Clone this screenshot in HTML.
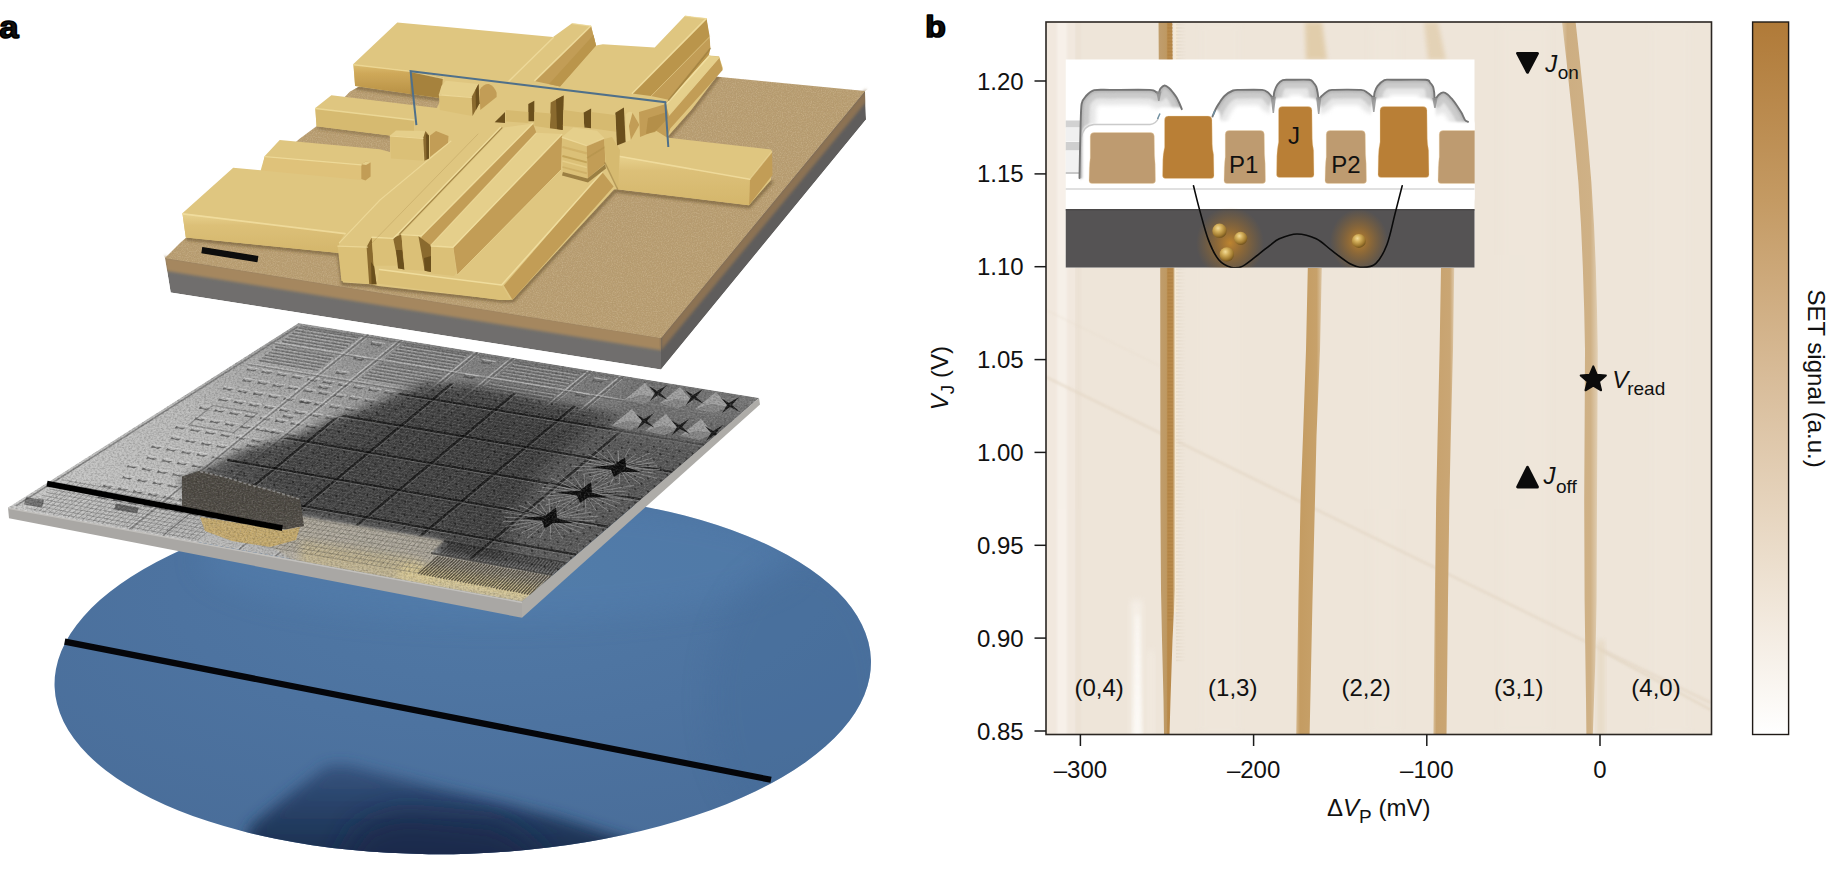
<!DOCTYPE html>
<html><head><meta charset="utf-8"><title>Figure</title>
<style>
html,body{margin:0;padding:0;background:#fff;}
body{width:1828px;height:871px;overflow:hidden;}
svg{display:block;font-family:"Liberation Sans",sans-serif;}
text{font-family:"Liberation Sans",sans-serif;fill:#111;}
</style></head><body>
<svg width="1828" height="871" viewBox="0 0 1828 871">
<rect x="0" y="0" width="1828" height="871" fill="#ffffff"/>
<g id="panela">
<defs>
<radialGradient id="wafg" cx="0.55" cy="0.25" r="0.8"><stop offset="0" stop-color="#5079a6"/><stop offset="0.5" stop-color="#4d73a0"/><stop offset="1" stop-color="#496d99"/></radialGradient>
<linearGradient id="shadg" gradientUnits="userSpaceOnUse" x1="0" y1="765" x2="0" y2="856"><stop offset="0" stop-color="#2f4a74" stop-opacity="0.75"/><stop offset="0.5" stop-color="#223a60" stop-opacity="0.9"/><stop offset="1" stop-color="#1a2e4e" stop-opacity="1"/></linearGradient>
<clipPath id="wafclip"><ellipse cx="462.75" cy="673.2" rx="408.4" ry="180.6" transform="rotate(-1.9 462.75 673.2)"/></clipPath>
<filter id="softa" x="-2%" y="-2%" width="104%" height="104%"><feGaussianBlur stdDeviation="0.55"/></filter>
<filter id="wblur" x="-30%" y="-30%" width="160%" height="160%"><feGaussianBlur stdDeviation="14"/></filter>
<filter id="wblur2" x="-30%" y="-30%" width="160%" height="160%"><feGaussianBlur stdDeviation="7"/></filter>
</defs>
<ellipse cx="462.75" cy="673.2" rx="408.4" ry="180.6" transform="rotate(-1.9 462.75 673.2)" fill="url(#wafg)"/>
<g clip-path="url(#wafclip)">
<ellipse cx="500" cy="560" rx="300" ry="60" fill="#5683b3" opacity="0.35" filter="url(#wblur)"/>
<ellipse cx="800" cy="700" rx="90" ry="140" fill="#456c99" opacity="0.4" filter="url(#wblur)"/>
<g filter="url(#wblur2)">
<polygon points="236,880 250,826 290,794 327,766 346,765 445,790 560,818 635,842 700,880" fill="url(#shadg)" />
</g>
<g filter="url(#wblur)">
<polygon points="330,880 360,826 400,812 500,822 540,850 560,890" fill="#17294a" opacity="0.75"/>
</g>
</g>
<line x1="64.7" y1="641.6" x2="771" y2="779.8" stroke="#05060a" stroke-width="6.2" />
<g filter="url(#softa)">
<g id="chipmid">
<defs>
<clipPath id="midclip"><polygon points="298.5,323 759,398 522,601.5 8,507.4"/></clipPath>
<linearGradient id="midbase" gradientUnits="userSpaceOnUse" x1="20" y1="500" x2="700" y2="380"><stop offset="0" stop-color="#cacac9"/><stop offset="0.25" stop-color="#bcbcbb"/><stop offset="0.6" stop-color="#a6a6a6"/><stop offset="1" stop-color="#989898"/></linearGradient>
<linearGradient id="midback" gradientUnits="userSpaceOnUse" x1="470" y1="340" x2="300" y2="520"><stop offset="0" stop-color="#4a4a4a" stop-opacity="0.42"/><stop offset="0.45" stop-color="#4a4a4a" stop-opacity="0.18"/><stop offset="1" stop-color="#4a4a4a" stop-opacity="0"/></linearGradient>
<filter id="mblur" x="-20%" y="-20%" width="140%" height="140%"><feGaussianBlur stdDeviation="9"/></filter>
<filter id="mblur2" x="-20%" y="-20%" width="140%" height="140%"><feGaussianBlur stdDeviation="4"/></filter>
<filter id="mblur1" x="-20%" y="-20%" width="140%" height="140%"><feGaussianBlur stdDeviation="1.2"/></filter>
<filter id="mblur05" x="-20%" y="-20%" width="140%" height="140%"><feGaussianBlur stdDeviation="0.6"/></filter>
<filter id="mnoise" x="0" y="0" width="100%" height="100%"><feTurbulence type="fractalNoise" baseFrequency="0.45 0.6" numOctaves="2" seed="3" result="n"/><feColorMatrix type="matrix" values="0 0 0 0 0  0 0 0 0 0  0 0 0 0 0  1.3 0 0 0 -0.5"/></filter>
<filter id="mnoisew" x="0" y="0" width="100%" height="100%"><feTurbulence type="fractalNoise" baseFrequency="0.5 0.65" numOctaves="2" seed="11" result="n"/><feColorMatrix type="matrix" values="0 0 0 0 1  0 0 0 0 1  0 0 0 0 1  1.3 0 0 0 -0.55"/></filter>
</defs>
<polygon points="8,507.4 522,601.5 522,617.8 9,518.2" fill="#a9a7a4" />
<polygon points="522,601.5 759,398 760,404.5 522,617.8" fill="#aeaca8" />
<polygon points="8,507.4 8.4,509 522,603.2 522,601.5" fill="#c2c0bd" />
<g clip-path="url(#midclip)">
<polygon points="298.5,323 759,398 522,601.5 8,507.4" fill="url(#midbase)" />
<polygon points="298.5,323 759,398 522,601.5 8,507.4" fill="url(#midback)" />
<polygon points="300.3,326.7 359.6,336.4 339.7,352.6 280.4,342.8" fill="#7c7c7c" opacity="0.35"/>
<line x1="298.7" y1="328" x2="357.9" y2="337.7" stroke="#585858" stroke-width="1.3" opacity="0.55"/>
<line x1="297.3" y1="329.2" x2="356.5" y2="338.9" stroke="#c9c9c9" stroke-width="0.9" opacity="0.55"/>
<line x1="295.3" y1="330.7" x2="354.6" y2="340.4" stroke="#585858" stroke-width="1.3" opacity="0.55"/>
<line x1="293.9" y1="331.9" x2="353.2" y2="341.6" stroke="#c9c9c9" stroke-width="0.9" opacity="0.55"/>
<line x1="292" y1="333.4" x2="351.3" y2="343.1" stroke="#585858" stroke-width="1.3" opacity="0.55"/>
<line x1="290.6" y1="334.5" x2="349.9" y2="344.3" stroke="#c9c9c9" stroke-width="0.9" opacity="0.55"/>
<line x1="288.7" y1="336.1" x2="348" y2="345.8" stroke="#585858" stroke-width="1.3" opacity="0.55"/>
<line x1="287.3" y1="337.2" x2="346.6" y2="347" stroke="#c9c9c9" stroke-width="0.9" opacity="0.55"/>
<line x1="285.4" y1="338.8" x2="344.7" y2="348.5" stroke="#585858" stroke-width="1.3" opacity="0.55"/>
<line x1="284" y1="339.9" x2="343.3" y2="349.7" stroke="#c9c9c9" stroke-width="0.9" opacity="0.55"/>
<line x1="282.1" y1="341.5" x2="341.4" y2="351.2" stroke="#585858" stroke-width="1.3" opacity="0.55"/>
<line x1="280.7" y1="342.6" x2="340" y2="352.4" stroke="#c9c9c9" stroke-width="0.9" opacity="0.55"/>
<polygon points="276.9,345.7 336.2,355.5 316.2,371.8 256.9,361.9" fill="#7c7c7c" opacity="0.35"/>
<line x1="275.2" y1="347" x2="334.5" y2="356.8" stroke="#585858" stroke-width="1.3" opacity="0.55"/>
<line x1="273.8" y1="348.2" x2="333.1" y2="358" stroke="#c9c9c9" stroke-width="0.9" opacity="0.55"/>
<line x1="271.9" y1="349.7" x2="331.2" y2="359.5" stroke="#585858" stroke-width="1.3" opacity="0.55"/>
<line x1="270.5" y1="350.8" x2="329.8" y2="360.7" stroke="#c9c9c9" stroke-width="0.9" opacity="0.55"/>
<line x1="268.6" y1="352.4" x2="327.9" y2="362.2" stroke="#585858" stroke-width="1.3" opacity="0.55"/>
<line x1="267.1" y1="353.5" x2="326.5" y2="363.4" stroke="#c9c9c9" stroke-width="0.9" opacity="0.55"/>
<line x1="265.2" y1="355.1" x2="324.6" y2="365" stroke="#585858" stroke-width="1.3" opacity="0.55"/>
<line x1="263.8" y1="356.2" x2="323.1" y2="366.1" stroke="#c9c9c9" stroke-width="0.9" opacity="0.55"/>
<line x1="261.9" y1="357.8" x2="321.2" y2="367.7" stroke="#585858" stroke-width="1.3" opacity="0.55"/>
<line x1="260.5" y1="358.9" x2="319.8" y2="368.8" stroke="#c9c9c9" stroke-width="0.9" opacity="0.55"/>
<line x1="258.5" y1="360.5" x2="317.9" y2="370.4" stroke="#585858" stroke-width="1.3" opacity="0.55"/>
<line x1="257.1" y1="361.6" x2="316.5" y2="371.5" stroke="#c9c9c9" stroke-width="0.9" opacity="0.55"/>
<polygon points="403.7,343.6 468.6,354.2 448.7,370.6 383.8,359.9" fill="#7c7c7c" opacity="0.35"/>
<line x1="402" y1="344.9" x2="466.9" y2="355.5" stroke="#585858" stroke-width="1.3" opacity="0.55"/>
<line x1="400.6" y1="346.1" x2="465.5" y2="356.7" stroke="#c9c9c9" stroke-width="0.9" opacity="0.55"/>
<line x1="398.7" y1="347.6" x2="463.6" y2="358.2" stroke="#585858" stroke-width="1.3" opacity="0.55"/>
<line x1="397.3" y1="348.8" x2="462.2" y2="359.4" stroke="#c9c9c9" stroke-width="0.9" opacity="0.55"/>
<line x1="395.4" y1="350.3" x2="460.3" y2="361" stroke="#585858" stroke-width="1.3" opacity="0.55"/>
<line x1="394" y1="351.5" x2="458.9" y2="362.1" stroke="#c9c9c9" stroke-width="0.9" opacity="0.55"/>
<line x1="392.1" y1="353.1" x2="457" y2="363.7" stroke="#585858" stroke-width="1.3" opacity="0.55"/>
<line x1="390.7" y1="354.2" x2="455.6" y2="364.9" stroke="#c9c9c9" stroke-width="0.9" opacity="0.55"/>
<line x1="388.8" y1="355.8" x2="453.7" y2="366.5" stroke="#585858" stroke-width="1.3" opacity="0.55"/>
<line x1="387.4" y1="356.9" x2="452.3" y2="367.6" stroke="#c9c9c9" stroke-width="0.9" opacity="0.55"/>
<line x1="385.5" y1="358.5" x2="450.4" y2="369.2" stroke="#585858" stroke-width="1.3" opacity="0.55"/>
<line x1="384.1" y1="359.6" x2="449" y2="370.3" stroke="#c9c9c9" stroke-width="0.9" opacity="0.55"/>
<polygon points="380.3,362.7 445.2,373.5 425.3,389.9 360.3,379.1" fill="#7c7c7c" opacity="0.35"/>
<line x1="378.6" y1="364.1" x2="443.6" y2="374.8" stroke="#585858" stroke-width="1.3" opacity="0.55"/>
<line x1="377.2" y1="365.3" x2="442.2" y2="376" stroke="#c9c9c9" stroke-width="0.9" opacity="0.55"/>
<line x1="375.3" y1="366.8" x2="440.3" y2="377.6" stroke="#585858" stroke-width="1.3" opacity="0.55"/>
<line x1="373.9" y1="368" x2="438.8" y2="378.7" stroke="#c9c9c9" stroke-width="0.9" opacity="0.55"/>
<line x1="372" y1="369.6" x2="436.9" y2="380.3" stroke="#585858" stroke-width="1.3" opacity="0.55"/>
<line x1="370.6" y1="370.7" x2="435.5" y2="381.5" stroke="#c9c9c9" stroke-width="0.9" opacity="0.55"/>
<line x1="368.7" y1="372.3" x2="433.6" y2="383.1" stroke="#585858" stroke-width="1.3" opacity="0.55"/>
<line x1="367.2" y1="373.4" x2="432.2" y2="384.2" stroke="#c9c9c9" stroke-width="0.9" opacity="0.55"/>
<line x1="365.3" y1="375" x2="430.3" y2="385.8" stroke="#585858" stroke-width="1.3" opacity="0.55"/>
<line x1="363.9" y1="376.2" x2="428.9" y2="387" stroke="#c9c9c9" stroke-width="0.9" opacity="0.55"/>
<line x1="362" y1="377.7" x2="427" y2="388.6" stroke="#585858" stroke-width="1.3" opacity="0.55"/>
<line x1="360.6" y1="378.9" x2="425.5" y2="389.7" stroke="#c9c9c9" stroke-width="0.9" opacity="0.55"/>
<polygon points="515.8,361.9 581.9,372.6 562.1,389.2 495.9,378.3" fill="#7c7c7c" opacity="0.35"/>
<line x1="514.1" y1="363.2" x2="580.3" y2="374" stroke="#585858" stroke-width="1.3" opacity="0.55"/>
<line x1="512.7" y1="364.4" x2="578.9" y2="375.2" stroke="#c9c9c9" stroke-width="0.9" opacity="0.55"/>
<line x1="510.8" y1="366" x2="577" y2="376.8" stroke="#585858" stroke-width="1.3" opacity="0.55"/>
<line x1="509.4" y1="367.1" x2="575.6" y2="378" stroke="#c9c9c9" stroke-width="0.9" opacity="0.55"/>
<line x1="507.5" y1="368.7" x2="573.7" y2="379.6" stroke="#585858" stroke-width="1.3" opacity="0.55"/>
<line x1="506.1" y1="369.9" x2="572.3" y2="380.7" stroke="#c9c9c9" stroke-width="0.9" opacity="0.55"/>
<line x1="504.2" y1="371.5" x2="570.4" y2="382.3" stroke="#585858" stroke-width="1.3" opacity="0.55"/>
<line x1="502.8" y1="372.6" x2="569" y2="383.5" stroke="#c9c9c9" stroke-width="0.9" opacity="0.55"/>
<line x1="500.9" y1="374.2" x2="567.1" y2="385.1" stroke="#585858" stroke-width="1.3" opacity="0.55"/>
<line x1="499.5" y1="375.4" x2="565.7" y2="386.3" stroke="#c9c9c9" stroke-width="0.9" opacity="0.55"/>
<line x1="497.6" y1="377" x2="563.8" y2="387.9" stroke="#585858" stroke-width="1.3" opacity="0.55"/>
<line x1="496.2" y1="378.1" x2="562.4" y2="389" stroke="#c9c9c9" stroke-width="0.9" opacity="0.55"/>
<polygon points="492.4,381.3 558.6,392.2 538.7,408.9 472.5,397.8" fill="#7c7c7c" opacity="0.35"/>
<line x1="490.8" y1="382.6" x2="557" y2="393.6" stroke="#585858" stroke-width="1.3" opacity="0.55"/>
<line x1="489.4" y1="383.8" x2="555.6" y2="394.7" stroke="#c9c9c9" stroke-width="0.9" opacity="0.55"/>
<line x1="487.5" y1="385.4" x2="553.7" y2="396.3" stroke="#585858" stroke-width="1.3" opacity="0.55"/>
<line x1="486.1" y1="386.6" x2="552.3" y2="397.5" stroke="#c9c9c9" stroke-width="0.9" opacity="0.55"/>
<line x1="484.2" y1="388.1" x2="550.4" y2="399.1" stroke="#585858" stroke-width="1.3" opacity="0.55"/>
<line x1="482.8" y1="389.3" x2="548.9" y2="400.3" stroke="#c9c9c9" stroke-width="0.9" opacity="0.55"/>
<line x1="480.8" y1="390.9" x2="547" y2="401.9" stroke="#585858" stroke-width="1.3" opacity="0.55"/>
<line x1="479.4" y1="392.1" x2="545.6" y2="403.1" stroke="#c9c9c9" stroke-width="0.9" opacity="0.55"/>
<line x1="477.5" y1="393.7" x2="543.7" y2="404.7" stroke="#585858" stroke-width="1.3" opacity="0.55"/>
<line x1="476.1" y1="394.8" x2="542.3" y2="405.9" stroke="#c9c9c9" stroke-width="0.9" opacity="0.55"/>
<line x1="474.2" y1="396.4" x2="540.4" y2="407.5" stroke="#585858" stroke-width="1.3" opacity="0.55"/>
<line x1="472.8" y1="397.6" x2="539" y2="408.7" stroke="#c9c9c9" stroke-width="0.9" opacity="0.55"/>
<polygon points="371.9,342.6 376,344.5 382.7,344.4 378.8,346.5 375.1,345.3 370.2,345.1" fill="#4a4a4a" opacity="0.7"/>
<line x1="372.1" y1="341.4" x2="385.1" y2="343.5" stroke="#d6d6d6" stroke-width="1.1" opacity="0.65"/>
<polygon points="354.4,356.9 358.5,358.9 365.2,358.7 361.2,360.9 357.6,359.6 352.6,359.4" fill="#4a4a4a" opacity="0.7"/>
<line x1="354.6" y1="355.7" x2="367.5" y2="357.8" stroke="#d6d6d6" stroke-width="1.1" opacity="0.65"/>
<polygon points="336.7,371.3 340.8,373.3 347.5,373.1 343.6,375.3 339.9,374 335,373.8" fill="#4a4a4a" opacity="0.7"/>
<line x1="337" y1="370.1" x2="349.9" y2="372.2" stroke="#d6d6d6" stroke-width="1.1" opacity="0.65"/>
<polygon points="319.1,385.8 323.2,387.7 329.9,387.6 325.9,389.8 322.3,388.5 317.3,388.3" fill="#4a4a4a" opacity="0.7"/>
<line x1="319.3" y1="384.5" x2="332.2" y2="386.7" stroke="#d6d6d6" stroke-width="1.1" opacity="0.65"/>
<polygon points="301.3,400.3 305.4,402.3 312.1,402.1 308.2,404.3 304.5,403 299.5,402.8" fill="#4a4a4a" opacity="0.7"/>
<line x1="301.5" y1="399" x2="314.5" y2="401.2" stroke="#d6d6d6" stroke-width="1.1" opacity="0.65"/>
<polygon points="283.5,414.8 287.6,416.8 294.3,416.7 290.3,418.9 286.7,417.6 281.7,417.4" fill="#4a4a4a" opacity="0.7"/>
<line x1="283.7" y1="413.6" x2="296.7" y2="415.8" stroke="#d6d6d6" stroke-width="1.1" opacity="0.65"/>
<polygon points="265.6,429.5 269.7,431.5 276.4,431.3 272.5,433.5 268.8,432.2 263.8,432" fill="#4a4a4a" opacity="0.7"/>
<line x1="265.8" y1="428.2" x2="278.8" y2="430.4" stroke="#d6d6d6" stroke-width="1.1" opacity="0.65"/>
<polygon points="247.7,444.1 251.8,446.1 258.5,446 254.5,448.2 250.8,446.9 245.8,446.7" fill="#4a4a4a" opacity="0.7"/>
<line x1="247.9" y1="442.9" x2="260.9" y2="445.1" stroke="#d6d6d6" stroke-width="1.1" opacity="0.65"/>
<polygon points="229.6,458.9 233.7,460.9 240.5,460.8 236.5,462.9 232.8,461.6 227.8,461.4" fill="#4a4a4a" opacity="0.7"/>
<line x1="229.9" y1="457.6" x2="242.9" y2="459.9" stroke="#d6d6d6" stroke-width="1.1" opacity="0.65"/>
<polygon points="211.6,473.6 215.6,475.7 222.4,475.5 218.4,477.8 214.7,476.4 209.7,476.2" fill="#4a4a4a" opacity="0.7"/>
<line x1="211.8" y1="472.4" x2="224.8" y2="474.7" stroke="#d6d6d6" stroke-width="1.1" opacity="0.65"/>
<polygon points="193.4,488.5 197.5,490.5 204.2,490.4 200.2,492.6 196.5,491.3 191.5,491.1" fill="#4a4a4a" opacity="0.7"/>
<line x1="193.7" y1="487.2" x2="206.7" y2="489.5" stroke="#d6d6d6" stroke-width="1.1" opacity="0.65"/>
<polygon points="175.2,503.4 179.3,505.4 186,505.3 182,507.5 178.3,506.2 173.3,506" fill="#4a4a4a" opacity="0.7"/>
<line x1="175.4" y1="502.1" x2="188.4" y2="504.4" stroke="#d6d6d6" stroke-width="1.1" opacity="0.65"/>
<polygon points="482.3,360.7 486.6,362.6 493.3,362.4 489.4,364.6 485.7,363.4 480.6,363.2" fill="#4a4a4a" opacity="0.7"/>
<line x1="482.5" y1="359.4" x2="495.7" y2="361.6" stroke="#d6d6d6" stroke-width="1.1" opacity="0.65"/>
<polygon points="464.8,375.2 469,377.1 475.8,377 471.9,379.1 468.1,377.9 463.1,377.7" fill="#4a4a4a" opacity="0.7"/>
<line x1="465" y1="373.9" x2="478.2" y2="376.1" stroke="#d6d6d6" stroke-width="1.1" opacity="0.65"/>
<polygon points="447.3,389.7 451.5,391.7 458.3,391.6 454.3,393.7 450.6,392.5 445.5,392.3" fill="#4a4a4a" opacity="0.7"/>
<line x1="447.5" y1="388.5" x2="460.7" y2="390.7" stroke="#d6d6d6" stroke-width="1.1" opacity="0.65"/>
<polygon points="429.6,404.3 433.8,406.3 440.6,406.2 436.7,408.4 432.9,407.1 427.9,406.9" fill="#4a4a4a" opacity="0.7"/>
<line x1="429.8" y1="403.1" x2="443" y2="405.3" stroke="#d6d6d6" stroke-width="1.1" opacity="0.65"/>
<polygon points="411.9,419 416.1,421 422.9,420.9 419,423.1 415.2,421.8 410.2,421.6" fill="#4a4a4a" opacity="0.7"/>
<line x1="412.1" y1="417.8" x2="425.3" y2="420" stroke="#d6d6d6" stroke-width="1.1" opacity="0.65"/>
<polygon points="394.1,433.8 398.3,435.8 405.2,435.6 401.2,437.8 397.4,436.5 392.4,436.3" fill="#4a4a4a" opacity="0.7"/>
<line x1="394.4" y1="432.5" x2="407.6" y2="434.7" stroke="#d6d6d6" stroke-width="1.1" opacity="0.65"/>
<polygon points="376.3,448.5 380.5,450.6 387.3,450.4 383.3,452.6 379.6,451.3 374.5,451.1" fill="#4a4a4a" opacity="0.7"/>
<line x1="376.5" y1="447.3" x2="389.7" y2="449.5" stroke="#d6d6d6" stroke-width="1.1" opacity="0.65"/>
<polygon points="358.4,463.4 362.6,465.4 369.4,465.3 365.4,467.5 361.7,466.2 356.6,466" fill="#4a4a4a" opacity="0.7"/>
<line x1="358.6" y1="462.1" x2="371.8" y2="464.4" stroke="#d6d6d6" stroke-width="1.1" opacity="0.65"/>
<polygon points="340.4,478.3 344.6,480.4 351.5,480.2 347.4,482.4 343.7,481.1 338.6,480.9" fill="#4a4a4a" opacity="0.7"/>
<line x1="340.6" y1="477" x2="353.9" y2="479.3" stroke="#d6d6d6" stroke-width="1.1" opacity="0.65"/>
<polygon points="322.4,493.3 326.6,495.3 333.4,495.2 329.4,497.4 325.6,496.1 320.6,495.9" fill="#4a4a4a" opacity="0.7"/>
<line x1="322.6" y1="492" x2="335.8" y2="494.3" stroke="#d6d6d6" stroke-width="1.1" opacity="0.65"/>
<polygon points="304.3,508.3 308.4,510.4 315.3,510.2 311.3,512.5 307.5,511.1 302.4,510.9" fill="#4a4a4a" opacity="0.7"/>
<line x1="304.5" y1="507" x2="317.7" y2="509.3" stroke="#d6d6d6" stroke-width="1.1" opacity="0.65"/>
<polygon points="286.1,523.3 290.3,525.4 297.1,525.3 293.1,527.6 289.3,526.2 284.2,526" fill="#4a4a4a" opacity="0.7"/>
<line x1="286.3" y1="522" x2="299.6" y2="524.4" stroke="#d6d6d6" stroke-width="1.1" opacity="0.65"/>
<polygon points="593.7,378.9 598,380.9 604.9,380.7 601,382.9 597.1,381.6 592,381.4" fill="#4a4a4a" opacity="0.7"/>
<line x1="593.9" y1="377.6" x2="607.3" y2="379.8" stroke="#d6d6d6" stroke-width="1.1" opacity="0.65"/>
<polygon points="576.2,393.5 580.6,395.5 587.5,395.4 583.5,397.6 579.7,396.3 574.5,396.1" fill="#4a4a4a" opacity="0.7"/>
<line x1="576.4" y1="392.3" x2="589.9" y2="394.5" stroke="#d6d6d6" stroke-width="1.1" opacity="0.65"/>
<polygon points="558.7,408.3 563,410.3 569.9,410.1 566,412.3 562.1,411.1 557,410.8" fill="#4a4a4a" opacity="0.7"/>
<line x1="558.9" y1="407" x2="572.3" y2="409.2" stroke="#d6d6d6" stroke-width="1.1" opacity="0.65"/>
<polygon points="541.1,423.1 545.4,425.1 552.3,425 548.4,427.2 544.5,425.9 539.4,425.7" fill="#4a4a4a" opacity="0.7"/>
<line x1="541.3" y1="421.8" x2="554.8" y2="424.1" stroke="#d6d6d6" stroke-width="1.1" opacity="0.65"/>
<polygon points="523.5,437.9 527.8,440 534.7,439.8 530.7,442 526.9,440.7 521.7,440.5" fill="#4a4a4a" opacity="0.7"/>
<line x1="523.6" y1="436.6" x2="537.1" y2="438.9" stroke="#d6d6d6" stroke-width="1.1" opacity="0.65"/>
<polygon points="505.7,452.8 510.1,454.9 517,454.8 513,457 509.1,455.7 504,455.4" fill="#4a4a4a" opacity="0.7"/>
<line x1="505.9" y1="451.5" x2="519.4" y2="453.8" stroke="#d6d6d6" stroke-width="1.1" opacity="0.65"/>
<polygon points="487.9,467.8 492.3,469.9 499.2,469.7 495.2,472 491.3,470.6 486.2,470.4" fill="#4a4a4a" opacity="0.7"/>
<line x1="488.1" y1="466.5" x2="501.6" y2="468.8" stroke="#d6d6d6" stroke-width="1.1" opacity="0.65"/>
<polygon points="470.1,482.8 474.4,484.9 481.3,484.8 477.3,487 473.5,485.7 468.3,485.4" fill="#4a4a4a" opacity="0.7"/>
<line x1="470.3" y1="481.5" x2="483.8" y2="483.9" stroke="#d6d6d6" stroke-width="1.1" opacity="0.65"/>
<polygon points="452.2,497.9 456.5,500 463.4,499.9 459.4,502.1 455.5,500.8 450.4,500.5" fill="#4a4a4a" opacity="0.7"/>
<line x1="452.3" y1="496.6" x2="465.8" y2="499" stroke="#d6d6d6" stroke-width="1.1" opacity="0.65"/>
<polygon points="434.2,513 438.5,515.2 445.4,515 441.4,517.3 437.5,515.9 432.4,515.7" fill="#4a4a4a" opacity="0.7"/>
<line x1="434.4" y1="511.7" x2="447.8" y2="514.1" stroke="#d6d6d6" stroke-width="1.1" opacity="0.65"/>
<polygon points="416.1,528.2 420.4,530.4 427.3,530.3 423.3,532.5 419.4,531.1 414.3,530.9" fill="#4a4a4a" opacity="0.7"/>
<line x1="416.3" y1="526.9" x2="429.8" y2="529.3" stroke="#d6d6d6" stroke-width="1.1" opacity="0.65"/>
<polygon points="397.9,543.5 402.2,545.6 409.2,545.5 405.1,547.8 401.3,546.4 396.1,546.2" fill="#4a4a4a" opacity="0.7"/>
<line x1="398.1" y1="542.2" x2="411.7" y2="544.6" stroke="#d6d6d6" stroke-width="1.1" opacity="0.65"/>
<polygon points="247.6,368.2 251.2,369.9 257.2,369.8 253.7,371.7 250.4,370.6 246,370.4" fill="#4a4a4a" opacity="0.7"/>
<line x1="247.8" y1="367" x2="259.3" y2="369" stroke="#d6d6d6" stroke-width="1.1" opacity="0.65"/>
<polygon points="262.7,370.7 266.3,372.4 272.3,372.3 268.8,374.2 265.5,373.1 261.1,372.9" fill="#4a4a4a" opacity="0.7"/>
<line x1="262.9" y1="369.6" x2="274.5" y2="371.5" stroke="#d6d6d6" stroke-width="1.1" opacity="0.65"/>
<polygon points="277.9,373.2 281.5,375 287.5,374.8 284,376.8 280.7,375.6 276.2,375.5" fill="#4a4a4a" opacity="0.7"/>
<line x1="278.1" y1="372.1" x2="289.6" y2="374" stroke="#d6d6d6" stroke-width="1.1" opacity="0.65"/>
<polygon points="293,375.8 296.7,377.5 302.7,377.4 299.2,379.3 295.9,378.2 291.4,378" fill="#4a4a4a" opacity="0.7"/>
<line x1="293.2" y1="374.7" x2="304.9" y2="376.6" stroke="#d6d6d6" stroke-width="1.1" opacity="0.65"/>
<polygon points="308.3,378.3 312,380.1 318,379.9 314.4,381.9 311.1,380.7 306.7,380.6" fill="#4a4a4a" opacity="0.7"/>
<line x1="308.5" y1="377.2" x2="320.1" y2="379.1" stroke="#d6d6d6" stroke-width="1.1" opacity="0.65"/>
<polygon points="323.5,380.9 327.2,382.6 333.3,382.5 329.7,384.4 326.4,383.3 321.9,383.1" fill="#4a4a4a" opacity="0.7"/>
<line x1="323.7" y1="379.8" x2="335.4" y2="381.7" stroke="#d6d6d6" stroke-width="1.1" opacity="0.65"/>
<polygon points="338.9,383.4 342.6,385.2 348.6,385.1 345.1,387 341.7,385.9 337.3,385.7" fill="#4a4a4a" opacity="0.7"/>
<line x1="339" y1="382.3" x2="350.7" y2="384.3" stroke="#d6d6d6" stroke-width="1.1" opacity="0.65"/>
<polygon points="354.2,386 357.9,387.8 364,387.6 360.4,389.6 357.1,388.5 352.6,388.3" fill="#4a4a4a" opacity="0.7"/>
<line x1="354.4" y1="384.9" x2="366.1" y2="386.8" stroke="#d6d6d6" stroke-width="1.1" opacity="0.65"/>
<polygon points="369.6,388.6 373.3,390.4 379.4,390.2 375.8,392.2 372.5,391 368,390.9" fill="#4a4a4a" opacity="0.7"/>
<line x1="369.8" y1="387.5" x2="381.5" y2="389.4" stroke="#d6d6d6" stroke-width="1.1" opacity="0.65"/>
<polygon points="385,391.2 388.8,393 394.8,392.8 391.3,394.8 387.9,393.6 383.4,393.4" fill="#4a4a4a" opacity="0.7"/>
<line x1="385.2" y1="390" x2="397" y2="392" stroke="#d6d6d6" stroke-width="1.1" opacity="0.65"/>
<polygon points="400.5,393.8 404.2,395.5 410.3,395.4 406.8,397.4 403.4,396.2 398.9,396" fill="#4a4a4a" opacity="0.7"/>
<line x1="400.7" y1="392.6" x2="412.5" y2="394.6" stroke="#d6d6d6" stroke-width="1.1" opacity="0.65"/>
<polygon points="416,396.4 419.8,398.1 425.9,398 422.3,400 419,398.8 414.4,398.6" fill="#4a4a4a" opacity="0.7"/>
<line x1="416.2" y1="395.2" x2="428" y2="397.2" stroke="#d6d6d6" stroke-width="1.1" opacity="0.65"/>
<polygon points="243.3,379 246.9,380.8 252.9,380.6 249.4,382.5 246.1,381.4 241.7,381.3" fill="#4a4a4a" opacity="0.7"/>
<line x1="243.5" y1="377.9" x2="255.1" y2="379.8" stroke="#d6d6d6" stroke-width="1.1" opacity="0.65"/>
<polygon points="258.5,381.5 262.1,383.3 268.1,383.2 264.5,385.1 261.3,384 256.8,383.8" fill="#4a4a4a" opacity="0.7"/>
<line x1="258.7" y1="380.4" x2="270.2" y2="382.4" stroke="#d6d6d6" stroke-width="1.1" opacity="0.65"/>
<polygon points="273.6,384.1 277.3,385.9 283.3,385.7 279.7,387.7 276.5,386.5 272,386.4" fill="#4a4a4a" opacity="0.7"/>
<line x1="273.8" y1="383" x2="285.4" y2="384.9" stroke="#d6d6d6" stroke-width="1.1" opacity="0.65"/>
<polygon points="288.8,386.7 292.5,388.4 298.5,388.3 295,390.2 291.7,389.1 287.2,388.9" fill="#4a4a4a" opacity="0.7"/>
<line x1="289" y1="385.6" x2="300.7" y2="387.5" stroke="#d6d6d6" stroke-width="1.1" opacity="0.65"/>
<polygon points="304.1,389.2 307.8,391 313.8,390.9 310.3,392.8 307,391.7 302.5,391.5" fill="#4a4a4a" opacity="0.7"/>
<line x1="304.3" y1="388.1" x2="315.9" y2="390.1" stroke="#d6d6d6" stroke-width="1.1" opacity="0.65"/>
<polygon points="319.4,391.8 323.1,393.6 329.1,393.5 325.6,395.4 322.3,394.3 317.8,394.1" fill="#4a4a4a" opacity="0.7"/>
<line x1="319.6" y1="390.7" x2="331.3" y2="392.7" stroke="#d6d6d6" stroke-width="1.1" opacity="0.65"/>
<polygon points="334.7,394.4 338.4,396.2 344.5,396 340.9,398 337.6,396.8 333.1,396.7" fill="#4a4a4a" opacity="0.7"/>
<line x1="334.9" y1="393.3" x2="346.6" y2="395.2" stroke="#d6d6d6" stroke-width="1.1" opacity="0.65"/>
<polygon points="350.1,397 353.8,398.8 359.9,398.6 356.3,400.6 353,399.4 348.5,399.3" fill="#4a4a4a" opacity="0.7"/>
<line x1="350.3" y1="395.9" x2="362" y2="397.8" stroke="#d6d6d6" stroke-width="1.1" opacity="0.65"/>
<polygon points="365.5,399.6 369.2,401.4 375.3,401.2 371.8,403.2 368.4,402 363.9,401.9" fill="#4a4a4a" opacity="0.7"/>
<line x1="365.7" y1="398.5" x2="377.5" y2="400.4" stroke="#d6d6d6" stroke-width="1.1" opacity="0.65"/>
<polygon points="381,402.2 384.7,404 390.8,403.8 387.2,405.8 383.9,404.7 379.4,404.5" fill="#4a4a4a" opacity="0.7"/>
<line x1="381.1" y1="401.1" x2="393" y2="403" stroke="#d6d6d6" stroke-width="1.1" opacity="0.65"/>
<polygon points="396.5,404.8 400.2,406.6 406.3,406.5 402.8,408.4 399.4,407.3 394.9,407.1" fill="#4a4a4a" opacity="0.7"/>
<line x1="396.6" y1="403.7" x2="408.5" y2="405.7" stroke="#d6d6d6" stroke-width="1.1" opacity="0.65"/>
<polygon points="412,407.4 415.8,409.2 421.9,409.1 418.3,411 414.9,409.9 410.4,409.7" fill="#4a4a4a" opacity="0.7"/>
<line x1="412.2" y1="406.3" x2="424" y2="408.3" stroke="#d6d6d6" stroke-width="1.1" opacity="0.65"/>
<polygon points="223.9,387.3 227.5,389.1 233.5,388.9 230,390.9 226.7,389.8 222.3,389.6" fill="#4a4a4a" opacity="0.7"/>
<line x1="224.1" y1="386.2" x2="235.6" y2="388.2" stroke="#d6d6d6" stroke-width="1.1" opacity="0.65"/>
<polygon points="239,389.9 242.7,391.7 248.7,391.5 245.1,393.5 241.8,392.3 237.4,392.1" fill="#4a4a4a" opacity="0.7"/>
<line x1="239.2" y1="388.8" x2="250.8" y2="390.7" stroke="#d6d6d6" stroke-width="1.1" opacity="0.65"/>
<polygon points="254.2,392.5 257.8,394.2 263.8,394.1 260.3,396 257,394.9 252.6,394.7" fill="#4a4a4a" opacity="0.7"/>
<line x1="254.4" y1="391.3" x2="266" y2="393.3" stroke="#d6d6d6" stroke-width="1.1" opacity="0.65"/>
<polygon points="269.4,395 273,396.8 279.1,396.7 275.5,398.6 272.2,397.5 267.8,397.3" fill="#4a4a4a" opacity="0.7"/>
<line x1="269.6" y1="393.9" x2="281.2" y2="395.9" stroke="#d6d6d6" stroke-width="1.1" opacity="0.65"/>
<polygon points="284.6,397.6 288.3,399.4 294.3,399.3 290.8,401.2 287.5,400.1 283,399.9" fill="#4a4a4a" opacity="0.7"/>
<line x1="284.8" y1="396.5" x2="296.5" y2="398.5" stroke="#d6d6d6" stroke-width="1.1" opacity="0.65"/>
<polygon points="299.9,400.2 303.6,402 309.6,401.8 306.1,403.8 302.8,402.7 298.3,402.5" fill="#4a4a4a" opacity="0.7"/>
<line x1="300.1" y1="399.1" x2="311.8" y2="401.1" stroke="#d6d6d6" stroke-width="1.1" opacity="0.65"/>
<polygon points="315.2,402.8 318.9,404.6 325,404.4 321.4,406.4 318.1,405.3 313.6,405.1" fill="#4a4a4a" opacity="0.7"/>
<line x1="315.4" y1="401.7" x2="327.1" y2="403.6" stroke="#d6d6d6" stroke-width="1.1" opacity="0.65"/>
<polygon points="330.6,405.4 334.3,407.2 340.3,407.1 336.8,409 333.5,407.9 329,407.7" fill="#4a4a4a" opacity="0.7"/>
<line x1="330.8" y1="404.3" x2="342.5" y2="406.3" stroke="#d6d6d6" stroke-width="1.1" opacity="0.65"/>
<polygon points="346,408 349.7,409.8 355.8,409.7 352.2,411.6 348.9,410.5 344.4,410.3" fill="#4a4a4a" opacity="0.7"/>
<line x1="346.2" y1="406.9" x2="357.9" y2="408.9" stroke="#d6d6d6" stroke-width="1.1" opacity="0.65"/>
<polygon points="361.4,410.6 365.1,412.4 371.2,412.3 367.7,414.2 364.3,413.1 359.8,412.9" fill="#4a4a4a" opacity="0.7"/>
<line x1="361.6" y1="409.5" x2="373.4" y2="411.5" stroke="#d6d6d6" stroke-width="1.1" opacity="0.65"/>
<polygon points="376.9,413.2 380.6,415 386.7,414.9 383.2,416.9 379.8,415.7 375.3,415.5" fill="#4a4a4a" opacity="0.7"/>
<line x1="377.1" y1="412.1" x2="388.9" y2="414.1" stroke="#d6d6d6" stroke-width="1.1" opacity="0.65"/>
<polygon points="392.4,415.9 396.2,417.7 402.3,417.5 398.7,419.5 395.3,418.4 390.8,418.2" fill="#4a4a4a" opacity="0.7"/>
<line x1="392.6" y1="414.7" x2="404.4" y2="416.7" stroke="#d6d6d6" stroke-width="1.1" opacity="0.65"/>
<polygon points="219.6,398.2 223.2,400 229.2,399.9 225.6,401.8 222.4,400.7 217.9,400.5" fill="#4a4a4a" opacity="0.7"/>
<line x1="219.8" y1="397.1" x2="231.3" y2="399.1" stroke="#d6d6d6" stroke-width="1.1" opacity="0.65"/>
<polygon points="234.7,400.8 238.4,402.6 244.4,402.5 240.8,404.4 237.5,403.3 233.1,403.1" fill="#4a4a4a" opacity="0.7"/>
<line x1="234.9" y1="399.7" x2="246.5" y2="401.7" stroke="#d6d6d6" stroke-width="1.1" opacity="0.65"/>
<polygon points="249.9,403.4 253.6,405.2 259.6,405 256,407 252.7,405.9 248.3,405.7" fill="#4a4a4a" opacity="0.7"/>
<line x1="250.1" y1="402.3" x2="261.7" y2="404.3" stroke="#d6d6d6" stroke-width="1.1" opacity="0.65"/>
<polygon points="265.1,406 268.8,407.8 274.8,407.6 271.2,409.6 268,408.5 263.5,408.3" fill="#4a4a4a" opacity="0.7"/>
<line x1="265.3" y1="404.9" x2="277" y2="406.9" stroke="#d6d6d6" stroke-width="1.1" opacity="0.65"/>
<polygon points="280.4,408.6 284.1,410.4 290.1,410.3 286.5,412.2 283.2,411.1 278.8,410.9" fill="#4a4a4a" opacity="0.7"/>
<line x1="280.6" y1="407.5" x2="292.2" y2="409.5" stroke="#d6d6d6" stroke-width="1.1" opacity="0.65"/>
<polygon points="295.7,411.2 299.4,413 305.4,412.9 301.9,414.8 298.5,413.7 294.1,413.5" fill="#4a4a4a" opacity="0.7"/>
<line x1="295.9" y1="410.1" x2="307.6" y2="412.1" stroke="#d6d6d6" stroke-width="1.1" opacity="0.65"/>
<polygon points="311,413.8 314.7,415.6 320.8,415.5 317.2,417.4 313.9,416.3 309.4,416.1" fill="#4a4a4a" opacity="0.7"/>
<line x1="311.2" y1="412.7" x2="322.9" y2="414.7" stroke="#d6d6d6" stroke-width="1.1" opacity="0.65"/>
<polygon points="326.4,416.4 330.1,418.2 336.2,418.1 332.6,420.1 329.3,418.9 324.8,418.7" fill="#4a4a4a" opacity="0.7"/>
<line x1="326.6" y1="415.3" x2="338.3" y2="417.3" stroke="#d6d6d6" stroke-width="1.1" opacity="0.65"/>
<polygon points="341.8,419.1 345.6,420.9 351.6,420.7 348.1,422.7 344.7,421.5 340.2,421.4" fill="#4a4a4a" opacity="0.7"/>
<line x1="342" y1="417.9" x2="353.8" y2="419.9" stroke="#d6d6d6" stroke-width="1.1" opacity="0.65"/>
<polygon points="357.3,421.7 361,423.5 367.1,423.4 363.6,425.3 360.2,424.2 355.7,424" fill="#4a4a4a" opacity="0.7"/>
<line x1="357.5" y1="420.6" x2="369.3" y2="422.6" stroke="#d6d6d6" stroke-width="1.1" opacity="0.65"/>
<polygon points="372.8,424.3 376.5,426.2 382.7,426 379.1,428 375.7,426.8 371.2,426.6" fill="#4a4a4a" opacity="0.7"/>
<line x1="373" y1="423.2" x2="384.8" y2="425.2" stroke="#d6d6d6" stroke-width="1.1" opacity="0.65"/>
<polygon points="388.3,427 392.1,428.8 398.2,428.7 394.7,430.7 391.3,429.5 386.7,429.3" fill="#4a4a4a" opacity="0.7"/>
<line x1="388.5" y1="425.9" x2="400.4" y2="427.9" stroke="#d6d6d6" stroke-width="1.1" opacity="0.65"/>
<polygon points="200.1,406.6 203.7,408.4 209.7,408.2 206.1,410.2 202.9,409 198.5,408.9" fill="#4a4a4a" opacity="0.7"/>
<line x1="200.3" y1="405.5" x2="211.8" y2="407.4" stroke="#d6d6d6" stroke-width="1.1" opacity="0.65"/>
<polygon points="215.2,409.2 218.9,411 224.9,410.8 221.3,412.8 218,411.6 213.6,411.5" fill="#4a4a4a" opacity="0.7"/>
<line x1="215.4" y1="408.1" x2="227" y2="410" stroke="#d6d6d6" stroke-width="1.1" opacity="0.65"/>
<polygon points="230.4,411.8 234,413.6 240,413.4 236.5,415.4 233.2,414.2 228.8,414.1" fill="#4a4a4a" opacity="0.7"/>
<line x1="230.6" y1="410.7" x2="242.2" y2="412.6" stroke="#d6d6d6" stroke-width="1.1" opacity="0.65"/>
<polygon points="245.6,414.4 249.3,416.2 255.3,416 251.7,418 248.4,416.9 244,416.7" fill="#4a4a4a" opacity="0.7"/>
<line x1="245.8" y1="413.3" x2="257.4" y2="415.3" stroke="#d6d6d6" stroke-width="1.1" opacity="0.65"/>
<polygon points="260.8,417 264.5,418.8 270.5,418.7 267,420.6 263.7,419.5 259.2,419.3" fill="#4a4a4a" opacity="0.7"/>
<line x1="261.1" y1="415.9" x2="272.7" y2="417.9" stroke="#d6d6d6" stroke-width="1.1" opacity="0.65"/>
<polygon points="276.1,419.6 279.8,421.4 285.9,421.3 282.3,423.2 279,422.1 274.5,421.9" fill="#4a4a4a" opacity="0.7"/>
<line x1="276.3" y1="418.5" x2="288" y2="420.5" stroke="#d6d6d6" stroke-width="1.1" opacity="0.65"/>
<polygon points="291.4,422.2 295.1,424 301.2,423.9 297.6,425.9 294.3,424.7 289.8,424.5" fill="#4a4a4a" opacity="0.7"/>
<line x1="291.7" y1="421.1" x2="303.4" y2="423.1" stroke="#d6d6d6" stroke-width="1.1" opacity="0.65"/>
<polygon points="306.8,424.9 310.5,426.7 316.6,426.6 313,428.5 309.7,427.4 305.2,427.2" fill="#4a4a4a" opacity="0.7"/>
<line x1="307" y1="423.7" x2="318.8" y2="425.8" stroke="#d6d6d6" stroke-width="1.1" opacity="0.65"/>
<polygon points="322.2,427.5 325.9,429.3 332,429.2 328.5,431.2 325.1,430 320.6,429.8" fill="#4a4a4a" opacity="0.7"/>
<line x1="322.4" y1="426.4" x2="334.2" y2="428.4" stroke="#d6d6d6" stroke-width="1.1" opacity="0.65"/>
<polygon points="337.7,430.2 341.4,432 347.5,431.9 343.9,433.8 340.6,432.7 336.1,432.5" fill="#4a4a4a" opacity="0.7"/>
<line x1="337.9" y1="429" x2="349.7" y2="431.1" stroke="#d6d6d6" stroke-width="1.1" opacity="0.65"/>
<polygon points="353.1,432.8 356.9,434.6 363,434.5 359.4,436.5 356.1,435.3 351.5,435.1" fill="#4a4a4a" opacity="0.7"/>
<line x1="353.3" y1="431.7" x2="365.2" y2="433.7" stroke="#d6d6d6" stroke-width="1.1" opacity="0.65"/>
<polygon points="368.7,435.5 372.4,437.3 378.6,437.2 375,439.2 371.6,438 367.1,437.8" fill="#4a4a4a" opacity="0.7"/>
<line x1="368.9" y1="434.3" x2="380.7" y2="436.4" stroke="#d6d6d6" stroke-width="1.1" opacity="0.65"/>
<polygon points="195.7,417.6 199.3,419.3 205.3,419.2 201.8,421.2 198.5,420 194.1,419.8" fill="#4a4a4a" opacity="0.7"/>
<line x1="195.9" y1="416.4" x2="207.5" y2="418.4" stroke="#d6d6d6" stroke-width="1.1" opacity="0.65"/>
<polygon points="210.9,420.2 214.5,422 220.5,421.8 216.9,423.8 213.7,422.6 209.2,422.5" fill="#4a4a4a" opacity="0.7"/>
<line x1="211.1" y1="419" x2="222.7" y2="421" stroke="#d6d6d6" stroke-width="1.1" opacity="0.65"/>
<polygon points="226,422.8 229.7,424.6 235.7,424.5 232.1,426.4 228.9,425.3 224.4,425.1" fill="#4a4a4a" opacity="0.7"/>
<line x1="226.3" y1="421.7" x2="237.9" y2="423.7" stroke="#d6d6d6" stroke-width="1.1" opacity="0.65"/>
<polygon points="241.3,425.4 244.9,427.2 251,427.1 247.4,429 244.1,427.9 239.6,427.7" fill="#4a4a4a" opacity="0.7"/>
<line x1="241.5" y1="424.3" x2="253.1" y2="426.3" stroke="#d6d6d6" stroke-width="1.1" opacity="0.65"/>
<polygon points="256.5,428 260.2,429.9 266.3,429.7 262.7,431.7 259.4,430.5 254.9,430.3" fill="#4a4a4a" opacity="0.7"/>
<line x1="256.8" y1="426.9" x2="268.4" y2="428.9" stroke="#d6d6d6" stroke-width="1.1" opacity="0.65"/>
<polygon points="271.9,430.7 275.5,432.5 281.6,432.4 278,434.3 274.7,433.2 270.2,433" fill="#4a4a4a" opacity="0.7"/>
<line x1="272.1" y1="429.6" x2="283.8" y2="431.6" stroke="#d6d6d6" stroke-width="1.1" opacity="0.65"/>
<polygon points="287.2,433.3 290.9,435.1 297,435 293.4,437 290.1,435.8 285.6,435.6" fill="#4a4a4a" opacity="0.7"/>
<line x1="287.4" y1="432.2" x2="299.1" y2="434.2" stroke="#d6d6d6" stroke-width="1.1" opacity="0.65"/>
<polygon points="302.6,436 306.3,437.8 312.4,437.7 308.8,439.6 305.5,438.5 301,438.3" fill="#4a4a4a" opacity="0.7"/>
<line x1="302.8" y1="434.9" x2="314.5" y2="436.9" stroke="#d6d6d6" stroke-width="1.1" opacity="0.65"/>
<polygon points="318,438.7 321.7,440.5 327.8,440.3 324.3,442.3 320.9,441.2 316.4,441" fill="#4a4a4a" opacity="0.7"/>
<line x1="318.2" y1="437.5" x2="330" y2="439.5" stroke="#d6d6d6" stroke-width="1.1" opacity="0.65"/>
<polygon points="333.5,441.3 337.2,443.1 343.3,443 339.8,445 336.4,443.8 331.9,443.6" fill="#4a4a4a" opacity="0.7"/>
<line x1="333.7" y1="440.2" x2="345.5" y2="442.2" stroke="#d6d6d6" stroke-width="1.1" opacity="0.65"/>
<polygon points="349,444 352.8,445.8 358.9,445.7 355.3,447.7 351.9,446.5 347.4,446.3" fill="#4a4a4a" opacity="0.7"/>
<line x1="349.2" y1="442.8" x2="361" y2="444.9" stroke="#d6d6d6" stroke-width="1.1" opacity="0.65"/>
<polygon points="364.6,446.7 368.3,448.5 374.5,448.4 370.9,450.4 367.5,449.2 362.9,449" fill="#4a4a4a" opacity="0.7"/>
<line x1="364.7" y1="445.5" x2="376.6" y2="447.6" stroke="#d6d6d6" stroke-width="1.1" opacity="0.65"/>
<polygon points="176.2,425.9 179.8,427.7 185.8,427.6 182.2,429.6 179,428.4 174.5,428.2" fill="#4a4a4a" opacity="0.7"/>
<line x1="176.4" y1="424.8" x2="187.9" y2="426.8" stroke="#d6d6d6" stroke-width="1.1" opacity="0.65"/>
<polygon points="191.3,428.6 194.9,430.4 200.9,430.2 197.4,432.2 194.1,431 189.7,430.9" fill="#4a4a4a" opacity="0.7"/>
<line x1="191.5" y1="427.4" x2="203.1" y2="429.4" stroke="#d6d6d6" stroke-width="1.1" opacity="0.65"/>
<polygon points="206.5,431.2 210.1,433 216.1,432.9 212.6,434.8 209.3,433.7 204.8,433.5" fill="#4a4a4a" opacity="0.7"/>
<line x1="206.7" y1="430.1" x2="218.3" y2="432.1" stroke="#d6d6d6" stroke-width="1.1" opacity="0.65"/>
<polygon points="221.7,433.8 225.3,435.6 231.4,435.5 227.8,437.5 224.5,436.3 220,436.1" fill="#4a4a4a" opacity="0.7"/>
<line x1="221.9" y1="432.7" x2="233.5" y2="434.7" stroke="#d6d6d6" stroke-width="1.1" opacity="0.65"/>
<polygon points="236.9,436.5 240.6,438.3 246.7,438.2 243.1,440.1 239.8,439 235.3,438.8" fill="#4a4a4a" opacity="0.7"/>
<line x1="237.2" y1="435.4" x2="248.8" y2="437.4" stroke="#d6d6d6" stroke-width="1.1" opacity="0.65"/>
<polygon points="252.2,439.1 255.9,441 262,440.8 258.4,442.8 255.1,441.6 250.6,441.4" fill="#4a4a4a" opacity="0.7"/>
<line x1="252.4" y1="438" x2="264.1" y2="440" stroke="#d6d6d6" stroke-width="1.1" opacity="0.65"/>
<polygon points="267.6,441.8 271.3,443.6 277.3,443.5 273.7,445.5 270.4,444.3 265.9,444.1" fill="#4a4a4a" opacity="0.7"/>
<line x1="267.8" y1="440.7" x2="279.5" y2="442.7" stroke="#d6d6d6" stroke-width="1.1" opacity="0.65"/>
<polygon points="282.9,444.5 286.6,446.3 292.7,446.2 289.1,448.1 285.8,447 281.3,446.8" fill="#4a4a4a" opacity="0.7"/>
<line x1="283.1" y1="443.3" x2="294.9" y2="445.4" stroke="#d6d6d6" stroke-width="1.1" opacity="0.65"/>
<polygon points="298.4,447.1 302.1,449 308.2,448.8 304.6,450.8 301.2,449.6 296.7,449.5" fill="#4a4a4a" opacity="0.7"/>
<line x1="298.6" y1="446" x2="310.3" y2="448" stroke="#d6d6d6" stroke-width="1.1" opacity="0.65"/>
<polygon points="313.8,449.8 317.5,451.6 323.6,451.5 320.1,453.5 316.7,452.3 312.2,452.1" fill="#4a4a4a" opacity="0.7"/>
<line x1="314" y1="448.7" x2="325.8" y2="450.7" stroke="#d6d6d6" stroke-width="1.1" opacity="0.65"/>
<polygon points="329.3,452.5 333,454.3 339.2,454.2 335.6,456.2 332.2,455 327.7,454.8" fill="#4a4a4a" opacity="0.7"/>
<line x1="329.5" y1="451.4" x2="341.3" y2="453.4" stroke="#d6d6d6" stroke-width="1.1" opacity="0.65"/>
<polygon points="344.8,455.2 348.6,457 354.7,456.9 351.1,458.9 347.8,457.7 343.2,457.5" fill="#4a4a4a" opacity="0.7"/>
<line x1="345" y1="454.1" x2="356.9" y2="456.1" stroke="#d6d6d6" stroke-width="1.1" opacity="0.65"/>
<polygon points="171.7,437 175.4,438.8 181.4,438.7 177.8,440.6 174.5,439.5 170.1,439.3" fill="#4a4a4a" opacity="0.7"/>
<line x1="172" y1="435.9" x2="183.5" y2="437.9" stroke="#d6d6d6" stroke-width="1.1" opacity="0.65"/>
<polygon points="186.9,439.6 190.5,441.4 196.5,441.3 193,443.3 189.7,442.1 185.2,441.9" fill="#4a4a4a" opacity="0.7"/>
<line x1="187.1" y1="438.5" x2="198.7" y2="440.5" stroke="#d6d6d6" stroke-width="1.1" opacity="0.65"/>
<polygon points="202.1,442.3 205.7,444.1 211.8,444 208.2,445.9 204.9,444.8 200.4,444.6" fill="#4a4a4a" opacity="0.7"/>
<line x1="202.3" y1="441.1" x2="213.9" y2="443.2" stroke="#d6d6d6" stroke-width="1.1" opacity="0.65"/>
<polygon points="217.3,444.9 221,446.8 227,446.6 223.4,448.6 220.1,447.4 215.7,447.2" fill="#4a4a4a" opacity="0.7"/>
<line x1="217.5" y1="443.8" x2="229.2" y2="445.8" stroke="#d6d6d6" stroke-width="1.1" opacity="0.65"/>
<polygon points="232.6,447.6 236.3,449.4 242.3,449.3 238.7,451.3 235.4,450.1 230.9,449.9" fill="#4a4a4a" opacity="0.7"/>
<line x1="232.8" y1="446.5" x2="244.5" y2="448.5" stroke="#d6d6d6" stroke-width="1.1" opacity="0.65"/>
<polygon points="247.9,450.3 251.6,452.1 257.7,452 254.1,453.9 250.8,452.8 246.3,452.6" fill="#4a4a4a" opacity="0.7"/>
<line x1="248.1" y1="449.1" x2="259.8" y2="451.2" stroke="#d6d6d6" stroke-width="1.1" opacity="0.65"/>
<polygon points="263.3,453 267,454.8 273,454.7 269.4,456.6 266.1,455.5 261.6,455.3" fill="#4a4a4a" opacity="0.7"/>
<line x1="263.5" y1="451.8" x2="275.2" y2="453.9" stroke="#d6d6d6" stroke-width="1.1" opacity="0.65"/>
<polygon points="278.7,455.6 282.4,457.5 288.5,457.4 284.9,459.3 281.5,458.2 277,458" fill="#4a4a4a" opacity="0.7"/>
<line x1="278.9" y1="454.5" x2="290.6" y2="456.5" stroke="#d6d6d6" stroke-width="1.1" opacity="0.65"/>
<polygon points="294.1,458.3 297.8,460.2 303.9,460 300.3,462 297,460.9 292.5,460.7" fill="#4a4a4a" opacity="0.7"/>
<line x1="294.3" y1="457.2" x2="306.1" y2="459.2" stroke="#d6d6d6" stroke-width="1.1" opacity="0.65"/>
<polygon points="309.6,461 313.3,462.9 319.4,462.8 315.8,464.7 312.5,463.6 307.9,463.4" fill="#4a4a4a" opacity="0.7"/>
<line x1="309.8" y1="459.9" x2="321.6" y2="461.9" stroke="#d6d6d6" stroke-width="1.1" opacity="0.65"/>
<polygon points="325.1,463.7 328.8,465.6 335,465.5 331.4,467.5 328,466.3 323.5,466.1" fill="#4a4a4a" opacity="0.7"/>
<line x1="325.3" y1="462.6" x2="337.1" y2="464.7" stroke="#d6d6d6" stroke-width="1.1" opacity="0.65"/>
<polygon points="340.6,466.5 344.4,468.3 350.6,468.2 347,470.2 343.6,469 339,468.8" fill="#4a4a4a" opacity="0.7"/>
<line x1="340.8" y1="465.3" x2="352.7" y2="467.4" stroke="#d6d6d6" stroke-width="1.1" opacity="0.65"/>
<polygon points="152.1,445.4 155.7,447.2 161.7,447.1 158.2,449 154.9,447.9 150.5,447.7" fill="#4a4a4a" opacity="0.7"/>
<line x1="152.4" y1="444.3" x2="163.9" y2="446.3" stroke="#d6d6d6" stroke-width="1.1" opacity="0.65"/>
<polygon points="167.3,448.1 170.9,449.9 176.9,449.8 173.3,451.7 170.1,450.6 165.6,450.4" fill="#4a4a4a" opacity="0.7"/>
<line x1="167.5" y1="446.9" x2="179.1" y2="449" stroke="#d6d6d6" stroke-width="1.1" opacity="0.65"/>
<polygon points="182.4,450.7 186.1,452.5 192.1,452.4 188.5,454.4 185.2,453.2 180.8,453" fill="#4a4a4a" opacity="0.7"/>
<line x1="182.7" y1="449.6" x2="194.3" y2="451.6" stroke="#d6d6d6" stroke-width="1.1" opacity="0.65"/>
<polygon points="197.7,453.4 201.3,455.2 207.4,455.1 203.8,457.1 200.5,455.9 196,455.7" fill="#4a4a4a" opacity="0.7"/>
<line x1="197.9" y1="452.3" x2="209.5" y2="454.3" stroke="#d6d6d6" stroke-width="1.1" opacity="0.65"/>
<polygon points="212.9,456.1 216.6,457.9 222.6,457.8 219,459.7 215.8,458.6 211.3,458.4" fill="#4a4a4a" opacity="0.7"/>
<line x1="213.1" y1="454.9" x2="224.8" y2="457" stroke="#d6d6d6" stroke-width="1.1" opacity="0.65"/>
<polygon points="228.2,458.8 231.9,460.6 238,460.5 234.4,462.4 231.1,461.3 226.6,461.1" fill="#4a4a4a" opacity="0.7"/>
<line x1="228.4" y1="457.6" x2="240.1" y2="459.7" stroke="#d6d6d6" stroke-width="1.1" opacity="0.65"/>
<polygon points="243.6,461.5 247.3,463.3 253.3,463.2 249.7,465.1 246.4,464 241.9,463.8" fill="#4a4a4a" opacity="0.7"/>
<line x1="243.8" y1="460.3" x2="255.5" y2="462.4" stroke="#d6d6d6" stroke-width="1.1" opacity="0.65"/>
<polygon points="258.9,464.2 262.6,466 268.7,465.9 265.1,467.8 261.8,466.7 257.3,466.5" fill="#4a4a4a" opacity="0.7"/>
<line x1="259.2" y1="463" x2="270.9" y2="465.1" stroke="#d6d6d6" stroke-width="1.1" opacity="0.65"/>
<polygon points="274.4,466.9 278.1,468.7 284.2,468.6 280.6,470.6 277.2,469.4 272.7,469.2" fill="#4a4a4a" opacity="0.7"/>
<line x1="274.6" y1="465.7" x2="286.4" y2="467.8" stroke="#d6d6d6" stroke-width="1.1" opacity="0.65"/>
<polygon points="289.8,469.6 293.6,471.4 299.7,471.3 296.1,473.3 292.7,472.1 288.2,471.9" fill="#4a4a4a" opacity="0.7"/>
<line x1="290" y1="468.4" x2="301.8" y2="470.5" stroke="#d6d6d6" stroke-width="1.1" opacity="0.65"/>
<polygon points="305.3,472.3 309.1,474.1 315.2,474 311.6,476 308.2,474.8 303.7,474.6" fill="#4a4a4a" opacity="0.7"/>
<line x1="305.5" y1="471.1" x2="317.4" y2="473.2" stroke="#d6d6d6" stroke-width="1.1" opacity="0.65"/>
<polygon points="320.9,475 324.6,476.9 330.8,476.8 327.2,478.7 323.8,477.6 319.2,477.4" fill="#4a4a4a" opacity="0.7"/>
<line x1="321.1" y1="473.9" x2="332.9" y2="475.9" stroke="#d6d6d6" stroke-width="1.1" opacity="0.65"/>
<polygon points="147.6,456.5 151.2,458.3 157.3,458.2 153.7,460.2 150.4,459 146,458.8" fill="#4a4a4a" opacity="0.7"/>
<line x1="147.9" y1="455.4" x2="159.4" y2="457.4" stroke="#d6d6d6" stroke-width="1.1" opacity="0.65"/>
<polygon points="162.8,459.2 166.4,461 172.4,460.9 168.8,462.9 165.6,461.7 161.1,461.5" fill="#4a4a4a" opacity="0.7"/>
<line x1="163" y1="458" x2="174.6" y2="460.1" stroke="#d6d6d6" stroke-width="1.1" opacity="0.65"/>
<polygon points="178,461.9 181.6,463.7 187.7,463.6 184.1,465.5 180.8,464.4 176.3,464.2" fill="#4a4a4a" opacity="0.7"/>
<line x1="178.2" y1="460.7" x2="189.8" y2="462.8" stroke="#d6d6d6" stroke-width="1.1" opacity="0.65"/>
<polygon points="193.2,464.6 196.9,466.4 202.9,466.3 199.3,468.2 196.1,467.1 191.6,466.9" fill="#4a4a4a" opacity="0.7"/>
<line x1="193.5" y1="463.4" x2="205.1" y2="465.5" stroke="#d6d6d6" stroke-width="1.1" opacity="0.65"/>
<polygon points="208.5,467.3 212.2,469.1 218.2,469 214.6,470.9 211.3,469.8 206.9,469.6" fill="#4a4a4a" opacity="0.7"/>
<line x1="208.7" y1="466.1" x2="220.4" y2="468.2" stroke="#d6d6d6" stroke-width="1.1" opacity="0.65"/>
<polygon points="223.8,470 227.5,471.8 233.6,471.7 230,473.7 226.7,472.5 222.2,472.3" fill="#4a4a4a" opacity="0.7"/>
<line x1="224.1" y1="468.8" x2="235.8" y2="470.9" stroke="#d6d6d6" stroke-width="1.1" opacity="0.65"/>
<polygon points="239.2,472.7 242.9,474.5 249,474.4 245.4,476.4 242.1,475.2 237.6,475" fill="#4a4a4a" opacity="0.7"/>
<line x1="239.4" y1="471.5" x2="251.2" y2="473.6" stroke="#d6d6d6" stroke-width="1.1" opacity="0.65"/>
<polygon points="254.6,475.4 258.3,477.2 264.4,477.1 260.8,479.1 257.5,477.9 253,477.7" fill="#4a4a4a" opacity="0.7"/>
<line x1="254.8" y1="474.2" x2="266.6" y2="476.3" stroke="#d6d6d6" stroke-width="1.1" opacity="0.65"/>
<polygon points="270,478.1 273.8,480 279.9,479.9 276.3,481.8 272.9,480.7 268.4,480.5" fill="#4a4a4a" opacity="0.7"/>
<line x1="270.3" y1="477" x2="282.1" y2="479" stroke="#d6d6d6" stroke-width="1.1" opacity="0.65"/>
<polygon points="285.5,480.9 289.3,482.7 295.4,482.6 291.8,484.6 288.4,483.4 283.9,483.2" fill="#4a4a4a" opacity="0.7"/>
<line x1="285.7" y1="479.7" x2="297.6" y2="481.8" stroke="#d6d6d6" stroke-width="1.1" opacity="0.65"/>
<polygon points="301.1,483.6 304.8,485.5 310.9,485.3 307.3,487.3 304,486.1 299.4,485.9" fill="#4a4a4a" opacity="0.7"/>
<line x1="301.3" y1="482.4" x2="313.1" y2="484.5" stroke="#d6d6d6" stroke-width="1.1" opacity="0.65"/>
<polygon points="316.6,486.3 320.4,488.2 326.5,488.1 322.9,490.1 319.6,488.9 315,488.7" fill="#4a4a4a" opacity="0.7"/>
<line x1="316.8" y1="485.2" x2="328.7" y2="487.3" stroke="#d6d6d6" stroke-width="1.1" opacity="0.65"/>
<polygon points="128,465 131.6,466.8 137.6,466.7 134,468.6 130.7,467.5 126.3,467.3" fill="#4a4a4a" opacity="0.7"/>
<line x1="128.2" y1="463.8" x2="139.7" y2="465.9" stroke="#d6d6d6" stroke-width="1.1" opacity="0.65"/>
<polygon points="143.1,467.6 146.7,469.5 152.8,469.4 149.1,471.3 145.9,470.2 141.4,470" fill="#4a4a4a" opacity="0.7"/>
<line x1="143.3" y1="466.5" x2="154.9" y2="468.6" stroke="#d6d6d6" stroke-width="1.1" opacity="0.65"/>
<polygon points="158.3,470.3 161.9,472.2 168,472.1 164.4,474 161.1,472.9 156.6,472.7" fill="#4a4a4a" opacity="0.7"/>
<line x1="158.5" y1="469.2" x2="170.1" y2="471.3" stroke="#d6d6d6" stroke-width="1.1" opacity="0.65"/>
<polygon points="173.5,473 177.2,474.9 183.2,474.8 179.6,476.7 176.3,475.6 171.9,475.4" fill="#4a4a4a" opacity="0.7"/>
<line x1="173.7" y1="471.9" x2="185.4" y2="474" stroke="#d6d6d6" stroke-width="1.1" opacity="0.65"/>
<polygon points="188.8,475.8 192.4,477.6 198.5,477.5 194.9,479.5 191.6,478.3 187.1,478.1" fill="#4a4a4a" opacity="0.7"/>
<line x1="189" y1="474.6" x2="200.7" y2="476.7" stroke="#d6d6d6" stroke-width="1.1" opacity="0.65"/>
<polygon points="204.1,478.5 207.8,480.3 213.8,480.2 210.2,482.2 206.9,481 202.4,480.8" fill="#4a4a4a" opacity="0.7"/>
<line x1="204.3" y1="477.3" x2="216" y2="479.4" stroke="#d6d6d6" stroke-width="1.1" opacity="0.65"/>
<polygon points="219.4,481.2 223.1,483.1 229.2,482.9 225.6,484.9 222.3,483.7 217.8,483.5" fill="#4a4a4a" opacity="0.7"/>
<line x1="219.7" y1="480" x2="231.4" y2="482.1" stroke="#d6d6d6" stroke-width="1.1" opacity="0.65"/>
<polygon points="234.8,483.9 238.5,485.8 244.6,485.7 241,487.7 237.7,486.5 233.2,486.3" fill="#4a4a4a" opacity="0.7"/>
<line x1="235" y1="482.8" x2="246.8" y2="484.9" stroke="#d6d6d6" stroke-width="1.1" opacity="0.65"/>
<polygon points="250.2,486.7 254,488.5 260.1,488.4 256.5,490.4 253.1,489.2 248.6,489" fill="#4a4a4a" opacity="0.7"/>
<line x1="250.5" y1="485.5" x2="262.3" y2="487.6" stroke="#d6d6d6" stroke-width="1.1" opacity="0.65"/>
<polygon points="265.7,489.4 269.4,491.3 275.6,491.2 271.9,493.2 268.6,492 264.1,491.8" fill="#4a4a4a" opacity="0.7"/>
<line x1="265.9" y1="488.3" x2="277.7" y2="490.4" stroke="#d6d6d6" stroke-width="1.1" opacity="0.65"/>
<polygon points="281.2,492.2 285,494 291.1,493.9 287.5,495.9 284.1,494.7 279.6,494.5" fill="#4a4a4a" opacity="0.7"/>
<line x1="281.4" y1="491" x2="293.3" y2="493.1" stroke="#d6d6d6" stroke-width="1.1" opacity="0.65"/>
<polygon points="296.8,494.9 300.5,496.8 306.7,496.7 303.1,498.7 299.7,497.5 295.1,497.3" fill="#4a4a4a" opacity="0.7"/>
<line x1="297" y1="493.8" x2="308.9" y2="495.9" stroke="#d6d6d6" stroke-width="1.1" opacity="0.65"/>
<polygon points="123.4,476.1 127,478 133,477.8 129.4,479.8 126.2,478.6 121.7,478.4" fill="#4a4a4a" opacity="0.7"/>
<line x1="123.6" y1="475" x2="135.2" y2="477" stroke="#d6d6d6" stroke-width="1.1" opacity="0.65"/>
<polygon points="138.6,478.8 142.2,480.7 148.2,480.6 144.6,482.5 141.4,481.4 136.9,481.2" fill="#4a4a4a" opacity="0.7"/>
<line x1="138.8" y1="477.7" x2="150.4" y2="479.8" stroke="#d6d6d6" stroke-width="1.1" opacity="0.65"/>
<polygon points="153.8,481.6 157.4,483.4 163.5,483.3 159.9,485.3 156.6,484.1 152.1,483.9" fill="#4a4a4a" opacity="0.7"/>
<line x1="154" y1="480.4" x2="165.6" y2="482.5" stroke="#d6d6d6" stroke-width="1.1" opacity="0.65"/>
<polygon points="169,484.3 172.7,486.1 178.7,486 175.1,488 171.8,486.8 167.4,486.6" fill="#4a4a4a" opacity="0.7"/>
<line x1="169.3" y1="483.1" x2="180.9" y2="485.2" stroke="#d6d6d6" stroke-width="1.1" opacity="0.65"/>
<polygon points="184.3,487 188,488.9 194.1,488.7 190.4,490.7 187.1,489.5 182.6,489.3" fill="#4a4a4a" opacity="0.7"/>
<line x1="184.5" y1="485.9" x2="196.2" y2="487.9" stroke="#d6d6d6" stroke-width="1.1" opacity="0.65"/>
<polygon points="199.6,489.7 203.3,491.6 209.4,491.5 205.8,493.5 202.5,492.3 198,492.1" fill="#4a4a4a" opacity="0.7"/>
<line x1="199.9" y1="488.6" x2="211.6" y2="490.7" stroke="#d6d6d6" stroke-width="1.1" opacity="0.65"/>
<polygon points="215,492.5 218.7,494.3 224.8,494.2 221.2,496.2 217.9,495 213.4,494.8" fill="#4a4a4a" opacity="0.7"/>
<line x1="215.2" y1="491.3" x2="227" y2="493.4" stroke="#d6d6d6" stroke-width="1.1" opacity="0.65"/>
<polygon points="230.4,495.2 234.1,497.1 240.2,497 236.6,499 233.3,497.8 228.8,497.6" fill="#4a4a4a" opacity="0.7"/>
<line x1="230.6" y1="494.1" x2="242.4" y2="496.2" stroke="#d6d6d6" stroke-width="1.1" opacity="0.65"/>
<polygon points="245.9,498 249.6,499.9 255.7,499.8 252.1,501.8 248.8,500.6 244.2,500.4" fill="#4a4a4a" opacity="0.7"/>
<line x1="246.1" y1="496.8" x2="257.9" y2="498.9" stroke="#d6d6d6" stroke-width="1.1" opacity="0.65"/>
<polygon points="261.4,500.8 265.1,502.6 271.2,502.5 267.6,504.5 264.3,503.3 259.7,503.1" fill="#4a4a4a" opacity="0.7"/>
<line x1="261.6" y1="499.6" x2="273.4" y2="501.7" stroke="#d6d6d6" stroke-width="1.1" opacity="0.65"/>
<polygon points="276.9,503.5 280.6,505.4 286.8,505.3 283.2,507.3 279.8,506.1 275.3,505.9" fill="#4a4a4a" opacity="0.7"/>
<line x1="277.1" y1="502.4" x2="289" y2="504.5" stroke="#d6d6d6" stroke-width="1.1" opacity="0.65"/>
<polygon points="292.5,506.3 296.2,508.2 302.4,508.1 298.8,510.1 295.4,508.9 290.8,508.7" fill="#4a4a4a" opacity="0.7"/>
<line x1="292.7" y1="505.2" x2="304.6" y2="507.3" stroke="#d6d6d6" stroke-width="1.1" opacity="0.65"/>
<polygon points="103.7,484.6 107.3,486.5 113.3,486.3 109.7,488.3 106.4,487.1 102,486.9" fill="#4a4a4a" opacity="0.7"/>
<line x1="103.9" y1="483.5" x2="115.5" y2="485.5" stroke="#d6d6d6" stroke-width="1.1" opacity="0.65"/>
<polygon points="118.8,487.3 122.4,489.2 128.5,489.1 124.9,491 121.6,489.9 117.1,489.7" fill="#4a4a4a" opacity="0.7"/>
<line x1="119.1" y1="486.2" x2="130.6" y2="488.3" stroke="#d6d6d6" stroke-width="1.1" opacity="0.65"/>
<polygon points="134,490.1 137.6,491.9 143.7,491.8 140.1,493.8 136.8,492.6 132.3,492.4" fill="#4a4a4a" opacity="0.7"/>
<line x1="134.3" y1="488.9" x2="145.9" y2="491" stroke="#d6d6d6" stroke-width="1.1" opacity="0.65"/>
<polygon points="149.2,492.8 152.9,494.7 158.9,494.5 155.3,496.5 152,495.3 147.6,495.1" fill="#4a4a4a" opacity="0.7"/>
<line x1="149.5" y1="491.6" x2="161.1" y2="493.7" stroke="#d6d6d6" stroke-width="1.1" opacity="0.65"/>
<polygon points="164.5,495.5 168.2,497.4 174.2,497.3 170.6,499.3 167.3,498.1 162.8,497.9" fill="#4a4a4a" opacity="0.7"/>
<line x1="164.8" y1="494.4" x2="176.4" y2="496.5" stroke="#d6d6d6" stroke-width="1.1" opacity="0.65"/>
<polygon points="179.8,498.3 183.5,500.2 189.6,500 186,502 182.7,500.8 178.2,500.6" fill="#4a4a4a" opacity="0.7"/>
<line x1="180.1" y1="497.1" x2="191.8" y2="499.2" stroke="#d6d6d6" stroke-width="1.1" opacity="0.65"/>
<polygon points="195.2,501.1 198.9,502.9 205,502.8 201.3,504.8 198,503.6 193.5,503.4" fill="#4a4a4a" opacity="0.7"/>
<line x1="195.4" y1="499.9" x2="207.1" y2="502" stroke="#d6d6d6" stroke-width="1.1" opacity="0.65"/>
<polygon points="210.6,503.8 214.3,505.7 220.4,505.6 216.8,507.6 213.4,506.4 208.9,506.2" fill="#4a4a4a" opacity="0.7"/>
<line x1="210.8" y1="502.7" x2="222.6" y2="504.8" stroke="#d6d6d6" stroke-width="1.1" opacity="0.65"/>
<polygon points="226,506.6 229.7,508.5 235.8,508.4 232.2,510.4 228.9,509.2 224.3,508.9" fill="#4a4a4a" opacity="0.7"/>
<line x1="226.2" y1="505.4" x2="238" y2="507.5" stroke="#d6d6d6" stroke-width="1.1" opacity="0.65"/>
<polygon points="241.5,509.4 245.2,511.2 251.3,511.1 247.7,513.1 244.4,511.9 239.8,511.7" fill="#4a4a4a" opacity="0.7"/>
<line x1="241.7" y1="508.2" x2="253.5" y2="510.3" stroke="#d6d6d6" stroke-width="1.1" opacity="0.65"/>
<polygon points="257,512.2 260.7,514 266.9,513.9 263.3,515.9 259.9,514.7 255.3,514.5" fill="#4a4a4a" opacity="0.7"/>
<line x1="257.2" y1="511" x2="269.1" y2="513.1" stroke="#d6d6d6" stroke-width="1.1" opacity="0.65"/>
<polygon points="272.6,515 276.3,516.8 282.5,516.7 278.8,518.7 275.5,517.5 270.9,517.3" fill="#4a4a4a" opacity="0.7"/>
<line x1="272.8" y1="513.8" x2="284.7" y2="515.9" stroke="#d6d6d6" stroke-width="1.1" opacity="0.65"/>
<polygon points="99.1,495.8 102.7,497.7 108.7,497.6 105.1,499.6 101.8,498.4 97.4,498.2" fill="#4a4a4a" opacity="0.7"/>
<line x1="99.3" y1="494.7" x2="110.9" y2="496.8" stroke="#d6d6d6" stroke-width="1.1" opacity="0.65"/>
<polygon points="114.2,498.6 117.9,500.4 123.9,500.3 120.3,502.3 117,501.1 112.5,500.9" fill="#4a4a4a" opacity="0.7"/>
<line x1="114.5" y1="497.4" x2="126.1" y2="499.5" stroke="#d6d6d6" stroke-width="1.1" opacity="0.65"/>
<polygon points="129.4,501.3 133.1,503.2 139.1,503.1 135.5,505.1 132.2,503.9 127.8,503.7" fill="#4a4a4a" opacity="0.7"/>
<line x1="129.7" y1="500.2" x2="141.3" y2="502.3" stroke="#d6d6d6" stroke-width="1.1" opacity="0.65"/>
<polygon points="144.7,504.1 148.3,506 154.4,505.9 150.8,507.8 147.5,506.6 143,506.4" fill="#4a4a4a" opacity="0.7"/>
<line x1="144.9" y1="502.9" x2="156.6" y2="505" stroke="#d6d6d6" stroke-width="1.1" opacity="0.65"/>
<polygon points="160,506.9 163.7,508.7 169.7,508.6 166.1,510.6 162.8,509.4 158.3,509.2" fill="#4a4a4a" opacity="0.7"/>
<line x1="160.2" y1="505.7" x2="171.9" y2="507.8" stroke="#d6d6d6" stroke-width="1.1" opacity="0.65"/>
<polygon points="175.3,509.6 179,511.5 185.1,511.4 181.5,513.4 178.2,512.2 173.7,512" fill="#4a4a4a" opacity="0.7"/>
<line x1="175.6" y1="508.5" x2="187.3" y2="510.6" stroke="#d6d6d6" stroke-width="1.1" opacity="0.65"/>
<polygon points="190.7,512.4 194.4,514.3 200.5,514.2 196.9,516.2 193.6,515 189,514.8" fill="#4a4a4a" opacity="0.7"/>
<line x1="190.9" y1="511.2" x2="202.7" y2="513.4" stroke="#d6d6d6" stroke-width="1.1" opacity="0.65"/>
<polygon points="206.1,515.2 209.8,517.1 215.9,517 212.3,519 209,517.8 204.5,517.6" fill="#4a4a4a" opacity="0.7"/>
<line x1="206.4" y1="514" x2="218.1" y2="516.2" stroke="#d6d6d6" stroke-width="1.1" opacity="0.65"/>
<polygon points="221.6,518 225.3,519.9 231.4,519.8 227.8,521.8 224.5,520.6 219.9,520.4" fill="#4a4a4a" opacity="0.7"/>
<line x1="221.8" y1="516.8" x2="233.6" y2="519" stroke="#d6d6d6" stroke-width="1.1" opacity="0.65"/>
<polygon points="237.1,520.8 240.8,522.7 247,522.6 243.3,524.6 240,523.4 235.4,523.2" fill="#4a4a4a" opacity="0.7"/>
<line x1="237.3" y1="519.6" x2="249.1" y2="521.8" stroke="#d6d6d6" stroke-width="1.1" opacity="0.65"/>
<polygon points="252.6,523.6 256.4,525.5 262.5,525.4 258.9,527.4 255.5,526.2 251,526" fill="#4a4a4a" opacity="0.7"/>
<line x1="252.8" y1="522.4" x2="264.7" y2="524.6" stroke="#d6d6d6" stroke-width="1.1" opacity="0.65"/>
<polygon points="268.2,526.4 272,528.3 278.1,528.2 274.5,530.2 271.1,529 266.5,528.8" fill="#4a4a4a" opacity="0.7"/>
<line x1="268.4" y1="525.2" x2="280.3" y2="527.4" stroke="#d6d6d6" stroke-width="1.1" opacity="0.65"/>
<line x1="366.2" y1="334" x2="127" y2="529.2" stroke="#cdcdcd" stroke-width="1.3" opacity="0.7"/>
<line x1="368.5" y1="334.4" x2="129.3" y2="529.6" stroke="#606060" stroke-width="1.3" opacity="0.7"/>
<line x1="370.7" y1="334.8" x2="131.6" y2="530" stroke="#cdcdcd" stroke-width="1" opacity="0.5"/>
<line x1="399.5" y1="339.4" x2="160.5" y2="535.3" stroke="#cdcdcd" stroke-width="1.3" opacity="0.7"/>
<line x1="401.8" y1="339.8" x2="162.7" y2="535.7" stroke="#606060" stroke-width="1.3" opacity="0.7"/>
<line x1="404" y1="340.2" x2="165" y2="536.1" stroke="#cdcdcd" stroke-width="1" opacity="0.5"/>
<line x1="475.3" y1="351.8" x2="236.6" y2="549.2" stroke="#cdcdcd" stroke-width="1.3" opacity="0.7"/>
<line x1="477.5" y1="352.2" x2="238.9" y2="549.6" stroke="#606060" stroke-width="1.3" opacity="0.7"/>
<line x1="479.8" y1="352.5" x2="241.2" y2="550.1" stroke="#cdcdcd" stroke-width="1" opacity="0.5"/>
<line x1="511.4" y1="357.7" x2="273" y2="555.9" stroke="#cdcdcd" stroke-width="1.3" opacity="0.7"/>
<line x1="513.7" y1="358.1" x2="275.3" y2="556.3" stroke="#606060" stroke-width="1.3" opacity="0.7"/>
<line x1="516" y1="358.4" x2="277.6" y2="556.7" stroke="#cdcdcd" stroke-width="1" opacity="0.5"/>
<line x1="588.6" y1="370.3" x2="350.6" y2="570.1" stroke="#cdcdcd" stroke-width="1.3" opacity="0.7"/>
<line x1="591" y1="370.6" x2="352.9" y2="570.5" stroke="#606060" stroke-width="1.3" opacity="0.7"/>
<line x1="593.3" y1="371" x2="355.3" y2="571" stroke="#cdcdcd" stroke-width="1" opacity="0.5"/>
<line x1="620.8" y1="375.5" x2="383" y2="576" stroke="#cdcdcd" stroke-width="1.3" opacity="0.7"/>
<line x1="623.2" y1="375.9" x2="385.3" y2="576.5" stroke="#606060" stroke-width="1.3" opacity="0.7"/>
<line x1="625.5" y1="376.3" x2="387.7" y2="576.9" stroke="#cdcdcd" stroke-width="1" opacity="0.5"/>
<line x1="274.9" y1="342.1" x2="735.6" y2="418.1" stroke="#cdcdcd" stroke-width="1" opacity="0.6"/>
<line x1="273.2" y1="343.5" x2="734" y2="419.5" stroke="#606060" stroke-width="1" opacity="0.6"/>
<line x1="249" y1="363.1" x2="710" y2="440.1" stroke="#cdcdcd" stroke-width="1" opacity="0.6"/>
<line x1="247.3" y1="364.4" x2="708.4" y2="441.5" stroke="#606060" stroke-width="1" opacity="0.6"/>
<line x1="300.5" y1="326.2" x2="753" y2="399.6" stroke="#6a6a6a" stroke-width="1.5" opacity="0.7"/>
<line x1="297.5" y1="327" x2="16" y2="505.9" stroke="#6a6a6a" stroke-width="1.5" opacity="0.7"/>
<polygon points="212.7,405.5 257.4,413.1 233.5,432.6 188.8,424.8" fill="none" stroke="#6a6a6a" stroke-width="1.2" opacity="0.6"/>
<line x1="71.5" y1="480.3" x2="33.6" y2="510.8" stroke="#585858" stroke-width="0.8" opacity="0.45"/>
<line x1="76.4" y1="481.1" x2="38.5" y2="511.7" stroke="#585858" stroke-width="0.8" opacity="0.45"/>
<line x1="81.3" y1="482" x2="43.3" y2="512.6" stroke="#585858" stroke-width="0.8" opacity="0.45"/>
<line x1="86.1" y1="482.9" x2="48.2" y2="513.5" stroke="#585858" stroke-width="0.8" opacity="0.45"/>
<line x1="91" y1="483.8" x2="53.1" y2="514.4" stroke="#585858" stroke-width="0.8" opacity="0.45"/>
<line x1="95.9" y1="484.6" x2="58" y2="515.3" stroke="#585858" stroke-width="0.8" opacity="0.45"/>
<line x1="100.8" y1="485.5" x2="62.9" y2="516.2" stroke="#585858" stroke-width="0.8" opacity="0.45"/>
<line x1="105.7" y1="486.4" x2="67.8" y2="517.1" stroke="#585858" stroke-width="0.8" opacity="0.45"/>
<line x1="110.6" y1="487.3" x2="72.7" y2="518" stroke="#585858" stroke-width="0.8" opacity="0.45"/>
<line x1="115.5" y1="488.2" x2="77.6" y2="518.9" stroke="#585858" stroke-width="0.8" opacity="0.45"/>
<line x1="120.4" y1="489.1" x2="82.5" y2="519.8" stroke="#585858" stroke-width="0.8" opacity="0.45"/>
<line x1="125.3" y1="489.9" x2="87.4" y2="520.7" stroke="#585858" stroke-width="0.8" opacity="0.45"/>
<line x1="130.2" y1="490.8" x2="92.4" y2="521.6" stroke="#585858" stroke-width="0.8" opacity="0.45"/>
<line x1="135.2" y1="491.7" x2="97.3" y2="522.5" stroke="#585858" stroke-width="0.8" opacity="0.45"/>
<line x1="140.1" y1="492.6" x2="102.2" y2="523.4" stroke="#585858" stroke-width="0.8" opacity="0.45"/>
<line x1="145" y1="493.5" x2="107.1" y2="524.3" stroke="#585858" stroke-width="0.8" opacity="0.45"/>
<line x1="150" y1="494.4" x2="112.1" y2="525.2" stroke="#585858" stroke-width="0.8" opacity="0.45"/>
<line x1="154.9" y1="495.3" x2="117" y2="526.1" stroke="#585858" stroke-width="0.8" opacity="0.45"/>
<line x1="159.8" y1="496.1" x2="122" y2="527" stroke="#585858" stroke-width="0.8" opacity="0.45"/>
<line x1="164.8" y1="497" x2="126.9" y2="527.9" stroke="#585858" stroke-width="0.8" opacity="0.45"/>
<line x1="169.7" y1="497.9" x2="131.9" y2="528.8" stroke="#585858" stroke-width="0.8" opacity="0.45"/>
<line x1="174.7" y1="498.8" x2="136.8" y2="529.7" stroke="#585858" stroke-width="0.8" opacity="0.45"/>
<line x1="179.7" y1="499.7" x2="141.8" y2="530.6" stroke="#585858" stroke-width="0.8" opacity="0.45"/>
<line x1="184.6" y1="500.6" x2="146.8" y2="531.5" stroke="#585858" stroke-width="0.8" opacity="0.45"/>
<line x1="189.6" y1="501.5" x2="151.7" y2="532.5" stroke="#585858" stroke-width="0.8" opacity="0.45"/>
<line x1="194.6" y1="502.4" x2="156.7" y2="533.4" stroke="#585858" stroke-width="0.8" opacity="0.45"/>
<line x1="199.5" y1="503.3" x2="161.7" y2="534.3" stroke="#585858" stroke-width="0.8" opacity="0.45"/>
<line x1="204.5" y1="504.2" x2="166.7" y2="535.2" stroke="#585858" stroke-width="0.8" opacity="0.45"/>
<line x1="209.5" y1="505.1" x2="171.7" y2="536.1" stroke="#585858" stroke-width="0.8" opacity="0.45"/>
<line x1="214.5" y1="506" x2="176.7" y2="537" stroke="#585858" stroke-width="0.8" opacity="0.45"/>
<line x1="219.5" y1="506.9" x2="181.7" y2="537.9" stroke="#585858" stroke-width="0.8" opacity="0.45"/>
<line x1="224.5" y1="507.8" x2="186.7" y2="538.8" stroke="#585858" stroke-width="0.8" opacity="0.45"/>
<line x1="229.5" y1="508.7" x2="191.7" y2="539.8" stroke="#585858" stroke-width="0.8" opacity="0.45"/>
<line x1="234.5" y1="509.6" x2="196.7" y2="540.7" stroke="#585858" stroke-width="0.8" opacity="0.45"/>
<line x1="61.4" y1="479.7" x2="231.9" y2="510.3" stroke="#585858" stroke-width="0.8" opacity="0.45"/>
<line x1="57.5" y1="482.8" x2="228" y2="513.5" stroke="#585858" stroke-width="0.8" opacity="0.45"/>
<line x1="53.6" y1="485.9" x2="224.1" y2="516.7" stroke="#585858" stroke-width="0.8" opacity="0.45"/>
<line x1="49.7" y1="489.1" x2="220.2" y2="519.9" stroke="#585858" stroke-width="0.8" opacity="0.45"/>
<line x1="45.8" y1="492.2" x2="216.3" y2="523.1" stroke="#585858" stroke-width="0.8" opacity="0.45"/>
<line x1="41.9" y1="495.4" x2="212.4" y2="526.4" stroke="#585858" stroke-width="0.8" opacity="0.45"/>
<line x1="38" y1="498.5" x2="208.5" y2="529.6" stroke="#585858" stroke-width="0.8" opacity="0.45"/>
<line x1="34.1" y1="501.7" x2="204.6" y2="532.8" stroke="#585858" stroke-width="0.8" opacity="0.45"/>
<line x1="30.1" y1="504.9" x2="200.7" y2="536" stroke="#585858" stroke-width="0.8" opacity="0.45"/>
<line x1="26.2" y1="508" x2="196.8" y2="539.2" stroke="#585858" stroke-width="0.8" opacity="0.45"/>
<polygon points="26,497 44,500 42,507.5 24,504.5" fill="#3a3a3a" opacity="0.6"/>
<polygon points="116,503.5 139,507.5 137,513.5 114,509.5" fill="#3a3a3a" opacity="0.65"/>
<g filter="url(#mblur2)"><polygon points="179,481 200,471 239,451 299,434 333,419 363,408 410,389 427,383 469,384 555,402 610,413 660,421 705,424 745,416 775,395 775,420 559,574 500,564 431,552 444,541 360,527 299,516 240,512 190,500" fill="#2b2b2b" opacity="0.74"/>
</g>
<g filter="url(#mblur)"><polygon points="230,470 300,445 400,410 470,402 560,420 700,445 770,440 770,430 560,570 440,538 300,512" fill="#1c1c1c" opacity="0.3"/>
</g>
<g filter="url(#mblur)"><polygon points="600,420 760,400 775,420 560,580 500,560 540,470" fill="#bdbdbd" opacity="0.22"/>
</g>
<clipPath id="darkclip"><polygon points="179,481 200,471 239,451 299,434 333,419 363,408 410,389 427,383 469,384 555,402 610,413 660,421 705,424 745,416 775,395 775,420 559,574 500,564 431,552 444,541 360,527 299,516 240,512 190,500"/></clipPath>
<g clip-path="url(#darkclip)"><line x1="359.7" y1="360.5" x2="173.2" y2="513.1" stroke="#9a9a9a" stroke-width="0.8" opacity="0.22"/>
<line x1="365.8" y1="361.5" x2="179.3" y2="514.2" stroke="#9a9a9a" stroke-width="0.8" opacity="0.22"/>
<line x1="371.9" y1="362.5" x2="185.4" y2="515.3" stroke="#9a9a9a" stroke-width="0.8" opacity="0.22"/>
<line x1="378" y1="363.5" x2="191.5" y2="516.4" stroke="#9a9a9a" stroke-width="0.8" opacity="0.22"/>
<line x1="384.1" y1="364.5" x2="197.6" y2="517.5" stroke="#9a9a9a" stroke-width="0.8" opacity="0.22"/>
<line x1="390.2" y1="365.5" x2="203.7" y2="518.7" stroke="#9a9a9a" stroke-width="0.8" opacity="0.22"/>
<line x1="396.3" y1="366.5" x2="209.9" y2="519.8" stroke="#9a9a9a" stroke-width="0.8" opacity="0.22"/>
<line x1="402.4" y1="367.5" x2="216" y2="520.9" stroke="#9a9a9a" stroke-width="0.8" opacity="0.22"/>
<line x1="408.5" y1="368.6" x2="222.2" y2="522" stroke="#9a9a9a" stroke-width="0.8" opacity="0.22"/>
<line x1="414.7" y1="369.6" x2="228.3" y2="523.1" stroke="#9a9a9a" stroke-width="0.8" opacity="0.22"/>
<line x1="420.8" y1="370.6" x2="234.5" y2="524.2" stroke="#9a9a9a" stroke-width="0.8" opacity="0.22"/>
<line x1="427" y1="371.6" x2="240.6" y2="525.3" stroke="#9a9a9a" stroke-width="0.8" opacity="0.22"/>
<line x1="433.1" y1="372.6" x2="246.8" y2="526.5" stroke="#9a9a9a" stroke-width="0.8" opacity="0.22"/>
<line x1="439.3" y1="373.6" x2="253" y2="527.6" stroke="#9a9a9a" stroke-width="0.8" opacity="0.22"/>
<line x1="445.4" y1="374.7" x2="259.2" y2="528.7" stroke="#9a9a9a" stroke-width="0.8" opacity="0.22"/>
<line x1="451.6" y1="375.7" x2="265.4" y2="529.8" stroke="#9a9a9a" stroke-width="0.8" opacity="0.22"/>
<line x1="457.8" y1="376.7" x2="271.6" y2="530.9" stroke="#9a9a9a" stroke-width="0.8" opacity="0.22"/>
<line x1="464" y1="377.7" x2="277.8" y2="532.1" stroke="#9a9a9a" stroke-width="0.8" opacity="0.22"/>
<line x1="470.1" y1="378.7" x2="284" y2="533.2" stroke="#9a9a9a" stroke-width="0.8" opacity="0.22"/>
<line x1="476.3" y1="379.8" x2="290.2" y2="534.3" stroke="#9a9a9a" stroke-width="0.8" opacity="0.22"/>
<line x1="482.5" y1="380.8" x2="296.5" y2="535.4" stroke="#9a9a9a" stroke-width="0.8" opacity="0.22"/>
<line x1="488.7" y1="381.8" x2="302.7" y2="536.6" stroke="#9a9a9a" stroke-width="0.8" opacity="0.22"/>
<line x1="495" y1="382.8" x2="308.9" y2="537.7" stroke="#9a9a9a" stroke-width="0.8" opacity="0.22"/>
<line x1="501.2" y1="383.9" x2="315.2" y2="538.8" stroke="#9a9a9a" stroke-width="0.8" opacity="0.22"/>
<line x1="507.4" y1="384.9" x2="321.4" y2="540" stroke="#9a9a9a" stroke-width="0.8" opacity="0.22"/>
<line x1="513.6" y1="385.9" x2="327.7" y2="541.1" stroke="#9a9a9a" stroke-width="0.8" opacity="0.22"/>
<line x1="519.9" y1="387" x2="334" y2="542.2" stroke="#9a9a9a" stroke-width="0.8" opacity="0.22"/>
<line x1="526.1" y1="388" x2="340.2" y2="543.4" stroke="#9a9a9a" stroke-width="0.8" opacity="0.22"/>
<line x1="532.4" y1="389" x2="346.5" y2="544.5" stroke="#9a9a9a" stroke-width="0.8" opacity="0.22"/>
<line x1="538.6" y1="390.1" x2="352.8" y2="545.6" stroke="#9a9a9a" stroke-width="0.8" opacity="0.22"/>
<line x1="544.9" y1="391.1" x2="359.1" y2="546.8" stroke="#9a9a9a" stroke-width="0.8" opacity="0.22"/>
<line x1="551.2" y1="392.1" x2="365.4" y2="547.9" stroke="#9a9a9a" stroke-width="0.8" opacity="0.22"/>
<line x1="557.5" y1="393.2" x2="371.7" y2="549.1" stroke="#9a9a9a" stroke-width="0.8" opacity="0.22"/>
<line x1="563.7" y1="394.2" x2="378" y2="550.2" stroke="#9a9a9a" stroke-width="0.8" opacity="0.22"/>
<line x1="570" y1="395.2" x2="384.3" y2="551.4" stroke="#9a9a9a" stroke-width="0.8" opacity="0.22"/>
<line x1="576.3" y1="396.3" x2="390.7" y2="552.5" stroke="#9a9a9a" stroke-width="0.8" opacity="0.22"/>
<line x1="582.6" y1="397.3" x2="397" y2="553.6" stroke="#9a9a9a" stroke-width="0.8" opacity="0.22"/>
<line x1="589" y1="398.4" x2="403.3" y2="554.8" stroke="#9a9a9a" stroke-width="0.8" opacity="0.22"/>
<line x1="595.3" y1="399.4" x2="409.7" y2="555.9" stroke="#9a9a9a" stroke-width="0.8" opacity="0.22"/>
<line x1="601.6" y1="400.5" x2="416" y2="557.1" stroke="#9a9a9a" stroke-width="0.8" opacity="0.22"/>
<line x1="607.9" y1="401.5" x2="422.4" y2="558.2" stroke="#9a9a9a" stroke-width="0.8" opacity="0.22"/>
<line x1="614.3" y1="402.5" x2="428.8" y2="559.4" stroke="#9a9a9a" stroke-width="0.8" opacity="0.22"/>
<line x1="620.6" y1="403.6" x2="435.1" y2="560.5" stroke="#9a9a9a" stroke-width="0.8" opacity="0.22"/>
<line x1="627" y1="404.6" x2="441.5" y2="561.7" stroke="#9a9a9a" stroke-width="0.8" opacity="0.22"/>
<line x1="633.3" y1="405.7" x2="447.9" y2="562.9" stroke="#9a9a9a" stroke-width="0.8" opacity="0.22"/>
<line x1="639.7" y1="406.7" x2="454.3" y2="564" stroke="#9a9a9a" stroke-width="0.8" opacity="0.22"/>
<line x1="646.1" y1="407.8" x2="460.7" y2="565.2" stroke="#9a9a9a" stroke-width="0.8" opacity="0.22"/>
<line x1="652.4" y1="408.9" x2="467.1" y2="566.3" stroke="#9a9a9a" stroke-width="0.8" opacity="0.22"/>
<line x1="658.8" y1="409.9" x2="473.5" y2="567.5" stroke="#9a9a9a" stroke-width="0.8" opacity="0.22"/>
<line x1="665.2" y1="411" x2="480" y2="568.7" stroke="#9a9a9a" stroke-width="0.8" opacity="0.22"/>
<line x1="671.6" y1="412" x2="486.4" y2="569.8" stroke="#9a9a9a" stroke-width="0.8" opacity="0.22"/>
<line x1="678" y1="413.1" x2="492.8" y2="571" stroke="#9a9a9a" stroke-width="0.8" opacity="0.22"/>
<line x1="684.4" y1="414.1" x2="499.3" y2="572.2" stroke="#9a9a9a" stroke-width="0.8" opacity="0.22"/>
<line x1="690.9" y1="415.2" x2="505.7" y2="573.3" stroke="#9a9a9a" stroke-width="0.8" opacity="0.22"/>
<line x1="697.3" y1="416.3" x2="512.2" y2="574.5" stroke="#9a9a9a" stroke-width="0.8" opacity="0.22"/>
<line x1="703.7" y1="417.3" x2="518.6" y2="575.7" stroke="#9a9a9a" stroke-width="0.8" opacity="0.22"/>
<line x1="710.2" y1="418.4" x2="525.1" y2="576.8" stroke="#9a9a9a" stroke-width="0.8" opacity="0.22"/>
<line x1="716.6" y1="419.5" x2="531.6" y2="578" stroke="#9a9a9a" stroke-width="0.8" opacity="0.22"/>
<line x1="723.1" y1="420.5" x2="538.1" y2="579.2" stroke="#9a9a9a" stroke-width="0.8" opacity="0.22"/>
<line x1="729.5" y1="421.6" x2="544.6" y2="580.4" stroke="#9a9a9a" stroke-width="0.8" opacity="0.22"/>
<line x1="350.7" y1="359" x2="731.2" y2="421.9" stroke="#9a9a9a" stroke-width="0.8" opacity="0.22"/>
<line x1="347.6" y1="361.6" x2="728.1" y2="424.6" stroke="#9a9a9a" stroke-width="0.8" opacity="0.22"/>
<line x1="344.4" y1="364.2" x2="724.9" y2="427.3" stroke="#9a9a9a" stroke-width="0.8" opacity="0.22"/>
<line x1="341.2" y1="366.8" x2="721.8" y2="430" stroke="#9a9a9a" stroke-width="0.8" opacity="0.22"/>
<line x1="338.1" y1="369.4" x2="718.6" y2="432.7" stroke="#9a9a9a" stroke-width="0.8" opacity="0.22"/>
<line x1="334.9" y1="372" x2="715.5" y2="435.4" stroke="#9a9a9a" stroke-width="0.8" opacity="0.22"/>
<line x1="331.7" y1="374.6" x2="712.3" y2="438.1" stroke="#9a9a9a" stroke-width="0.8" opacity="0.22"/>
<line x1="328.5" y1="377.2" x2="709.2" y2="440.8" stroke="#9a9a9a" stroke-width="0.8" opacity="0.22"/>
<line x1="325.3" y1="379.8" x2="706" y2="443.5" stroke="#9a9a9a" stroke-width="0.8" opacity="0.22"/>
<line x1="322.1" y1="382.4" x2="702.9" y2="446.2" stroke="#9a9a9a" stroke-width="0.8" opacity="0.22"/>
<line x1="319" y1="385" x2="699.7" y2="448.9" stroke="#9a9a9a" stroke-width="0.8" opacity="0.22"/>
<line x1="315.8" y1="387.6" x2="696.6" y2="451.6" stroke="#9a9a9a" stroke-width="0.8" opacity="0.22"/>
<line x1="312.6" y1="390.2" x2="693.4" y2="454.3" stroke="#9a9a9a" stroke-width="0.8" opacity="0.22"/>
<line x1="309.4" y1="392.8" x2="690.2" y2="457" stroke="#9a9a9a" stroke-width="0.8" opacity="0.22"/>
<line x1="306.2" y1="395.4" x2="687.1" y2="459.8" stroke="#9a9a9a" stroke-width="0.8" opacity="0.22"/>
<line x1="303" y1="398" x2="683.9" y2="462.5" stroke="#9a9a9a" stroke-width="0.8" opacity="0.22"/>
<line x1="299.8" y1="400.6" x2="680.7" y2="465.2" stroke="#9a9a9a" stroke-width="0.8" opacity="0.22"/>
<line x1="296.6" y1="403.3" x2="677.6" y2="467.9" stroke="#9a9a9a" stroke-width="0.8" opacity="0.22"/>
<line x1="293.4" y1="405.9" x2="674.4" y2="470.6" stroke="#9a9a9a" stroke-width="0.8" opacity="0.22"/>
<line x1="290.2" y1="408.5" x2="671.2" y2="473.4" stroke="#9a9a9a" stroke-width="0.8" opacity="0.22"/>
<line x1="287" y1="411.1" x2="668" y2="476.1" stroke="#9a9a9a" stroke-width="0.8" opacity="0.22"/>
<line x1="283.8" y1="413.7" x2="664.9" y2="478.8" stroke="#9a9a9a" stroke-width="0.8" opacity="0.22"/>
<line x1="280.5" y1="416.4" x2="661.7" y2="481.6" stroke="#9a9a9a" stroke-width="0.8" opacity="0.22"/>
<line x1="277.3" y1="419" x2="658.5" y2="484.3" stroke="#9a9a9a" stroke-width="0.8" opacity="0.22"/>
<line x1="274.1" y1="421.6" x2="655.3" y2="487" stroke="#9a9a9a" stroke-width="0.8" opacity="0.22"/>
<line x1="270.9" y1="424.2" x2="652.1" y2="489.8" stroke="#9a9a9a" stroke-width="0.8" opacity="0.22"/>
<line x1="267.7" y1="426.9" x2="648.9" y2="492.5" stroke="#9a9a9a" stroke-width="0.8" opacity="0.22"/>
<line x1="264.4" y1="429.5" x2="645.7" y2="495.3" stroke="#9a9a9a" stroke-width="0.8" opacity="0.22"/>
<line x1="261.2" y1="432.2" x2="642.5" y2="498" stroke="#9a9a9a" stroke-width="0.8" opacity="0.22"/>
<line x1="258" y1="434.8" x2="639.3" y2="500.8" stroke="#9a9a9a" stroke-width="0.8" opacity="0.22"/>
<line x1="254.8" y1="437.4" x2="636.1" y2="503.5" stroke="#9a9a9a" stroke-width="0.8" opacity="0.22"/>
<line x1="251.5" y1="440.1" x2="632.9" y2="506.3" stroke="#9a9a9a" stroke-width="0.8" opacity="0.22"/>
<line x1="248.3" y1="442.7" x2="629.7" y2="509" stroke="#9a9a9a" stroke-width="0.8" opacity="0.22"/>
<line x1="245.1" y1="445.4" x2="626.5" y2="511.8" stroke="#9a9a9a" stroke-width="0.8" opacity="0.22"/>
<line x1="241.8" y1="448" x2="623.3" y2="514.5" stroke="#9a9a9a" stroke-width="0.8" opacity="0.22"/>
<line x1="238.6" y1="450.7" x2="620.1" y2="517.3" stroke="#9a9a9a" stroke-width="0.8" opacity="0.22"/>
<line x1="235.3" y1="453.3" x2="616.9" y2="520.1" stroke="#9a9a9a" stroke-width="0.8" opacity="0.22"/>
<line x1="232.1" y1="456" x2="613.6" y2="522.8" stroke="#9a9a9a" stroke-width="0.8" opacity="0.22"/>
<line x1="228.8" y1="458.6" x2="610.4" y2="525.6" stroke="#9a9a9a" stroke-width="0.8" opacity="0.22"/>
<line x1="225.6" y1="461.3" x2="607.2" y2="528.3" stroke="#9a9a9a" stroke-width="0.8" opacity="0.22"/>
<line x1="222.3" y1="463.9" x2="604" y2="531.1" stroke="#9a9a9a" stroke-width="0.8" opacity="0.22"/>
<line x1="219.1" y1="466.6" x2="600.7" y2="533.9" stroke="#9a9a9a" stroke-width="0.8" opacity="0.22"/>
<line x1="215.8" y1="469.2" x2="597.5" y2="536.7" stroke="#9a9a9a" stroke-width="0.8" opacity="0.22"/>
<line x1="212.6" y1="471.9" x2="594.3" y2="539.4" stroke="#9a9a9a" stroke-width="0.8" opacity="0.22"/>
<line x1="209.3" y1="474.6" x2="591.1" y2="542.2" stroke="#9a9a9a" stroke-width="0.8" opacity="0.22"/>
<line x1="206" y1="477.2" x2="587.8" y2="545" stroke="#9a9a9a" stroke-width="0.8" opacity="0.22"/>
<line x1="202.8" y1="479.9" x2="584.6" y2="547.8" stroke="#9a9a9a" stroke-width="0.8" opacity="0.22"/>
<line x1="199.5" y1="482.6" x2="581.3" y2="550.6" stroke="#9a9a9a" stroke-width="0.8" opacity="0.22"/>
<line x1="196.2" y1="485.3" x2="578.1" y2="553.3" stroke="#9a9a9a" stroke-width="0.8" opacity="0.22"/>
<line x1="193" y1="487.9" x2="574.8" y2="556.1" stroke="#9a9a9a" stroke-width="0.8" opacity="0.22"/>
<line x1="189.7" y1="490.6" x2="571.6" y2="558.9" stroke="#9a9a9a" stroke-width="0.8" opacity="0.22"/>
<line x1="186.4" y1="493.3" x2="568.4" y2="561.7" stroke="#9a9a9a" stroke-width="0.8" opacity="0.22"/>
<line x1="183.1" y1="496" x2="565.1" y2="564.5" stroke="#9a9a9a" stroke-width="0.8" opacity="0.22"/>
<line x1="179.8" y1="498.6" x2="561.8" y2="567.3" stroke="#9a9a9a" stroke-width="0.8" opacity="0.22"/>
<line x1="176.6" y1="501.3" x2="558.6" y2="570.1" stroke="#9a9a9a" stroke-width="0.8" opacity="0.22"/>
<line x1="173.3" y1="504" x2="555.3" y2="572.9" stroke="#9a9a9a" stroke-width="0.8" opacity="0.22"/>
<line x1="170" y1="506.7" x2="552.1" y2="575.7" stroke="#9a9a9a" stroke-width="0.8" opacity="0.22"/>
<line x1="166.7" y1="509.4" x2="548.8" y2="578.5" stroke="#9a9a9a" stroke-width="0.8" opacity="0.22"/>
<circle cx="360.3" cy="366" r="1.1" fill="#0c0c0c" opacity="0.55"/><circle cx="354" cy="371.2" r="1.1" fill="#0c0c0c" opacity="0.55"/><circle cx="347.6" cy="376.4" r="1.1" fill="#0c0c0c" opacity="0.55"/><circle cx="341.2" cy="381.6" r="1.1" fill="#0c0c0c" opacity="0.55"/><circle cx="334.9" cy="386.8" r="1.1" fill="#0c0c0c" opacity="0.55"/><circle cx="328.5" cy="392.1" r="1.1" fill="#0c0c0c" opacity="0.55"/><circle cx="322.1" cy="397.3" r="1.1" fill="#0c0c0c" opacity="0.55"/><circle cx="315.7" cy="402.5" r="1.1" fill="#0c0c0c" opacity="0.55"/><circle cx="309.3" cy="407.8" r="1.1" fill="#0c0c0c" opacity="0.55"/><circle cx="302.9" cy="413" r="1.1" fill="#0c0c0c" opacity="0.55"/><circle cx="296.5" cy="418.3" r="1.1" fill="#0c0c0c" opacity="0.55"/><circle cx="290" cy="423.5" r="1.1" fill="#0c0c0c" opacity="0.55"/><circle cx="283.6" cy="428.8" r="1.1" fill="#0c0c0c" opacity="0.55"/><circle cx="277.2" cy="434.1" r="1.1" fill="#0c0c0c" opacity="0.55"/><circle cx="270.7" cy="439.4" r="1.1" fill="#0c0c0c" opacity="0.55"/><circle cx="264.2" cy="444.7" r="1.1" fill="#0c0c0c" opacity="0.55"/><circle cx="257.8" cy="450" r="1.1" fill="#0c0c0c" opacity="0.55"/><circle cx="251.3" cy="455.3" r="1.1" fill="#0c0c0c" opacity="0.55"/><circle cx="244.8" cy="460.6" r="1.1" fill="#0c0c0c" opacity="0.55"/><circle cx="238.3" cy="465.9" r="1.1" fill="#0c0c0c" opacity="0.55"/><circle cx="231.8" cy="471.2" r="1.1" fill="#0c0c0c" opacity="0.55"/><circle cx="225.3" cy="476.6" r="1.1" fill="#0c0c0c" opacity="0.55"/><circle cx="218.7" cy="481.9" r="1.1" fill="#0c0c0c" opacity="0.55"/><circle cx="212.2" cy="487.3" r="1.1" fill="#0c0c0c" opacity="0.55"/><circle cx="205.7" cy="492.6" r="1.1" fill="#0c0c0c" opacity="0.55"/><circle cx="199.1" cy="498" r="1.1" fill="#0c0c0c" opacity="0.55"/><circle cx="192.5" cy="503.4" r="1.1" fill="#0c0c0c" opacity="0.55"/><circle cx="186" cy="508.7" r="1.1" fill="#0c0c0c" opacity="0.55"/><circle cx="372.5" cy="368" r="1.1" fill="#0c0c0c" opacity="0.55"/><circle cx="366.1" cy="373.2" r="1.1" fill="#0c0c0c" opacity="0.55"/><circle cx="359.8" cy="378.4" r="1.1" fill="#0c0c0c" opacity="0.55"/><circle cx="353.4" cy="383.7" r="1.1" fill="#0c0c0c" opacity="0.55"/><circle cx="347.1" cy="388.9" r="1.1" fill="#0c0c0c" opacity="0.55"/><circle cx="340.7" cy="394.1" r="1.1" fill="#0c0c0c" opacity="0.55"/><circle cx="334.3" cy="399.3" r="1.1" fill="#0c0c0c" opacity="0.55"/><circle cx="327.9" cy="404.6" r="1.1" fill="#0c0c0c" opacity="0.55"/><circle cx="321.5" cy="409.8" r="1.1" fill="#0c0c0c" opacity="0.55"/><circle cx="315.1" cy="415.1" r="1.1" fill="#0c0c0c" opacity="0.55"/><circle cx="308.7" cy="420.3" r="1.1" fill="#0c0c0c" opacity="0.55"/><circle cx="302.2" cy="425.6" r="1.1" fill="#0c0c0c" opacity="0.55"/><circle cx="295.8" cy="430.9" r="1.1" fill="#0c0c0c" opacity="0.55"/><circle cx="289.4" cy="436.2" r="1.1" fill="#0c0c0c" opacity="0.55"/><circle cx="282.9" cy="441.5" r="1.1" fill="#0c0c0c" opacity="0.55"/><circle cx="276.4" cy="446.8" r="1.1" fill="#0c0c0c" opacity="0.55"/><circle cx="270" cy="452.1" r="1.1" fill="#0c0c0c" opacity="0.55"/><circle cx="263.5" cy="457.4" r="1.1" fill="#0c0c0c" opacity="0.55"/><circle cx="257" cy="462.7" r="1.1" fill="#0c0c0c" opacity="0.55"/><circle cx="250.5" cy="468" r="1.1" fill="#0c0c0c" opacity="0.55"/><circle cx="244" cy="473.4" r="1.1" fill="#0c0c0c" opacity="0.55"/><circle cx="237.5" cy="478.7" r="1.1" fill="#0c0c0c" opacity="0.55"/><circle cx="231" cy="484.1" r="1.1" fill="#0c0c0c" opacity="0.55"/><circle cx="224.4" cy="489.4" r="1.1" fill="#0c0c0c" opacity="0.55"/><circle cx="217.9" cy="494.8" r="1.1" fill="#0c0c0c" opacity="0.55"/><circle cx="211.3" cy="500.2" r="1.1" fill="#0c0c0c" opacity="0.55"/><circle cx="204.8" cy="505.6" r="1.1" fill="#0c0c0c" opacity="0.55"/><circle cx="198.2" cy="510.9" r="1.1" fill="#0c0c0c" opacity="0.55"/><circle cx="384.7" cy="370.1" r="1.1" fill="#0c0c0c" opacity="0.55"/><circle cx="378.3" cy="375.3" r="1.1" fill="#0c0c0c" opacity="0.55"/><circle cx="372" cy="380.5" r="1.1" fill="#0c0c0c" opacity="0.55"/><circle cx="365.6" cy="385.7" r="1.1" fill="#0c0c0c" opacity="0.55"/><circle cx="359.3" cy="390.9" r="1.1" fill="#0c0c0c" opacity="0.55"/><circle cx="352.9" cy="396.2" r="1.1" fill="#0c0c0c" opacity="0.55"/><circle cx="346.5" cy="401.4" r="1.1" fill="#0c0c0c" opacity="0.55"/><circle cx="340.1" cy="406.6" r="1.1" fill="#0c0c0c" opacity="0.55"/><circle cx="333.7" cy="411.9" r="1.1" fill="#0c0c0c" opacity="0.55"/><circle cx="327.3" cy="417.2" r="1.1" fill="#0c0c0c" opacity="0.55"/><circle cx="320.9" cy="422.4" r="1.1" fill="#0c0c0c" opacity="0.55"/><circle cx="314.5" cy="427.7" r="1.1" fill="#0c0c0c" opacity="0.55"/><circle cx="308" cy="433" r="1.1" fill="#0c0c0c" opacity="0.55"/><circle cx="301.6" cy="438.3" r="1.1" fill="#0c0c0c" opacity="0.55"/><circle cx="295.1" cy="443.6" r="1.1" fill="#0c0c0c" opacity="0.55"/><circle cx="288.7" cy="448.9" r="1.1" fill="#0c0c0c" opacity="0.55"/><circle cx="282.2" cy="454.2" r="1.1" fill="#0c0c0c" opacity="0.55"/><circle cx="275.7" cy="459.5" r="1.1" fill="#0c0c0c" opacity="0.55"/><circle cx="269.2" cy="464.9" r="1.1" fill="#0c0c0c" opacity="0.55"/><circle cx="262.7" cy="470.2" r="1.1" fill="#0c0c0c" opacity="0.55"/><circle cx="256.2" cy="475.5" r="1.1" fill="#0c0c0c" opacity="0.55"/><circle cx="249.7" cy="480.9" r="1.1" fill="#0c0c0c" opacity="0.55"/><circle cx="243.2" cy="486.3" r="1.1" fill="#0c0c0c" opacity="0.55"/><circle cx="236.7" cy="491.6" r="1.1" fill="#0c0c0c" opacity="0.55"/><circle cx="230.1" cy="497" r="1.1" fill="#0c0c0c" opacity="0.55"/><circle cx="223.6" cy="502.4" r="1.1" fill="#0c0c0c" opacity="0.55"/><circle cx="217" cy="507.8" r="1.1" fill="#0c0c0c" opacity="0.55"/><circle cx="210.4" cy="513.2" r="1.1" fill="#0c0c0c" opacity="0.55"/><circle cx="396.9" cy="372.1" r="1.1" fill="#0c0c0c" opacity="0.55"/><circle cx="390.6" cy="377.3" r="1.1" fill="#0c0c0c" opacity="0.55"/><circle cx="384.2" cy="382.5" r="1.1" fill="#0c0c0c" opacity="0.55"/><circle cx="377.9" cy="387.7" r="1.1" fill="#0c0c0c" opacity="0.55"/><circle cx="371.5" cy="393" r="1.1" fill="#0c0c0c" opacity="0.55"/><circle cx="365.1" cy="398.2" r="1.1" fill="#0c0c0c" opacity="0.55"/><circle cx="358.8" cy="403.5" r="1.1" fill="#0c0c0c" opacity="0.55"/><circle cx="352.4" cy="408.7" r="1.1" fill="#0c0c0c" opacity="0.55"/><circle cx="346" cy="414" r="1.1" fill="#0c0c0c" opacity="0.55"/><circle cx="339.6" cy="419.3" r="1.1" fill="#0c0c0c" opacity="0.55"/><circle cx="333.1" cy="424.5" r="1.1" fill="#0c0c0c" opacity="0.55"/><circle cx="326.7" cy="429.8" r="1.1" fill="#0c0c0c" opacity="0.55"/><circle cx="320.3" cy="435.1" r="1.1" fill="#0c0c0c" opacity="0.55"/><circle cx="313.8" cy="440.4" r="1.1" fill="#0c0c0c" opacity="0.55"/><circle cx="307.4" cy="445.7" r="1.1" fill="#0c0c0c" opacity="0.55"/><circle cx="300.9" cy="451" r="1.1" fill="#0c0c0c" opacity="0.55"/><circle cx="294.5" cy="456.4" r="1.1" fill="#0c0c0c" opacity="0.55"/><circle cx="288" cy="461.7" r="1.1" fill="#0c0c0c" opacity="0.55"/><circle cx="281.5" cy="467" r="1.1" fill="#0c0c0c" opacity="0.55"/><circle cx="275" cy="472.4" r="1.1" fill="#0c0c0c" opacity="0.55"/><circle cx="268.5" cy="477.7" r="1.1" fill="#0c0c0c" opacity="0.55"/><circle cx="262" cy="483.1" r="1.1" fill="#0c0c0c" opacity="0.55"/><circle cx="255.5" cy="488.4" r="1.1" fill="#0c0c0c" opacity="0.55"/><circle cx="248.9" cy="493.8" r="1.1" fill="#0c0c0c" opacity="0.55"/><circle cx="242.4" cy="499.2" r="1.1" fill="#0c0c0c" opacity="0.55"/><circle cx="235.8" cy="504.6" r="1.1" fill="#0c0c0c" opacity="0.55"/><circle cx="229.3" cy="510" r="1.1" fill="#0c0c0c" opacity="0.55"/><circle cx="222.7" cy="515.4" r="1.1" fill="#0c0c0c" opacity="0.55"/><circle cx="409.2" cy="374.1" r="1.1" fill="#0c0c0c" opacity="0.55"/><circle cx="402.8" cy="379.3" r="1.1" fill="#0c0c0c" opacity="0.55"/><circle cx="396.5" cy="384.6" r="1.1" fill="#0c0c0c" opacity="0.55"/><circle cx="390.1" cy="389.8" r="1.1" fill="#0c0c0c" opacity="0.55"/><circle cx="383.8" cy="395" r="1.1" fill="#0c0c0c" opacity="0.55"/><circle cx="377.4" cy="400.3" r="1.1" fill="#0c0c0c" opacity="0.55"/><circle cx="371" cy="405.5" r="1.1" fill="#0c0c0c" opacity="0.55"/><circle cx="364.6" cy="410.8" r="1.1" fill="#0c0c0c" opacity="0.55"/><circle cx="358.2" cy="416.1" r="1.1" fill="#0c0c0c" opacity="0.55"/><circle cx="351.8" cy="421.3" r="1.1" fill="#0c0c0c" opacity="0.55"/><circle cx="345.4" cy="426.6" r="1.1" fill="#0c0c0c" opacity="0.55"/><circle cx="339" cy="431.9" r="1.1" fill="#0c0c0c" opacity="0.55"/><circle cx="332.6" cy="437.2" r="1.1" fill="#0c0c0c" opacity="0.55"/><circle cx="326.1" cy="442.5" r="1.1" fill="#0c0c0c" opacity="0.55"/><circle cx="319.7" cy="447.8" r="1.1" fill="#0c0c0c" opacity="0.55"/><circle cx="313.2" cy="453.2" r="1.1" fill="#0c0c0c" opacity="0.55"/><circle cx="306.7" cy="458.5" r="1.1" fill="#0c0c0c" opacity="0.55"/><circle cx="300.3" cy="463.8" r="1.1" fill="#0c0c0c" opacity="0.55"/><circle cx="293.8" cy="469.2" r="1.1" fill="#0c0c0c" opacity="0.55"/><circle cx="287.3" cy="474.5" r="1.1" fill="#0c0c0c" opacity="0.55"/><circle cx="280.8" cy="479.9" r="1.1" fill="#0c0c0c" opacity="0.55"/><circle cx="274.3" cy="485.2" r="1.1" fill="#0c0c0c" opacity="0.55"/><circle cx="267.8" cy="490.6" r="1.1" fill="#0c0c0c" opacity="0.55"/><circle cx="261.2" cy="496" r="1.1" fill="#0c0c0c" opacity="0.55"/><circle cx="254.7" cy="501.4" r="1.1" fill="#0c0c0c" opacity="0.55"/><circle cx="248.1" cy="506.8" r="1.1" fill="#0c0c0c" opacity="0.55"/><circle cx="241.6" cy="512.2" r="1.1" fill="#0c0c0c" opacity="0.55"/><circle cx="235" cy="517.6" r="1.1" fill="#0c0c0c" opacity="0.55"/><circle cx="421.5" cy="376.1" r="1.1" fill="#0c0c0c" opacity="0.55"/><circle cx="415.1" cy="381.4" r="1.1" fill="#0c0c0c" opacity="0.55"/><circle cx="408.8" cy="386.6" r="1.1" fill="#0c0c0c" opacity="0.55"/><circle cx="402.4" cy="391.8" r="1.1" fill="#0c0c0c" opacity="0.55"/><circle cx="396.1" cy="397.1" r="1.1" fill="#0c0c0c" opacity="0.55"/><circle cx="389.7" cy="402.4" r="1.1" fill="#0c0c0c" opacity="0.55"/><circle cx="383.3" cy="407.6" r="1.1" fill="#0c0c0c" opacity="0.55"/><circle cx="376.9" cy="412.9" r="1.1" fill="#0c0c0c" opacity="0.55"/><circle cx="370.5" cy="418.2" r="1.1" fill="#0c0c0c" opacity="0.55"/><circle cx="364.1" cy="423.4" r="1.1" fill="#0c0c0c" opacity="0.55"/><circle cx="357.7" cy="428.7" r="1.1" fill="#0c0c0c" opacity="0.55"/><circle cx="351.3" cy="434" r="1.1" fill="#0c0c0c" opacity="0.55"/><circle cx="344.9" cy="439.3" r="1.1" fill="#0c0c0c" opacity="0.55"/><circle cx="338.4" cy="444.7" r="1.1" fill="#0c0c0c" opacity="0.55"/><circle cx="332" cy="450" r="1.1" fill="#0c0c0c" opacity="0.55"/><circle cx="325.5" cy="455.3" r="1.1" fill="#0c0c0c" opacity="0.55"/><circle cx="319.1" cy="460.6" r="1.1" fill="#0c0c0c" opacity="0.55"/><circle cx="312.6" cy="466" r="1.1" fill="#0c0c0c" opacity="0.55"/><circle cx="306.1" cy="471.3" r="1.1" fill="#0c0c0c" opacity="0.55"/><circle cx="299.6" cy="476.7" r="1.1" fill="#0c0c0c" opacity="0.55"/><circle cx="293.1" cy="482.1" r="1.1" fill="#0c0c0c" opacity="0.55"/><circle cx="286.6" cy="487.4" r="1.1" fill="#0c0c0c" opacity="0.55"/><circle cx="280.1" cy="492.8" r="1.1" fill="#0c0c0c" opacity="0.55"/><circle cx="273.5" cy="498.2" r="1.1" fill="#0c0c0c" opacity="0.55"/><circle cx="267" cy="503.6" r="1.1" fill="#0c0c0c" opacity="0.55"/><circle cx="260.5" cy="509" r="1.1" fill="#0c0c0c" opacity="0.55"/><circle cx="253.9" cy="514.4" r="1.1" fill="#0c0c0c" opacity="0.55"/><circle cx="247.3" cy="519.8" r="1.1" fill="#0c0c0c" opacity="0.55"/><circle cx="433.8" cy="378.2" r="1.1" fill="#0c0c0c" opacity="0.55"/><circle cx="427.4" cy="383.4" r="1.1" fill="#0c0c0c" opacity="0.55"/><circle cx="421.1" cy="388.7" r="1.1" fill="#0c0c0c" opacity="0.55"/><circle cx="414.7" cy="393.9" r="1.1" fill="#0c0c0c" opacity="0.55"/><circle cx="408.4" cy="399.2" r="1.1" fill="#0c0c0c" opacity="0.55"/><circle cx="402" cy="404.4" r="1.1" fill="#0c0c0c" opacity="0.55"/><circle cx="395.6" cy="409.7" r="1.1" fill="#0c0c0c" opacity="0.55"/><circle cx="389.3" cy="415" r="1.1" fill="#0c0c0c" opacity="0.55"/><circle cx="382.9" cy="420.3" r="1.1" fill="#0c0c0c" opacity="0.55"/><circle cx="376.5" cy="425.5" r="1.1" fill="#0c0c0c" opacity="0.55"/><circle cx="370" cy="430.8" r="1.1" fill="#0c0c0c" opacity="0.55"/><circle cx="363.6" cy="436.2" r="1.1" fill="#0c0c0c" opacity="0.55"/><circle cx="357.2" cy="441.5" r="1.1" fill="#0c0c0c" opacity="0.55"/><circle cx="350.8" cy="446.8" r="1.1" fill="#0c0c0c" opacity="0.55"/><circle cx="344.3" cy="452.1" r="1.1" fill="#0c0c0c" opacity="0.55"/><circle cx="337.9" cy="457.4" r="1.1" fill="#0c0c0c" opacity="0.55"/><circle cx="331.4" cy="462.8" r="1.1" fill="#0c0c0c" opacity="0.55"/><circle cx="324.9" cy="468.1" r="1.1" fill="#0c0c0c" opacity="0.55"/><circle cx="318.4" cy="473.5" r="1.1" fill="#0c0c0c" opacity="0.55"/><circle cx="311.9" cy="478.9" r="1.1" fill="#0c0c0c" opacity="0.55"/><circle cx="305.4" cy="484.2" r="1.1" fill="#0c0c0c" opacity="0.55"/><circle cx="298.9" cy="489.6" r="1.1" fill="#0c0c0c" opacity="0.55"/><circle cx="292.4" cy="495" r="1.1" fill="#0c0c0c" opacity="0.55"/><circle cx="285.9" cy="500.4" r="1.1" fill="#0c0c0c" opacity="0.55"/><circle cx="279.4" cy="505.8" r="1.1" fill="#0c0c0c" opacity="0.55"/><circle cx="272.8" cy="511.2" r="1.1" fill="#0c0c0c" opacity="0.55"/><circle cx="266.3" cy="516.6" r="1.1" fill="#0c0c0c" opacity="0.55"/><circle cx="259.7" cy="522" r="1.1" fill="#0c0c0c" opacity="0.55"/><circle cx="446.1" cy="380.2" r="1.1" fill="#0c0c0c" opacity="0.55"/><circle cx="439.8" cy="385.5" r="1.1" fill="#0c0c0c" opacity="0.55"/><circle cx="433.4" cy="390.7" r="1.1" fill="#0c0c0c" opacity="0.55"/><circle cx="427.1" cy="396" r="1.1" fill="#0c0c0c" opacity="0.55"/><circle cx="420.7" cy="401.2" r="1.1" fill="#0c0c0c" opacity="0.55"/><circle cx="414.4" cy="406.5" r="1.1" fill="#0c0c0c" opacity="0.55"/><circle cx="408" cy="411.8" r="1.1" fill="#0c0c0c" opacity="0.55"/><circle cx="401.6" cy="417.1" r="1.1" fill="#0c0c0c" opacity="0.55"/><circle cx="395.2" cy="422.4" r="1.1" fill="#0c0c0c" opacity="0.55"/><circle cx="388.8" cy="427.7" r="1.1" fill="#0c0c0c" opacity="0.55"/><circle cx="382.4" cy="433" r="1.1" fill="#0c0c0c" opacity="0.55"/><circle cx="376" cy="438.3" r="1.1" fill="#0c0c0c" opacity="0.55"/><circle cx="369.5" cy="443.6" r="1.1" fill="#0c0c0c" opacity="0.55"/><circle cx="363.1" cy="448.9" r="1.1" fill="#0c0c0c" opacity="0.55"/><circle cx="356.7" cy="454.3" r="1.1" fill="#0c0c0c" opacity="0.55"/><circle cx="350.2" cy="459.6" r="1.1" fill="#0c0c0c" opacity="0.55"/><circle cx="343.8" cy="464.9" r="1.1" fill="#0c0c0c" opacity="0.55"/><circle cx="337.3" cy="470.3" r="1.1" fill="#0c0c0c" opacity="0.55"/><circle cx="330.8" cy="475.7" r="1.1" fill="#0c0c0c" opacity="0.55"/><circle cx="324.3" cy="481" r="1.1" fill="#0c0c0c" opacity="0.55"/><circle cx="317.8" cy="486.4" r="1.1" fill="#0c0c0c" opacity="0.55"/><circle cx="311.3" cy="491.8" r="1.1" fill="#0c0c0c" opacity="0.55"/><circle cx="304.8" cy="497.2" r="1.1" fill="#0c0c0c" opacity="0.55"/><circle cx="298.3" cy="502.6" r="1.1" fill="#0c0c0c" opacity="0.55"/><circle cx="291.7" cy="508" r="1.1" fill="#0c0c0c" opacity="0.55"/><circle cx="285.2" cy="513.4" r="1.1" fill="#0c0c0c" opacity="0.55"/><circle cx="278.6" cy="518.8" r="1.1" fill="#0c0c0c" opacity="0.55"/><circle cx="272.1" cy="524.3" r="1.1" fill="#0c0c0c" opacity="0.55"/><circle cx="458.5" cy="382.3" r="1.1" fill="#0c0c0c" opacity="0.55"/><circle cx="452.1" cy="387.5" r="1.1" fill="#0c0c0c" opacity="0.55"/><circle cx="445.8" cy="392.8" r="1.1" fill="#0c0c0c" opacity="0.55"/><circle cx="439.4" cy="398" r="1.1" fill="#0c0c0c" opacity="0.55"/><circle cx="433.1" cy="403.3" r="1.1" fill="#0c0c0c" opacity="0.55"/><circle cx="426.7" cy="408.6" r="1.1" fill="#0c0c0c" opacity="0.55"/><circle cx="420.3" cy="413.9" r="1.1" fill="#0c0c0c" opacity="0.55"/><circle cx="414" cy="419.2" r="1.1" fill="#0c0c0c" opacity="0.55"/><circle cx="407.6" cy="424.5" r="1.1" fill="#0c0c0c" opacity="0.55"/><circle cx="401.2" cy="429.8" r="1.1" fill="#0c0c0c" opacity="0.55"/><circle cx="394.8" cy="435.1" r="1.1" fill="#0c0c0c" opacity="0.55"/><circle cx="388.4" cy="440.4" r="1.1" fill="#0c0c0c" opacity="0.55"/><circle cx="381.9" cy="445.7" r="1.1" fill="#0c0c0c" opacity="0.55"/><circle cx="375.5" cy="451.1" r="1.1" fill="#0c0c0c" opacity="0.55"/><circle cx="369.1" cy="456.4" r="1.1" fill="#0c0c0c" opacity="0.55"/><circle cx="362.6" cy="461.7" r="1.1" fill="#0c0c0c" opacity="0.55"/><circle cx="356.1" cy="467.1" r="1.1" fill="#0c0c0c" opacity="0.55"/><circle cx="349.7" cy="472.5" r="1.1" fill="#0c0c0c" opacity="0.55"/><circle cx="343.2" cy="477.8" r="1.1" fill="#0c0c0c" opacity="0.55"/><circle cx="336.7" cy="483.2" r="1.1" fill="#0c0c0c" opacity="0.55"/><circle cx="330.2" cy="488.6" r="1.1" fill="#0c0c0c" opacity="0.55"/><circle cx="323.7" cy="494" r="1.1" fill="#0c0c0c" opacity="0.55"/><circle cx="317.2" cy="499.4" r="1.1" fill="#0c0c0c" opacity="0.55"/><circle cx="310.7" cy="504.8" r="1.1" fill="#0c0c0c" opacity="0.55"/><circle cx="304.1" cy="510.2" r="1.1" fill="#0c0c0c" opacity="0.55"/><circle cx="297.6" cy="515.6" r="1.1" fill="#0c0c0c" opacity="0.55"/><circle cx="291" cy="521.1" r="1.1" fill="#0c0c0c" opacity="0.55"/><circle cx="284.5" cy="526.5" r="1.1" fill="#0c0c0c" opacity="0.55"/><circle cx="470.8" cy="384.3" r="1.1" fill="#0c0c0c" opacity="0.55"/><circle cx="464.5" cy="389.6" r="1.1" fill="#0c0c0c" opacity="0.55"/><circle cx="458.2" cy="394.8" r="1.1" fill="#0c0c0c" opacity="0.55"/><circle cx="451.8" cy="400.1" r="1.1" fill="#0c0c0c" opacity="0.55"/><circle cx="445.5" cy="405.4" r="1.1" fill="#0c0c0c" opacity="0.55"/><circle cx="439.1" cy="410.7" r="1.1" fill="#0c0c0c" opacity="0.55"/><circle cx="432.7" cy="416" r="1.1" fill="#0c0c0c" opacity="0.55"/><circle cx="426.4" cy="421.3" r="1.1" fill="#0c0c0c" opacity="0.55"/><circle cx="420" cy="426.6" r="1.1" fill="#0c0c0c" opacity="0.55"/><circle cx="413.6" cy="431.9" r="1.1" fill="#0c0c0c" opacity="0.55"/><circle cx="407.2" cy="437.2" r="1.1" fill="#0c0c0c" opacity="0.55"/><circle cx="400.8" cy="442.5" r="1.1" fill="#0c0c0c" opacity="0.55"/><circle cx="394.3" cy="447.9" r="1.1" fill="#0c0c0c" opacity="0.55"/><circle cx="387.9" cy="453.2" r="1.1" fill="#0c0c0c" opacity="0.55"/><circle cx="381.5" cy="458.5" r="1.1" fill="#0c0c0c" opacity="0.55"/><circle cx="375" cy="463.9" r="1.1" fill="#0c0c0c" opacity="0.55"/><circle cx="368.6" cy="469.3" r="1.1" fill="#0c0c0c" opacity="0.55"/><circle cx="362.1" cy="474.6" r="1.1" fill="#0c0c0c" opacity="0.55"/><circle cx="355.6" cy="480" r="1.1" fill="#0c0c0c" opacity="0.55"/><circle cx="349.1" cy="485.4" r="1.1" fill="#0c0c0c" opacity="0.55"/><circle cx="342.6" cy="490.8" r="1.1" fill="#0c0c0c" opacity="0.55"/><circle cx="336.1" cy="496.2" r="1.1" fill="#0c0c0c" opacity="0.55"/><circle cx="329.6" cy="501.6" r="1.1" fill="#0c0c0c" opacity="0.55"/><circle cx="323.1" cy="507" r="1.1" fill="#0c0c0c" opacity="0.55"/><circle cx="316.6" cy="512.4" r="1.1" fill="#0c0c0c" opacity="0.55"/><circle cx="310" cy="517.9" r="1.1" fill="#0c0c0c" opacity="0.55"/><circle cx="303.5" cy="523.3" r="1.1" fill="#0c0c0c" opacity="0.55"/><circle cx="296.9" cy="528.8" r="1.1" fill="#0c0c0c" opacity="0.55"/><circle cx="483.2" cy="386.4" r="1.1" fill="#0c0c0c" opacity="0.55"/><circle cx="476.9" cy="391.6" r="1.1" fill="#0c0c0c" opacity="0.55"/><circle cx="470.6" cy="396.9" r="1.1" fill="#0c0c0c" opacity="0.55"/><circle cx="464.2" cy="402.2" r="1.1" fill="#0c0c0c" opacity="0.55"/><circle cx="457.9" cy="407.5" r="1.1" fill="#0c0c0c" opacity="0.55"/><circle cx="451.5" cy="412.8" r="1.1" fill="#0c0c0c" opacity="0.55"/><circle cx="445.2" cy="418.1" r="1.1" fill="#0c0c0c" opacity="0.55"/><circle cx="438.8" cy="423.4" r="1.1" fill="#0c0c0c" opacity="0.55"/><circle cx="432.4" cy="428.7" r="1.1" fill="#0c0c0c" opacity="0.55"/><circle cx="426" cy="434" r="1.1" fill="#0c0c0c" opacity="0.55"/><circle cx="419.6" cy="439.3" r="1.1" fill="#0c0c0c" opacity="0.55"/><circle cx="413.2" cy="444.7" r="1.1" fill="#0c0c0c" opacity="0.55"/><circle cx="406.8" cy="450" r="1.1" fill="#0c0c0c" opacity="0.55"/><circle cx="400.3" cy="455.3" r="1.1" fill="#0c0c0c" opacity="0.55"/><circle cx="393.9" cy="460.7" r="1.1" fill="#0c0c0c" opacity="0.55"/><circle cx="387.5" cy="466.1" r="1.1" fill="#0c0c0c" opacity="0.55"/><circle cx="381" cy="471.4" r="1.1" fill="#0c0c0c" opacity="0.55"/><circle cx="374.5" cy="476.8" r="1.1" fill="#0c0c0c" opacity="0.55"/><circle cx="368.1" cy="482.2" r="1.1" fill="#0c0c0c" opacity="0.55"/><circle cx="361.6" cy="487.6" r="1.1" fill="#0c0c0c" opacity="0.55"/><circle cx="355.1" cy="493" r="1.1" fill="#0c0c0c" opacity="0.55"/><circle cx="348.6" cy="498.4" r="1.1" fill="#0c0c0c" opacity="0.55"/><circle cx="342.1" cy="503.8" r="1.1" fill="#0c0c0c" opacity="0.55"/><circle cx="335.5" cy="509.2" r="1.1" fill="#0c0c0c" opacity="0.55"/><circle cx="329" cy="514.7" r="1.1" fill="#0c0c0c" opacity="0.55"/><circle cx="322.5" cy="520.1" r="1.1" fill="#0c0c0c" opacity="0.55"/><circle cx="315.9" cy="525.6" r="1.1" fill="#0c0c0c" opacity="0.55"/><circle cx="309.4" cy="531" r="1.1" fill="#0c0c0c" opacity="0.55"/><circle cx="495.7" cy="388.4" r="1.1" fill="#0c0c0c" opacity="0.55"/><circle cx="489.4" cy="393.7" r="1.1" fill="#0c0c0c" opacity="0.55"/><circle cx="483" cy="399" r="1.1" fill="#0c0c0c" opacity="0.55"/><circle cx="476.7" cy="404.3" r="1.1" fill="#0c0c0c" opacity="0.55"/><circle cx="470.3" cy="409.6" r="1.1" fill="#0c0c0c" opacity="0.55"/><circle cx="464" cy="414.9" r="1.1" fill="#0c0c0c" opacity="0.55"/><circle cx="457.6" cy="420.2" r="1.1" fill="#0c0c0c" opacity="0.55"/><circle cx="451.2" cy="425.5" r="1.1" fill="#0c0c0c" opacity="0.55"/><circle cx="444.9" cy="430.8" r="1.1" fill="#0c0c0c" opacity="0.55"/><circle cx="438.5" cy="436.1" r="1.1" fill="#0c0c0c" opacity="0.55"/><circle cx="432.1" cy="441.5" r="1.1" fill="#0c0c0c" opacity="0.55"/><circle cx="425.6" cy="446.8" r="1.1" fill="#0c0c0c" opacity="0.55"/><circle cx="419.2" cy="452.1" r="1.1" fill="#0c0c0c" opacity="0.55"/><circle cx="412.8" cy="457.5" r="1.1" fill="#0c0c0c" opacity="0.55"/><circle cx="406.4" cy="462.9" r="1.1" fill="#0c0c0c" opacity="0.55"/><circle cx="399.9" cy="468.2" r="1.1" fill="#0c0c0c" opacity="0.55"/><circle cx="393.5" cy="473.6" r="1.1" fill="#0c0c0c" opacity="0.55"/><circle cx="387" cy="479" r="1.1" fill="#0c0c0c" opacity="0.55"/><circle cx="380.5" cy="484.4" r="1.1" fill="#0c0c0c" opacity="0.55"/><circle cx="374" cy="489.8" r="1.1" fill="#0c0c0c" opacity="0.55"/><circle cx="367.5" cy="495.2" r="1.1" fill="#0c0c0c" opacity="0.55"/><circle cx="361" cy="500.6" r="1.1" fill="#0c0c0c" opacity="0.55"/><circle cx="354.5" cy="506" r="1.1" fill="#0c0c0c" opacity="0.55"/><circle cx="348" cy="511.5" r="1.1" fill="#0c0c0c" opacity="0.55"/><circle cx="341.5" cy="516.9" r="1.1" fill="#0c0c0c" opacity="0.55"/><circle cx="335" cy="522.3" r="1.1" fill="#0c0c0c" opacity="0.55"/><circle cx="328.4" cy="527.8" r="1.1" fill="#0c0c0c" opacity="0.55"/><circle cx="321.9" cy="533.3" r="1.1" fill="#0c0c0c" opacity="0.55"/><circle cx="508.1" cy="390.5" r="1.1" fill="#0c0c0c" opacity="0.55"/><circle cx="501.8" cy="395.8" r="1.1" fill="#0c0c0c" opacity="0.55"/><circle cx="495.5" cy="401.1" r="1.1" fill="#0c0c0c" opacity="0.55"/><circle cx="489.2" cy="406.4" r="1.1" fill="#0c0c0c" opacity="0.55"/><circle cx="482.8" cy="411.7" r="1.1" fill="#0c0c0c" opacity="0.55"/><circle cx="476.5" cy="417" r="1.1" fill="#0c0c0c" opacity="0.55"/><circle cx="470.1" cy="422.3" r="1.1" fill="#0c0c0c" opacity="0.55"/><circle cx="463.7" cy="427.6" r="1.1" fill="#0c0c0c" opacity="0.55"/><circle cx="457.3" cy="432.9" r="1.1" fill="#0c0c0c" opacity="0.55"/><circle cx="450.9" cy="438.2" r="1.1" fill="#0c0c0c" opacity="0.55"/><circle cx="444.5" cy="443.6" r="1.1" fill="#0c0c0c" opacity="0.55"/><circle cx="438.1" cy="448.9" r="1.1" fill="#0c0c0c" opacity="0.55"/><circle cx="431.7" cy="454.3" r="1.1" fill="#0c0c0c" opacity="0.55"/><circle cx="425.3" cy="459.7" r="1.1" fill="#0c0c0c" opacity="0.55"/><circle cx="418.8" cy="465" r="1.1" fill="#0c0c0c" opacity="0.55"/><circle cx="412.4" cy="470.4" r="1.1" fill="#0c0c0c" opacity="0.55"/><circle cx="406" cy="475.8" r="1.1" fill="#0c0c0c" opacity="0.55"/><circle cx="399.5" cy="481.2" r="1.1" fill="#0c0c0c" opacity="0.55"/><circle cx="393" cy="486.6" r="1.1" fill="#0c0c0c" opacity="0.55"/><circle cx="386.5" cy="492" r="1.1" fill="#0c0c0c" opacity="0.55"/><circle cx="380" cy="497.4" r="1.1" fill="#0c0c0c" opacity="0.55"/><circle cx="373.6" cy="502.8" r="1.1" fill="#0c0c0c" opacity="0.55"/><circle cx="367" cy="508.3" r="1.1" fill="#0c0c0c" opacity="0.55"/><circle cx="360.5" cy="513.7" r="1.1" fill="#0c0c0c" opacity="0.55"/><circle cx="354" cy="519.1" r="1.1" fill="#0c0c0c" opacity="0.55"/><circle cx="347.5" cy="524.6" r="1.1" fill="#0c0c0c" opacity="0.55"/><circle cx="340.9" cy="530.1" r="1.1" fill="#0c0c0c" opacity="0.55"/><circle cx="334.4" cy="535.5" r="1.1" fill="#0c0c0c" opacity="0.55"/><circle cx="520.6" cy="392.6" r="1.1" fill="#0c0c0c" opacity="0.55"/><circle cx="514.3" cy="397.9" r="1.1" fill="#0c0c0c" opacity="0.55"/><circle cx="508" cy="403.1" r="1.1" fill="#0c0c0c" opacity="0.55"/><circle cx="501.6" cy="408.4" r="1.1" fill="#0c0c0c" opacity="0.55"/><circle cx="495.3" cy="413.7" r="1.1" fill="#0c0c0c" opacity="0.55"/><circle cx="488.9" cy="419.1" r="1.1" fill="#0c0c0c" opacity="0.55"/><circle cx="482.6" cy="424.4" r="1.1" fill="#0c0c0c" opacity="0.55"/><circle cx="476.2" cy="429.7" r="1.1" fill="#0c0c0c" opacity="0.55"/><circle cx="469.8" cy="435" r="1.1" fill="#0c0c0c" opacity="0.55"/><circle cx="463.4" cy="440.4" r="1.1" fill="#0c0c0c" opacity="0.55"/><circle cx="457" cy="445.7" r="1.1" fill="#0c0c0c" opacity="0.55"/><circle cx="450.6" cy="451.1" r="1.1" fill="#0c0c0c" opacity="0.55"/><circle cx="444.2" cy="456.4" r="1.1" fill="#0c0c0c" opacity="0.55"/><circle cx="437.8" cy="461.8" r="1.1" fill="#0c0c0c" opacity="0.55"/><circle cx="431.4" cy="467.2" r="1.1" fill="#0c0c0c" opacity="0.55"/><circle cx="424.9" cy="472.6" r="1.1" fill="#0c0c0c" opacity="0.55"/><circle cx="418.5" cy="478" r="1.1" fill="#0c0c0c" opacity="0.55"/><circle cx="412" cy="483.4" r="1.1" fill="#0c0c0c" opacity="0.55"/><circle cx="405.5" cy="488.8" r="1.1" fill="#0c0c0c" opacity="0.55"/><circle cx="399.1" cy="494.2" r="1.1" fill="#0c0c0c" opacity="0.55"/><circle cx="392.6" cy="499.6" r="1.1" fill="#0c0c0c" opacity="0.55"/><circle cx="386.1" cy="505" r="1.1" fill="#0c0c0c" opacity="0.55"/><circle cx="379.6" cy="510.5" r="1.1" fill="#0c0c0c" opacity="0.55"/><circle cx="373.1" cy="515.9" r="1.1" fill="#0c0c0c" opacity="0.55"/><circle cx="366.5" cy="521.4" r="1.1" fill="#0c0c0c" opacity="0.55"/><circle cx="360" cy="526.8" r="1.1" fill="#0c0c0c" opacity="0.55"/><circle cx="353.5" cy="532.3" r="1.1" fill="#0c0c0c" opacity="0.55"/><circle cx="346.9" cy="537.8" r="1.1" fill="#0c0c0c" opacity="0.55"/><circle cx="533.1" cy="394.6" r="1.1" fill="#0c0c0c" opacity="0.55"/><circle cx="526.8" cy="399.9" r="1.1" fill="#0c0c0c" opacity="0.55"/><circle cx="520.5" cy="405.2" r="1.1" fill="#0c0c0c" opacity="0.55"/><circle cx="514.2" cy="410.5" r="1.1" fill="#0c0c0c" opacity="0.55"/><circle cx="507.8" cy="415.8" r="1.1" fill="#0c0c0c" opacity="0.55"/><circle cx="501.5" cy="421.2" r="1.1" fill="#0c0c0c" opacity="0.55"/><circle cx="495.1" cy="426.5" r="1.1" fill="#0c0c0c" opacity="0.55"/><circle cx="488.7" cy="431.8" r="1.1" fill="#0c0c0c" opacity="0.55"/><circle cx="482.4" cy="437.2" r="1.1" fill="#0c0c0c" opacity="0.55"/><circle cx="476" cy="442.5" r="1.1" fill="#0c0c0c" opacity="0.55"/><circle cx="469.6" cy="447.9" r="1.1" fill="#0c0c0c" opacity="0.55"/><circle cx="463.2" cy="453.2" r="1.1" fill="#0c0c0c" opacity="0.55"/><circle cx="456.8" cy="458.6" r="1.1" fill="#0c0c0c" opacity="0.55"/><circle cx="450.3" cy="464" r="1.1" fill="#0c0c0c" opacity="0.55"/><circle cx="443.9" cy="469.4" r="1.1" fill="#0c0c0c" opacity="0.55"/><circle cx="437.5" cy="474.8" r="1.1" fill="#0c0c0c" opacity="0.55"/><circle cx="431" cy="480.2" r="1.1" fill="#0c0c0c" opacity="0.55"/><circle cx="424.6" cy="485.6" r="1.1" fill="#0c0c0c" opacity="0.55"/><circle cx="418.1" cy="491" r="1.1" fill="#0c0c0c" opacity="0.55"/><circle cx="411.6" cy="496.4" r="1.1" fill="#0c0c0c" opacity="0.55"/><circle cx="405.1" cy="501.8" r="1.1" fill="#0c0c0c" opacity="0.55"/><circle cx="398.6" cy="507.3" r="1.1" fill="#0c0c0c" opacity="0.55"/><circle cx="392.1" cy="512.7" r="1.1" fill="#0c0c0c" opacity="0.55"/><circle cx="385.6" cy="518.2" r="1.1" fill="#0c0c0c" opacity="0.55"/><circle cx="379.1" cy="523.6" r="1.1" fill="#0c0c0c" opacity="0.55"/><circle cx="372.6" cy="529.1" r="1.1" fill="#0c0c0c" opacity="0.55"/><circle cx="366" cy="534.6" r="1.1" fill="#0c0c0c" opacity="0.55"/><circle cx="359.5" cy="540" r="1.1" fill="#0c0c0c" opacity="0.55"/><circle cx="545.7" cy="396.7" r="1.1" fill="#0c0c0c" opacity="0.55"/><circle cx="539.4" cy="402" r="1.1" fill="#0c0c0c" opacity="0.55"/><circle cx="533" cy="407.3" r="1.1" fill="#0c0c0c" opacity="0.55"/><circle cx="526.7" cy="412.6" r="1.1" fill="#0c0c0c" opacity="0.55"/><circle cx="520.4" cy="418" r="1.1" fill="#0c0c0c" opacity="0.55"/><circle cx="514" cy="423.3" r="1.1" fill="#0c0c0c" opacity="0.55"/><circle cx="507.7" cy="428.6" r="1.1" fill="#0c0c0c" opacity="0.55"/><circle cx="501.3" cy="434" r="1.1" fill="#0c0c0c" opacity="0.55"/><circle cx="494.9" cy="439.3" r="1.1" fill="#0c0c0c" opacity="0.55"/><circle cx="488.5" cy="444.7" r="1.1" fill="#0c0c0c" opacity="0.55"/><circle cx="482.1" cy="450" r="1.1" fill="#0c0c0c" opacity="0.55"/><circle cx="475.7" cy="455.4" r="1.1" fill="#0c0c0c" opacity="0.55"/><circle cx="469.3" cy="460.8" r="1.1" fill="#0c0c0c" opacity="0.55"/><circle cx="462.9" cy="466.1" r="1.1" fill="#0c0c0c" opacity="0.55"/><circle cx="456.5" cy="471.5" r="1.1" fill="#0c0c0c" opacity="0.55"/><circle cx="450" cy="476.9" r="1.1" fill="#0c0c0c" opacity="0.55"/><circle cx="443.6" cy="482.3" r="1.1" fill="#0c0c0c" opacity="0.55"/><circle cx="437.1" cy="487.8" r="1.1" fill="#0c0c0c" opacity="0.55"/><circle cx="430.7" cy="493.2" r="1.1" fill="#0c0c0c" opacity="0.55"/><circle cx="424.2" cy="498.6" r="1.1" fill="#0c0c0c" opacity="0.55"/><circle cx="417.7" cy="504" r="1.1" fill="#0c0c0c" opacity="0.55"/><circle cx="411.2" cy="509.5" r="1.1" fill="#0c0c0c" opacity="0.55"/><circle cx="404.7" cy="514.9" r="1.1" fill="#0c0c0c" opacity="0.55"/><circle cx="398.2" cy="520.4" r="1.1" fill="#0c0c0c" opacity="0.55"/><circle cx="391.7" cy="525.9" r="1.1" fill="#0c0c0c" opacity="0.55"/><circle cx="385.2" cy="531.3" r="1.1" fill="#0c0c0c" opacity="0.55"/><circle cx="378.6" cy="536.8" r="1.1" fill="#0c0c0c" opacity="0.55"/><circle cx="372.1" cy="542.3" r="1.1" fill="#0c0c0c" opacity="0.55"/><circle cx="558.3" cy="398.8" r="1.1" fill="#0c0c0c" opacity="0.55"/><circle cx="551.9" cy="404.1" r="1.1" fill="#0c0c0c" opacity="0.55"/><circle cx="545.6" cy="409.4" r="1.1" fill="#0c0c0c" opacity="0.55"/><circle cx="539.3" cy="414.7" r="1.1" fill="#0c0c0c" opacity="0.55"/><circle cx="532.9" cy="420.1" r="1.1" fill="#0c0c0c" opacity="0.55"/><circle cx="526.6" cy="425.4" r="1.1" fill="#0c0c0c" opacity="0.55"/><circle cx="520.2" cy="430.7" r="1.1" fill="#0c0c0c" opacity="0.55"/><circle cx="513.9" cy="436.1" r="1.1" fill="#0c0c0c" opacity="0.55"/><circle cx="507.5" cy="441.4" r="1.1" fill="#0c0c0c" opacity="0.55"/><circle cx="501.1" cy="446.8" r="1.1" fill="#0c0c0c" opacity="0.55"/><circle cx="494.7" cy="452.2" r="1.1" fill="#0c0c0c" opacity="0.55"/><circle cx="488.3" cy="457.5" r="1.1" fill="#0c0c0c" opacity="0.55"/><circle cx="481.9" cy="462.9" r="1.1" fill="#0c0c0c" opacity="0.55"/><circle cx="475.5" cy="468.3" r="1.1" fill="#0c0c0c" opacity="0.55"/><circle cx="469.1" cy="473.7" r="1.1" fill="#0c0c0c" opacity="0.55"/><circle cx="462.6" cy="479.1" r="1.1" fill="#0c0c0c" opacity="0.55"/><circle cx="456.2" cy="484.5" r="1.1" fill="#0c0c0c" opacity="0.55"/><circle cx="449.7" cy="490" r="1.1" fill="#0c0c0c" opacity="0.55"/><circle cx="443.3" cy="495.4" r="1.1" fill="#0c0c0c" opacity="0.55"/><circle cx="436.8" cy="500.8" r="1.1" fill="#0c0c0c" opacity="0.55"/><circle cx="430.3" cy="506.3" r="1.1" fill="#0c0c0c" opacity="0.55"/><circle cx="423.8" cy="511.7" r="1.1" fill="#0c0c0c" opacity="0.55"/><circle cx="417.3" cy="517.2" r="1.1" fill="#0c0c0c" opacity="0.55"/><circle cx="410.8" cy="522.7" r="1.1" fill="#0c0c0c" opacity="0.55"/><circle cx="404.3" cy="528.1" r="1.1" fill="#0c0c0c" opacity="0.55"/><circle cx="397.8" cy="533.6" r="1.1" fill="#0c0c0c" opacity="0.55"/><circle cx="391.2" cy="539.1" r="1.1" fill="#0c0c0c" opacity="0.55"/><circle cx="384.7" cy="544.6" r="1.1" fill="#0c0c0c" opacity="0.55"/><circle cx="570.8" cy="400.9" r="1.1" fill="#0c0c0c" opacity="0.55"/><circle cx="564.5" cy="406.2" r="1.1" fill="#0c0c0c" opacity="0.55"/><circle cx="558.2" cy="411.5" r="1.1" fill="#0c0c0c" opacity="0.55"/><circle cx="551.9" cy="416.8" r="1.1" fill="#0c0c0c" opacity="0.55"/><circle cx="545.6" cy="422.2" r="1.1" fill="#0c0c0c" opacity="0.55"/><circle cx="539.2" cy="427.5" r="1.1" fill="#0c0c0c" opacity="0.55"/><circle cx="532.8" cy="432.9" r="1.1" fill="#0c0c0c" opacity="0.55"/><circle cx="526.5" cy="438.2" r="1.1" fill="#0c0c0c" opacity="0.55"/><circle cx="520.1" cy="443.6" r="1.1" fill="#0c0c0c" opacity="0.55"/><circle cx="513.7" cy="449" r="1.1" fill="#0c0c0c" opacity="0.55"/><circle cx="507.3" cy="454.3" r="1.1" fill="#0c0c0c" opacity="0.55"/><circle cx="500.9" cy="459.7" r="1.1" fill="#0c0c0c" opacity="0.55"/><circle cx="494.5" cy="465.1" r="1.1" fill="#0c0c0c" opacity="0.55"/><circle cx="488.1" cy="470.5" r="1.1" fill="#0c0c0c" opacity="0.55"/><circle cx="481.7" cy="475.9" r="1.1" fill="#0c0c0c" opacity="0.55"/><circle cx="475.3" cy="481.3" r="1.1" fill="#0c0c0c" opacity="0.55"/><circle cx="468.8" cy="486.7" r="1.1" fill="#0c0c0c" opacity="0.55"/><circle cx="462.4" cy="492.2" r="1.1" fill="#0c0c0c" opacity="0.55"/><circle cx="455.9" cy="497.6" r="1.1" fill="#0c0c0c" opacity="0.55"/><circle cx="449.4" cy="503.1" r="1.1" fill="#0c0c0c" opacity="0.55"/><circle cx="442.9" cy="508.5" r="1.1" fill="#0c0c0c" opacity="0.55"/><circle cx="436.5" cy="514" r="1.1" fill="#0c0c0c" opacity="0.55"/><circle cx="430" cy="519.4" r="1.1" fill="#0c0c0c" opacity="0.55"/><circle cx="423.5" cy="524.9" r="1.1" fill="#0c0c0c" opacity="0.55"/><circle cx="416.9" cy="530.4" r="1.1" fill="#0c0c0c" opacity="0.55"/><circle cx="410.4" cy="535.9" r="1.1" fill="#0c0c0c" opacity="0.55"/><circle cx="403.9" cy="541.4" r="1.1" fill="#0c0c0c" opacity="0.55"/><circle cx="397.3" cy="546.9" r="1.1" fill="#0c0c0c" opacity="0.55"/><circle cx="583.5" cy="403" r="1.1" fill="#0c0c0c" opacity="0.55"/><circle cx="577.2" cy="408.3" r="1.1" fill="#0c0c0c" opacity="0.55"/><circle cx="570.8" cy="413.6" r="1.1" fill="#0c0c0c" opacity="0.55"/><circle cx="564.5" cy="419" r="1.1" fill="#0c0c0c" opacity="0.55"/><circle cx="558.2" cy="424.3" r="1.1" fill="#0c0c0c" opacity="0.55"/><circle cx="551.8" cy="429.6" r="1.1" fill="#0c0c0c" opacity="0.55"/><circle cx="545.5" cy="435" r="1.1" fill="#0c0c0c" opacity="0.55"/><circle cx="539.1" cy="440.4" r="1.1" fill="#0c0c0c" opacity="0.55"/><circle cx="532.7" cy="445.7" r="1.1" fill="#0c0c0c" opacity="0.55"/><circle cx="526.4" cy="451.1" r="1.1" fill="#0c0c0c" opacity="0.55"/><circle cx="520" cy="456.5" r="1.1" fill="#0c0c0c" opacity="0.55"/><circle cx="513.6" cy="461.9" r="1.1" fill="#0c0c0c" opacity="0.55"/><circle cx="507.2" cy="467.3" r="1.1" fill="#0c0c0c" opacity="0.55"/><circle cx="500.8" cy="472.7" r="1.1" fill="#0c0c0c" opacity="0.55"/><circle cx="494.3" cy="478.1" r="1.1" fill="#0c0c0c" opacity="0.55"/><circle cx="487.9" cy="483.5" r="1.1" fill="#0c0c0c" opacity="0.55"/><circle cx="481.5" cy="488.9" r="1.1" fill="#0c0c0c" opacity="0.55"/><circle cx="475" cy="494.4" r="1.1" fill="#0c0c0c" opacity="0.55"/><circle cx="468.6" cy="499.8" r="1.1" fill="#0c0c0c" opacity="0.55"/><circle cx="462.1" cy="505.3" r="1.1" fill="#0c0c0c" opacity="0.55"/><circle cx="455.6" cy="510.7" r="1.1" fill="#0c0c0c" opacity="0.55"/><circle cx="449.1" cy="516.2" r="1.1" fill="#0c0c0c" opacity="0.55"/><circle cx="442.6" cy="521.7" r="1.1" fill="#0c0c0c" opacity="0.55"/><circle cx="436.1" cy="527.2" r="1.1" fill="#0c0c0c" opacity="0.55"/><circle cx="429.6" cy="532.7" r="1.1" fill="#0c0c0c" opacity="0.55"/><circle cx="423.1" cy="538.2" r="1.1" fill="#0c0c0c" opacity="0.55"/><circle cx="416.5" cy="543.7" r="1.1" fill="#0c0c0c" opacity="0.55"/><circle cx="410" cy="549.2" r="1.1" fill="#0c0c0c" opacity="0.55"/><circle cx="596.1" cy="405.1" r="1.1" fill="#0c0c0c" opacity="0.55"/><circle cx="589.8" cy="410.4" r="1.1" fill="#0c0c0c" opacity="0.55"/><circle cx="583.5" cy="415.7" r="1.1" fill="#0c0c0c" opacity="0.55"/><circle cx="577.2" cy="421.1" r="1.1" fill="#0c0c0c" opacity="0.55"/><circle cx="570.8" cy="426.4" r="1.1" fill="#0c0c0c" opacity="0.55"/><circle cx="564.5" cy="431.8" r="1.1" fill="#0c0c0c" opacity="0.55"/><circle cx="558.1" cy="437.1" r="1.1" fill="#0c0c0c" opacity="0.55"/><circle cx="551.8" cy="442.5" r="1.1" fill="#0c0c0c" opacity="0.55"/><circle cx="545.4" cy="447.9" r="1.1" fill="#0c0c0c" opacity="0.55"/><circle cx="539" cy="453.3" r="1.1" fill="#0c0c0c" opacity="0.55"/><circle cx="532.6" cy="458.7" r="1.1" fill="#0c0c0c" opacity="0.55"/><circle cx="526.3" cy="464.1" r="1.1" fill="#0c0c0c" opacity="0.55"/><circle cx="519.8" cy="469.5" r="1.1" fill="#0c0c0c" opacity="0.55"/><circle cx="513.4" cy="474.9" r="1.1" fill="#0c0c0c" opacity="0.55"/><circle cx="507" cy="480.3" r="1.1" fill="#0c0c0c" opacity="0.55"/><circle cx="500.6" cy="485.7" r="1.1" fill="#0c0c0c" opacity="0.55"/><circle cx="494.1" cy="491.2" r="1.1" fill="#0c0c0c" opacity="0.55"/><circle cx="487.7" cy="496.6" r="1.1" fill="#0c0c0c" opacity="0.55"/><circle cx="481.2" cy="502.1" r="1.1" fill="#0c0c0c" opacity="0.55"/><circle cx="474.8" cy="507.5" r="1.1" fill="#0c0c0c" opacity="0.55"/><circle cx="468.3" cy="513" r="1.1" fill="#0c0c0c" opacity="0.55"/><circle cx="461.8" cy="518.5" r="1.1" fill="#0c0c0c" opacity="0.55"/><circle cx="455.3" cy="523.9" r="1.1" fill="#0c0c0c" opacity="0.55"/><circle cx="448.8" cy="529.4" r="1.1" fill="#0c0c0c" opacity="0.55"/><circle cx="442.3" cy="534.9" r="1.1" fill="#0c0c0c" opacity="0.55"/><circle cx="435.8" cy="540.4" r="1.1" fill="#0c0c0c" opacity="0.55"/><circle cx="429.2" cy="545.9" r="1.1" fill="#0c0c0c" opacity="0.55"/><circle cx="422.7" cy="551.5" r="1.1" fill="#0c0c0c" opacity="0.55"/><circle cx="608.8" cy="407.2" r="1.1" fill="#0c0c0c" opacity="0.55"/><circle cx="602.5" cy="412.5" r="1.1" fill="#0c0c0c" opacity="0.55"/><circle cx="596.2" cy="417.9" r="1.1" fill="#0c0c0c" opacity="0.55"/><circle cx="589.8" cy="423.2" r="1.1" fill="#0c0c0c" opacity="0.55"/><circle cx="583.5" cy="428.5" r="1.1" fill="#0c0c0c" opacity="0.55"/><circle cx="577.2" cy="433.9" r="1.1" fill="#0c0c0c" opacity="0.55"/><circle cx="570.8" cy="439.3" r="1.1" fill="#0c0c0c" opacity="0.55"/><circle cx="564.5" cy="444.7" r="1.1" fill="#0c0c0c" opacity="0.55"/><circle cx="558.1" cy="450" r="1.1" fill="#0c0c0c" opacity="0.55"/><circle cx="551.7" cy="455.4" r="1.1" fill="#0c0c0c" opacity="0.55"/><circle cx="545.3" cy="460.8" r="1.1" fill="#0c0c0c" opacity="0.55"/><circle cx="538.9" cy="466.2" r="1.1" fill="#0c0c0c" opacity="0.55"/><circle cx="532.5" cy="471.6" r="1.1" fill="#0c0c0c" opacity="0.55"/><circle cx="526.1" cy="477.1" r="1.1" fill="#0c0c0c" opacity="0.55"/><circle cx="519.7" cy="482.5" r="1.1" fill="#0c0c0c" opacity="0.55"/><circle cx="513.3" cy="487.9" r="1.1" fill="#0c0c0c" opacity="0.55"/><circle cx="506.8" cy="493.4" r="1.1" fill="#0c0c0c" opacity="0.55"/><circle cx="500.4" cy="498.8" r="1.1" fill="#0c0c0c" opacity="0.55"/><circle cx="493.9" cy="504.3" r="1.1" fill="#0c0c0c" opacity="0.55"/><circle cx="487.5" cy="509.7" r="1.1" fill="#0c0c0c" opacity="0.55"/><circle cx="481" cy="515.2" r="1.1" fill="#0c0c0c" opacity="0.55"/><circle cx="474.5" cy="520.7" r="1.1" fill="#0c0c0c" opacity="0.55"/><circle cx="468" cy="526.2" r="1.1" fill="#0c0c0c" opacity="0.55"/><circle cx="461.5" cy="531.7" r="1.1" fill="#0c0c0c" opacity="0.55"/><circle cx="455" cy="537.2" r="1.1" fill="#0c0c0c" opacity="0.55"/><circle cx="448.5" cy="542.7" r="1.1" fill="#0c0c0c" opacity="0.55"/><circle cx="442" cy="548.2" r="1.1" fill="#0c0c0c" opacity="0.55"/><circle cx="435.4" cy="553.8" r="1.1" fill="#0c0c0c" opacity="0.55"/><circle cx="621.5" cy="409.3" r="1.1" fill="#0c0c0c" opacity="0.55"/><circle cx="615.2" cy="414.6" r="1.1" fill="#0c0c0c" opacity="0.55"/><circle cx="608.9" cy="420" r="1.1" fill="#0c0c0c" opacity="0.55"/><circle cx="602.6" cy="425.3" r="1.1" fill="#0c0c0c" opacity="0.55"/><circle cx="596.2" cy="430.7" r="1.1" fill="#0c0c0c" opacity="0.55"/><circle cx="589.9" cy="436.1" r="1.1" fill="#0c0c0c" opacity="0.55"/><circle cx="583.5" cy="441.4" r="1.1" fill="#0c0c0c" opacity="0.55"/><circle cx="577.2" cy="446.8" r="1.1" fill="#0c0c0c" opacity="0.55"/><circle cx="570.8" cy="452.2" r="1.1" fill="#0c0c0c" opacity="0.55"/><circle cx="564.4" cy="457.6" r="1.1" fill="#0c0c0c" opacity="0.55"/><circle cx="558.1" cy="463" r="1.1" fill="#0c0c0c" opacity="0.55"/><circle cx="551.7" cy="468.4" r="1.1" fill="#0c0c0c" opacity="0.55"/><circle cx="545.3" cy="473.8" r="1.1" fill="#0c0c0c" opacity="0.55"/><circle cx="538.9" cy="479.3" r="1.1" fill="#0c0c0c" opacity="0.55"/><circle cx="532.4" cy="484.7" r="1.1" fill="#0c0c0c" opacity="0.55"/><circle cx="526" cy="490.1" r="1.1" fill="#0c0c0c" opacity="0.55"/><circle cx="519.6" cy="495.6" r="1.1" fill="#0c0c0c" opacity="0.55"/><circle cx="513.1" cy="501.1" r="1.1" fill="#0c0c0c" opacity="0.55"/><circle cx="506.7" cy="506.5" r="1.1" fill="#0c0c0c" opacity="0.55"/><circle cx="500.2" cy="512" r="1.1" fill="#0c0c0c" opacity="0.55"/><circle cx="493.7" cy="517.5" r="1.1" fill="#0c0c0c" opacity="0.55"/><circle cx="487.3" cy="523" r="1.1" fill="#0c0c0c" opacity="0.55"/><circle cx="480.8" cy="528.5" r="1.1" fill="#0c0c0c" opacity="0.55"/><circle cx="474.3" cy="534" r="1.1" fill="#0c0c0c" opacity="0.55"/><circle cx="467.8" cy="539.5" r="1.1" fill="#0c0c0c" opacity="0.55"/><circle cx="461.3" cy="545" r="1.1" fill="#0c0c0c" opacity="0.55"/><circle cx="454.7" cy="550.5" r="1.1" fill="#0c0c0c" opacity="0.55"/><circle cx="448.2" cy="556.1" r="1.1" fill="#0c0c0c" opacity="0.55"/><circle cx="634.2" cy="411.4" r="1.1" fill="#0c0c0c" opacity="0.55"/><circle cx="627.9" cy="416.7" r="1.1" fill="#0c0c0c" opacity="0.55"/><circle cx="621.6" cy="422.1" r="1.1" fill="#0c0c0c" opacity="0.55"/><circle cx="615.3" cy="427.5" r="1.1" fill="#0c0c0c" opacity="0.55"/><circle cx="609" cy="432.8" r="1.1" fill="#0c0c0c" opacity="0.55"/><circle cx="602.6" cy="438.2" r="1.1" fill="#0c0c0c" opacity="0.55"/><circle cx="596.3" cy="443.6" r="1.1" fill="#0c0c0c" opacity="0.55"/><circle cx="589.9" cy="449" r="1.1" fill="#0c0c0c" opacity="0.55"/><circle cx="583.6" cy="454.4" r="1.1" fill="#0c0c0c" opacity="0.55"/><circle cx="577.2" cy="459.8" r="1.1" fill="#0c0c0c" opacity="0.55"/><circle cx="570.8" cy="465.2" r="1.1" fill="#0c0c0c" opacity="0.55"/><circle cx="564.4" cy="470.6" r="1.1" fill="#0c0c0c" opacity="0.55"/><circle cx="558" cy="476" r="1.1" fill="#0c0c0c" opacity="0.55"/><circle cx="551.6" cy="481.5" r="1.1" fill="#0c0c0c" opacity="0.55"/><circle cx="545.2" cy="486.9" r="1.1" fill="#0c0c0c" opacity="0.55"/><circle cx="538.8" cy="492.4" r="1.1" fill="#0c0c0c" opacity="0.55"/><circle cx="532.3" cy="497.8" r="1.1" fill="#0c0c0c" opacity="0.55"/><circle cx="525.9" cy="503.3" r="1.1" fill="#0c0c0c" opacity="0.55"/><circle cx="519.4" cy="508.8" r="1.1" fill="#0c0c0c" opacity="0.55"/><circle cx="513" cy="514.2" r="1.1" fill="#0c0c0c" opacity="0.55"/><circle cx="506.5" cy="519.7" r="1.1" fill="#0c0c0c" opacity="0.55"/><circle cx="500" cy="525.2" r="1.1" fill="#0c0c0c" opacity="0.55"/><circle cx="493.5" cy="530.7" r="1.1" fill="#0c0c0c" opacity="0.55"/><circle cx="487.1" cy="536.2" r="1.1" fill="#0c0c0c" opacity="0.55"/><circle cx="480.5" cy="541.8" r="1.1" fill="#0c0c0c" opacity="0.55"/><circle cx="474" cy="547.3" r="1.1" fill="#0c0c0c" opacity="0.55"/><circle cx="467.5" cy="552.8" r="1.1" fill="#0c0c0c" opacity="0.55"/><circle cx="461" cy="558.4" r="1.1" fill="#0c0c0c" opacity="0.55"/><circle cx="647" cy="413.5" r="1.1" fill="#0c0c0c" opacity="0.55"/><circle cx="640.7" cy="418.9" r="1.1" fill="#0c0c0c" opacity="0.55"/><circle cx="634.4" cy="424.2" r="1.1" fill="#0c0c0c" opacity="0.55"/><circle cx="628" cy="429.6" r="1.1" fill="#0c0c0c" opacity="0.55"/><circle cx="621.7" cy="435" r="1.1" fill="#0c0c0c" opacity="0.55"/><circle cx="615.4" cy="440.3" r="1.1" fill="#0c0c0c" opacity="0.55"/><circle cx="609" cy="445.7" r="1.1" fill="#0c0c0c" opacity="0.55"/><circle cx="602.7" cy="451.1" r="1.1" fill="#0c0c0c" opacity="0.55"/><circle cx="596.3" cy="456.5" r="1.1" fill="#0c0c0c" opacity="0.55"/><circle cx="590" cy="461.9" r="1.1" fill="#0c0c0c" opacity="0.55"/><circle cx="583.6" cy="467.4" r="1.1" fill="#0c0c0c" opacity="0.55"/><circle cx="577.2" cy="472.8" r="1.1" fill="#0c0c0c" opacity="0.55"/><circle cx="570.8" cy="478.2" r="1.1" fill="#0c0c0c" opacity="0.55"/><circle cx="564.4" cy="483.7" r="1.1" fill="#0c0c0c" opacity="0.55"/><circle cx="558" cy="489.1" r="1.1" fill="#0c0c0c" opacity="0.55"/><circle cx="551.6" cy="494.6" r="1.1" fill="#0c0c0c" opacity="0.55"/><circle cx="545.1" cy="500" r="1.1" fill="#0c0c0c" opacity="0.55"/><circle cx="538.7" cy="505.5" r="1.1" fill="#0c0c0c" opacity="0.55"/><circle cx="532.2" cy="511" r="1.1" fill="#0c0c0c" opacity="0.55"/><circle cx="525.8" cy="516.5" r="1.1" fill="#0c0c0c" opacity="0.55"/><circle cx="519.3" cy="522" r="1.1" fill="#0c0c0c" opacity="0.55"/><circle cx="512.8" cy="527.5" r="1.1" fill="#0c0c0c" opacity="0.55"/><circle cx="506.3" cy="533" r="1.1" fill="#0c0c0c" opacity="0.55"/><circle cx="499.9" cy="538.5" r="1.1" fill="#0c0c0c" opacity="0.55"/><circle cx="493.3" cy="544" r="1.1" fill="#0c0c0c" opacity="0.55"/><circle cx="486.8" cy="549.6" r="1.1" fill="#0c0c0c" opacity="0.55"/><circle cx="480.3" cy="555.1" r="1.1" fill="#0c0c0c" opacity="0.55"/><circle cx="473.8" cy="560.7" r="1.1" fill="#0c0c0c" opacity="0.55"/><circle cx="659.8" cy="415.6" r="1.1" fill="#0c0c0c" opacity="0.55"/><circle cx="653.5" cy="421" r="1.1" fill="#0c0c0c" opacity="0.55"/><circle cx="647.2" cy="426.4" r="1.1" fill="#0c0c0c" opacity="0.55"/><circle cx="640.8" cy="431.7" r="1.1" fill="#0c0c0c" opacity="0.55"/><circle cx="634.5" cy="437.1" r="1.1" fill="#0c0c0c" opacity="0.55"/><circle cx="628.2" cy="442.5" r="1.1" fill="#0c0c0c" opacity="0.55"/><circle cx="621.8" cy="447.9" r="1.1" fill="#0c0c0c" opacity="0.55"/><circle cx="615.5" cy="453.3" r="1.1" fill="#0c0c0c" opacity="0.55"/><circle cx="609.1" cy="458.7" r="1.1" fill="#0c0c0c" opacity="0.55"/><circle cx="602.8" cy="464.1" r="1.1" fill="#0c0c0c" opacity="0.55"/><circle cx="596.4" cy="469.6" r="1.1" fill="#0c0c0c" opacity="0.55"/><circle cx="590" cy="475" r="1.1" fill="#0c0c0c" opacity="0.55"/><circle cx="583.6" cy="480.4" r="1.1" fill="#0c0c0c" opacity="0.55"/><circle cx="577.2" cy="485.9" r="1.1" fill="#0c0c0c" opacity="0.55"/><circle cx="570.8" cy="491.3" r="1.1" fill="#0c0c0c" opacity="0.55"/><circle cx="564.4" cy="496.8" r="1.1" fill="#0c0c0c" opacity="0.55"/><circle cx="557.9" cy="502.3" r="1.1" fill="#0c0c0c" opacity="0.55"/><circle cx="551.5" cy="507.8" r="1.1" fill="#0c0c0c" opacity="0.55"/><circle cx="545.1" cy="513.2" r="1.1" fill="#0c0c0c" opacity="0.55"/><circle cx="538.6" cy="518.7" r="1.1" fill="#0c0c0c" opacity="0.55"/><circle cx="532.1" cy="524.2" r="1.1" fill="#0c0c0c" opacity="0.55"/><circle cx="525.7" cy="529.8" r="1.1" fill="#0c0c0c" opacity="0.55"/><circle cx="519.2" cy="535.3" r="1.1" fill="#0c0c0c" opacity="0.55"/><circle cx="512.7" cy="540.8" r="1.1" fill="#0c0c0c" opacity="0.55"/><circle cx="506.2" cy="546.3" r="1.1" fill="#0c0c0c" opacity="0.55"/><circle cx="499.7" cy="551.9" r="1.1" fill="#0c0c0c" opacity="0.55"/><circle cx="493.1" cy="557.4" r="1.1" fill="#0c0c0c" opacity="0.55"/><circle cx="486.6" cy="563" r="1.1" fill="#0c0c0c" opacity="0.55"/><circle cx="672.6" cy="417.7" r="1.1" fill="#0c0c0c" opacity="0.55"/><circle cx="666.3" cy="423.1" r="1.1" fill="#0c0c0c" opacity="0.55"/><circle cx="660" cy="428.5" r="1.1" fill="#0c0c0c" opacity="0.55"/><circle cx="653.7" cy="433.9" r="1.1" fill="#0c0c0c" opacity="0.55"/><circle cx="647.3" cy="439.3" r="1.1" fill="#0c0c0c" opacity="0.55"/><circle cx="641" cy="444.7" r="1.1" fill="#0c0c0c" opacity="0.55"/><circle cx="634.7" cy="450.1" r="1.1" fill="#0c0c0c" opacity="0.55"/><circle cx="628.3" cy="455.5" r="1.1" fill="#0c0c0c" opacity="0.55"/><circle cx="622" cy="460.9" r="1.1" fill="#0c0c0c" opacity="0.55"/><circle cx="615.6" cy="466.3" r="1.1" fill="#0c0c0c" opacity="0.55"/><circle cx="609.2" cy="471.8" r="1.1" fill="#0c0c0c" opacity="0.55"/><circle cx="602.8" cy="477.2" r="1.1" fill="#0c0c0c" opacity="0.55"/><circle cx="596.4" cy="482.6" r="1.1" fill="#0c0c0c" opacity="0.55"/><circle cx="590" cy="488.1" r="1.1" fill="#0c0c0c" opacity="0.55"/><circle cx="583.6" cy="493.6" r="1.1" fill="#0c0c0c" opacity="0.55"/><circle cx="577.2" cy="499" r="1.1" fill="#0c0c0c" opacity="0.55"/><circle cx="570.8" cy="504.5" r="1.1" fill="#0c0c0c" opacity="0.55"/><circle cx="564.4" cy="510" r="1.1" fill="#0c0c0c" opacity="0.55"/><circle cx="557.9" cy="515.5" r="1.1" fill="#0c0c0c" opacity="0.55"/><circle cx="551.5" cy="521" r="1.1" fill="#0c0c0c" opacity="0.55"/><circle cx="545" cy="526.5" r="1.1" fill="#0c0c0c" opacity="0.55"/><circle cx="538.5" cy="532" r="1.1" fill="#0c0c0c" opacity="0.55"/><circle cx="532" cy="537.6" r="1.1" fill="#0c0c0c" opacity="0.55"/><circle cx="525.5" cy="543.1" r="1.1" fill="#0c0c0c" opacity="0.55"/><circle cx="519" cy="548.6" r="1.1" fill="#0c0c0c" opacity="0.55"/><circle cx="512.5" cy="554.2" r="1.1" fill="#0c0c0c" opacity="0.55"/><circle cx="506" cy="559.8" r="1.1" fill="#0c0c0c" opacity="0.55"/><circle cx="499.5" cy="565.3" r="1.1" fill="#0c0c0c" opacity="0.55"/><circle cx="685.4" cy="419.9" r="1.1" fill="#0c0c0c" opacity="0.55"/><circle cx="679.1" cy="425.2" r="1.1" fill="#0c0c0c" opacity="0.55"/><circle cx="672.8" cy="430.6" r="1.1" fill="#0c0c0c" opacity="0.55"/><circle cx="666.5" cy="436" r="1.1" fill="#0c0c0c" opacity="0.55"/><circle cx="660.2" cy="441.4" r="1.1" fill="#0c0c0c" opacity="0.55"/><circle cx="653.8" cy="446.8" r="1.1" fill="#0c0c0c" opacity="0.55"/><circle cx="647.5" cy="452.2" r="1.1" fill="#0c0c0c" opacity="0.55"/><circle cx="641.2" cy="457.6" r="1.1" fill="#0c0c0c" opacity="0.55"/><circle cx="634.8" cy="463.1" r="1.1" fill="#0c0c0c" opacity="0.55"/><circle cx="628.4" cy="468.5" r="1.1" fill="#0c0c0c" opacity="0.55"/><circle cx="622.1" cy="474" r="1.1" fill="#0c0c0c" opacity="0.55"/><circle cx="615.7" cy="479.4" r="1.1" fill="#0c0c0c" opacity="0.55"/><circle cx="609.3" cy="484.9" r="1.1" fill="#0c0c0c" opacity="0.55"/><circle cx="602.9" cy="490.3" r="1.1" fill="#0c0c0c" opacity="0.55"/><circle cx="596.5" cy="495.8" r="1.1" fill="#0c0c0c" opacity="0.55"/><circle cx="590.1" cy="501.3" r="1.1" fill="#0c0c0c" opacity="0.55"/><circle cx="583.7" cy="506.8" r="1.1" fill="#0c0c0c" opacity="0.55"/><circle cx="577.2" cy="512.3" r="1.1" fill="#0c0c0c" opacity="0.55"/><circle cx="570.8" cy="517.8" r="1.1" fill="#0c0c0c" opacity="0.55"/><circle cx="564.3" cy="523.3" r="1.1" fill="#0c0c0c" opacity="0.55"/><circle cx="557.9" cy="528.8" r="1.1" fill="#0c0c0c" opacity="0.55"/><circle cx="551.4" cy="534.3" r="1.1" fill="#0c0c0c" opacity="0.55"/><circle cx="544.9" cy="539.9" r="1.1" fill="#0c0c0c" opacity="0.55"/><circle cx="538.4" cy="545.4" r="1.1" fill="#0c0c0c" opacity="0.55"/><circle cx="531.9" cy="550.9" r="1.1" fill="#0c0c0c" opacity="0.55"/><circle cx="525.4" cy="556.5" r="1.1" fill="#0c0c0c" opacity="0.55"/><circle cx="518.9" cy="562.1" r="1.1" fill="#0c0c0c" opacity="0.55"/><circle cx="512.4" cy="567.6" r="1.1" fill="#0c0c0c" opacity="0.55"/><circle cx="698.3" cy="422" r="1.1" fill="#0c0c0c" opacity="0.55"/><circle cx="692" cy="427.4" r="1.1" fill="#0c0c0c" opacity="0.55"/><circle cx="685.7" cy="432.8" r="1.1" fill="#0c0c0c" opacity="0.55"/><circle cx="679.4" cy="438.2" r="1.1" fill="#0c0c0c" opacity="0.55"/><circle cx="673" cy="443.6" r="1.1" fill="#0c0c0c" opacity="0.55"/><circle cx="666.7" cy="449" r="1.1" fill="#0c0c0c" opacity="0.55"/><circle cx="660.4" cy="454.4" r="1.1" fill="#0c0c0c" opacity="0.55"/><circle cx="654" cy="459.8" r="1.1" fill="#0c0c0c" opacity="0.55"/><circle cx="647.7" cy="465.3" r="1.1" fill="#0c0c0c" opacity="0.55"/><circle cx="641.3" cy="470.7" r="1.1" fill="#0c0c0c" opacity="0.55"/><circle cx="635" cy="476.2" r="1.1" fill="#0c0c0c" opacity="0.55"/><circle cx="628.6" cy="481.6" r="1.1" fill="#0c0c0c" opacity="0.55"/><circle cx="622.2" cy="487.1" r="1.1" fill="#0c0c0c" opacity="0.55"/><circle cx="615.8" cy="492.5" r="1.1" fill="#0c0c0c" opacity="0.55"/><circle cx="609.4" cy="498" r="1.1" fill="#0c0c0c" opacity="0.55"/><circle cx="603" cy="503.5" r="1.1" fill="#0c0c0c" opacity="0.55"/><circle cx="596.6" cy="509" r="1.1" fill="#0c0c0c" opacity="0.55"/><circle cx="590.1" cy="514.5" r="1.1" fill="#0c0c0c" opacity="0.55"/><circle cx="583.7" cy="520" r="1.1" fill="#0c0c0c" opacity="0.55"/><circle cx="577.2" cy="525.5" r="1.1" fill="#0c0c0c" opacity="0.55"/><circle cx="570.8" cy="531.1" r="1.1" fill="#0c0c0c" opacity="0.55"/><circle cx="564.3" cy="536.6" r="1.1" fill="#0c0c0c" opacity="0.55"/><circle cx="557.8" cy="542.1" r="1.1" fill="#0c0c0c" opacity="0.55"/><circle cx="551.3" cy="547.7" r="1.1" fill="#0c0c0c" opacity="0.55"/><circle cx="544.8" cy="553.3" r="1.1" fill="#0c0c0c" opacity="0.55"/><circle cx="538.3" cy="558.8" r="1.1" fill="#0c0c0c" opacity="0.55"/><circle cx="531.8" cy="564.4" r="1.1" fill="#0c0c0c" opacity="0.55"/><circle cx="525.3" cy="570" r="1.1" fill="#0c0c0c" opacity="0.55"/><circle cx="711.1" cy="424.1" r="1.1" fill="#0c0c0c" opacity="0.55"/><circle cx="704.9" cy="429.5" r="1.1" fill="#0c0c0c" opacity="0.55"/><circle cx="698.6" cy="434.9" r="1.1" fill="#0c0c0c" opacity="0.55"/><circle cx="692.3" cy="440.3" r="1.1" fill="#0c0c0c" opacity="0.55"/><circle cx="685.9" cy="445.7" r="1.1" fill="#0c0c0c" opacity="0.55"/><circle cx="679.6" cy="451.2" r="1.1" fill="#0c0c0c" opacity="0.55"/><circle cx="673.3" cy="456.6" r="1.1" fill="#0c0c0c" opacity="0.55"/><circle cx="667" cy="462" r="1.1" fill="#0c0c0c" opacity="0.55"/><circle cx="660.6" cy="467.5" r="1.1" fill="#0c0c0c" opacity="0.55"/><circle cx="654.2" cy="472.9" r="1.1" fill="#0c0c0c" opacity="0.55"/><circle cx="647.9" cy="478.4" r="1.1" fill="#0c0c0c" opacity="0.55"/><circle cx="641.5" cy="483.8" r="1.1" fill="#0c0c0c" opacity="0.55"/><circle cx="635.1" cy="489.3" r="1.1" fill="#0c0c0c" opacity="0.55"/><circle cx="628.7" cy="494.8" r="1.1" fill="#0c0c0c" opacity="0.55"/><circle cx="622.3" cy="500.3" r="1.1" fill="#0c0c0c" opacity="0.55"/><circle cx="615.9" cy="505.8" r="1.1" fill="#0c0c0c" opacity="0.55"/><circle cx="609.5" cy="511.3" r="1.1" fill="#0c0c0c" opacity="0.55"/><circle cx="603.1" cy="516.8" r="1.1" fill="#0c0c0c" opacity="0.55"/><circle cx="596.6" cy="522.3" r="1.1" fill="#0c0c0c" opacity="0.55"/><circle cx="590.2" cy="527.8" r="1.1" fill="#0c0c0c" opacity="0.55"/><circle cx="583.7" cy="533.4" r="1.1" fill="#0c0c0c" opacity="0.55"/><circle cx="577.2" cy="538.9" r="1.1" fill="#0c0c0c" opacity="0.55"/><circle cx="570.8" cy="544.4" r="1.1" fill="#0c0c0c" opacity="0.55"/><circle cx="564.3" cy="550" r="1.1" fill="#0c0c0c" opacity="0.55"/><circle cx="557.8" cy="555.6" r="1.1" fill="#0c0c0c" opacity="0.55"/><circle cx="551.3" cy="561.1" r="1.1" fill="#0c0c0c" opacity="0.55"/><circle cx="544.8" cy="566.7" r="1.1" fill="#0c0c0c" opacity="0.55"/><circle cx="538.2" cy="572.3" r="1.1" fill="#0c0c0c" opacity="0.55"/><circle cx="724.1" cy="426.3" r="1.1" fill="#0c0c0c" opacity="0.55"/><circle cx="717.8" cy="431.7" r="1.1" fill="#0c0c0c" opacity="0.55"/><circle cx="711.5" cy="437.1" r="1.1" fill="#0c0c0c" opacity="0.55"/><circle cx="705.2" cy="442.5" r="1.1" fill="#0c0c0c" opacity="0.55"/><circle cx="698.9" cy="447.9" r="1.1" fill="#0c0c0c" opacity="0.55"/><circle cx="692.6" cy="453.3" r="1.1" fill="#0c0c0c" opacity="0.55"/><circle cx="686.2" cy="458.8" r="1.1" fill="#0c0c0c" opacity="0.55"/><circle cx="679.9" cy="464.2" r="1.1" fill="#0c0c0c" opacity="0.55"/><circle cx="673.5" cy="469.7" r="1.1" fill="#0c0c0c" opacity="0.55"/><circle cx="667.2" cy="475.1" r="1.1" fill="#0c0c0c" opacity="0.55"/><circle cx="660.8" cy="480.6" r="1.1" fill="#0c0c0c" opacity="0.55"/><circle cx="654.4" cy="486" r="1.1" fill="#0c0c0c" opacity="0.55"/><circle cx="648.1" cy="491.5" r="1.1" fill="#0c0c0c" opacity="0.55"/><circle cx="641.7" cy="497" r="1.1" fill="#0c0c0c" opacity="0.55"/><circle cx="635.3" cy="502.5" r="1.1" fill="#0c0c0c" opacity="0.55"/><circle cx="628.9" cy="508" r="1.1" fill="#0c0c0c" opacity="0.55"/><circle cx="622.4" cy="513.5" r="1.1" fill="#0c0c0c" opacity="0.55"/><circle cx="616" cy="519" r="1.1" fill="#0c0c0c" opacity="0.55"/><circle cx="609.6" cy="524.6" r="1.1" fill="#0c0c0c" opacity="0.55"/><circle cx="603.1" cy="530.1" r="1.1" fill="#0c0c0c" opacity="0.55"/><circle cx="596.7" cy="535.6" r="1.1" fill="#0c0c0c" opacity="0.55"/><circle cx="590.2" cy="541.2" r="1.1" fill="#0c0c0c" opacity="0.55"/><circle cx="583.7" cy="546.7" r="1.1" fill="#0c0c0c" opacity="0.55"/><circle cx="577.3" cy="552.3" r="1.1" fill="#0c0c0c" opacity="0.55"/><circle cx="570.8" cy="557.9" r="1.1" fill="#0c0c0c" opacity="0.55"/><circle cx="564.3" cy="563.5" r="1.1" fill="#0c0c0c" opacity="0.55"/><circle cx="557.7" cy="569.1" r="1.1" fill="#0c0c0c" opacity="0.55"/><circle cx="551.2" cy="574.7" r="1.1" fill="#0c0c0c" opacity="0.55"/><line x1="398.1" y1="366.8" x2="211.7" y2="520.1" stroke="#080808" stroke-width="2.4" opacity="0.6"/>
<line x1="400.8" y1="367.3" x2="214.4" y2="520.6" stroke="#a8a8a8" stroke-width="0.9" opacity="0.35"/>
<line x1="459.6" y1="377" x2="273.4" y2="531.3" stroke="#080808" stroke-width="2.4" opacity="0.6"/>
<line x1="462.4" y1="377.4" x2="276.2" y2="531.8" stroke="#a8a8a8" stroke-width="0.9" opacity="0.35"/>
<line x1="521.7" y1="387.3" x2="335.8" y2="542.6" stroke="#080808" stroke-width="2.4" opacity="0.6"/>
<line x1="524.5" y1="387.7" x2="338.6" y2="543.1" stroke="#a8a8a8" stroke-width="0.9" opacity="0.35"/>
<line x1="584.5" y1="397.6" x2="398.9" y2="554" stroke="#080808" stroke-width="2.4" opacity="0.6"/>
<line x1="587.3" y1="398.1" x2="401.7" y2="554.5" stroke="#a8a8a8" stroke-width="0.9" opacity="0.35"/>
<line x1="648" y1="408.1" x2="462.6" y2="565.5" stroke="#080808" stroke-width="2.4" opacity="0.6"/>
<line x1="650.8" y1="408.6" x2="465.5" y2="566" stroke="#a8a8a8" stroke-width="0.9" opacity="0.35"/>
<line x1="323.7" y1="381.1" x2="704.4" y2="444.9" stroke="#080808" stroke-width="2.4" opacity="0.6"/>
<line x1="322.3" y1="382.3" x2="703" y2="446.1" stroke="#a8a8a8" stroke-width="0.9" opacity="0.35"/>
<line x1="291.7" y1="407.2" x2="672.7" y2="472.1" stroke="#080808" stroke-width="2.4" opacity="0.6"/>
<line x1="290.3" y1="408.4" x2="671.3" y2="473.3" stroke="#a8a8a8" stroke-width="0.9" opacity="0.35"/>
<line x1="259.5" y1="433.5" x2="640.9" y2="499.4" stroke="#080808" stroke-width="2.4" opacity="0.6"/>
<line x1="258.1" y1="434.7" x2="639.4" y2="500.7" stroke="#a8a8a8" stroke-width="0.9" opacity="0.35"/>
<line x1="227.2" y1="460" x2="608.7" y2="527" stroke="#080808" stroke-width="2.4" opacity="0.6"/>
<line x1="225.7" y1="461.2" x2="607.3" y2="528.2" stroke="#a8a8a8" stroke-width="0.9" opacity="0.35"/>
<line x1="194.5" y1="486.6" x2="576.4" y2="554.8" stroke="#080808" stroke-width="2.4" opacity="0.6"/>
<line x1="193.1" y1="487.8" x2="575" y2="556" stroke="#a8a8a8" stroke-width="0.9" opacity="0.35"/>
</g>
<g filter="url(#mblur2)"><polygon points="630,384 752,402 745,418 700,447 612,432" fill="#6e6e6e" opacity="0.75"/>
</g><polygon points="624,400 645,383 658,398 641,395" fill="#a5a5a5" opacity="0.9"/>
<polygon points="624,400 641,395 658,398 643,404" fill="#8a8a8a" opacity="0.9"/>
<polygon points="659,404 680,387 693,402 676,399" fill="#a5a5a5" opacity="0.9"/>
<polygon points="659,404 676,399 693,402 678,408" fill="#8a8a8a" opacity="0.9"/>
<polygon points="695,409 716,392 729,407 712,404" fill="#a5a5a5" opacity="0.9"/>
<polygon points="695,409 712,404 729,407 714,413" fill="#8a8a8a" opacity="0.9"/>
<polygon points="611,426 632,409 645,424 628,421" fill="#a5a5a5" opacity="0.9"/>
<polygon points="611,426 628,421 645,424 630,430" fill="#8a8a8a" opacity="0.9"/>
<polygon points="645,431 666,414 679,429 662,426" fill="#a5a5a5" opacity="0.9"/>
<polygon points="645,431 662,426 679,429 664,435" fill="#8a8a8a" opacity="0.9"/>
<polygon points="680,436 701,419 714,434 697,431" fill="#a5a5a5" opacity="0.9"/>
<polygon points="680,436 697,431 714,434 699,440" fill="#8a8a8a" opacity="0.9"/>
<polygon points="649,386 657,391 667,385 660,393 668,400 658,395 650,401 655,393" fill="#101010" opacity="0.9"/>
<polygon points="685,390 693,395 703,389 696,397 704,404 694,399 686,405 691,397" fill="#101010" opacity="0.9"/>
<polygon points="721,398 729,403 739,397 732,405 740,412 730,407 722,413 727,405" fill="#101010" opacity="0.9"/>
<polygon points="636,414 644,419 654,413 647,421 655,428 645,423 637,429 642,421" fill="#101010" opacity="0.9"/>
<polygon points="671,420 679,425 689,419 682,427 690,434 680,429 672,435 677,427" fill="#101010" opacity="0.9"/>
<polygon points="705,426 713,431 723,425 716,433 724,440 714,435 706,441 711,433" fill="#101010" opacity="0.9"/>
<line x1="623" y1="468.2" x2="660" y2="469.7" stroke="#b8b8b8" stroke-width="1" opacity="0.5"/>
<line x1="622.8" y1="468.7" x2="655.7" y2="473.4" stroke="#b8b8b8" stroke-width="1" opacity="0.5"/>
<line x1="622.3" y1="469.1" x2="657" y2="478.4" stroke="#b8b8b8" stroke-width="1" opacity="0.5"/>
<line x1="621.7" y1="469.5" x2="644.7" y2="479.5" stroke="#b8b8b8" stroke-width="1" opacity="0.5"/>
<line x1="620.9" y1="469.8" x2="640.2" y2="483.9" stroke="#b8b8b8" stroke-width="1" opacity="0.5"/>
<line x1="620" y1="469.9" x2="629.8" y2="484.7" stroke="#b8b8b8" stroke-width="1" opacity="0.5"/>
<line x1="619.1" y1="470" x2="619.8" y2="483.6" stroke="#b8b8b8" stroke-width="1" opacity="0.5"/>
<line x1="618.1" y1="470" x2="609.5" y2="485.6" stroke="#b8b8b8" stroke-width="1" opacity="0.5"/>
<line x1="617.2" y1="469.8" x2="602.3" y2="481.9" stroke="#b8b8b8" stroke-width="1" opacity="0.5"/>
<line x1="616.4" y1="469.5" x2="591.4" y2="481.4" stroke="#b8b8b8" stroke-width="1" opacity="0.5"/>
<line x1="615.8" y1="469.2" x2="588.3" y2="477.2" stroke="#b8b8b8" stroke-width="1" opacity="0.5"/>
<line x1="615.3" y1="468.7" x2="583.6" y2="473.9" stroke="#b8b8b8" stroke-width="1" opacity="0.5"/>
<line x1="615" y1="468.3" x2="576.9" y2="470.5" stroke="#b8b8b8" stroke-width="1" opacity="0.5"/>
<line x1="615" y1="467.8" x2="571.5" y2="466" stroke="#b8b8b8" stroke-width="1" opacity="0.5"/>
<line x1="615.2" y1="467.3" x2="582.6" y2="462.6" stroke="#b8b8b8" stroke-width="1" opacity="0.5"/>
<line x1="615.7" y1="466.9" x2="585.7" y2="458.9" stroke="#b8b8b8" stroke-width="1" opacity="0.5"/>
<line x1="616.3" y1="466.5" x2="588.4" y2="454.3" stroke="#b8b8b8" stroke-width="1" opacity="0.5"/>
<line x1="617.1" y1="466.2" x2="595.2" y2="450.1" stroke="#b8b8b8" stroke-width="1" opacity="0.5"/>
<line x1="618" y1="466.1" x2="607.5" y2="450.2" stroke="#b8b8b8" stroke-width="1" opacity="0.5"/>
<line x1="618.9" y1="466" x2="618.1" y2="450.6" stroke="#b8b8b8" stroke-width="1" opacity="0.5"/>
<line x1="619.9" y1="466" x2="629.9" y2="447.9" stroke="#b8b8b8" stroke-width="1" opacity="0.5"/>
<line x1="620.8" y1="466.2" x2="635.8" y2="454.1" stroke="#b8b8b8" stroke-width="1" opacity="0.5"/>
<line x1="621.6" y1="466.5" x2="650.2" y2="452.8" stroke="#b8b8b8" stroke-width="1" opacity="0.5"/>
<line x1="622.2" y1="466.8" x2="652.1" y2="458.1" stroke="#b8b8b8" stroke-width="1" opacity="0.5"/>
<line x1="622.7" y1="467.3" x2="655" y2="462" stroke="#b8b8b8" stroke-width="1" opacity="0.5"/>
<line x1="623" y1="467.7" x2="657.1" y2="465.8" stroke="#b8b8b8" stroke-width="1" opacity="0.5"/>
<polygon points="590.5,467 614,465 625,457.2 626,467 641.5,472 622,472 614,477 611,470" fill="#030303" opacity="0.9"/>
<line x1="589" y1="493.7" x2="628.5" y2="495.3" stroke="#b8b8b8" stroke-width="1" opacity="0.5"/>
<line x1="588.8" y1="494.2" x2="632.9" y2="500.5" stroke="#b8b8b8" stroke-width="1" opacity="0.5"/>
<line x1="588.3" y1="494.6" x2="620" y2="503.1" stroke="#b8b8b8" stroke-width="1" opacity="0.5"/>
<line x1="587.7" y1="495" x2="617.3" y2="507.9" stroke="#b8b8b8" stroke-width="1" opacity="0.5"/>
<line x1="586.9" y1="495.3" x2="608.3" y2="511" stroke="#b8b8b8" stroke-width="1" opacity="0.5"/>
<line x1="586" y1="495.4" x2="596.6" y2="511.3" stroke="#b8b8b8" stroke-width="1" opacity="0.5"/>
<line x1="585.1" y1="495.5" x2="586" y2="513" stroke="#b8b8b8" stroke-width="1" opacity="0.5"/>
<line x1="584.1" y1="495.5" x2="576.2" y2="509.8" stroke="#b8b8b8" stroke-width="1" opacity="0.5"/>
<line x1="583.2" y1="495.3" x2="567" y2="508.4" stroke="#b8b8b8" stroke-width="1" opacity="0.5"/>
<line x1="582.4" y1="495" x2="557.6" y2="506.8" stroke="#b8b8b8" stroke-width="1" opacity="0.5"/>
<line x1="581.8" y1="494.7" x2="545.3" y2="505.3" stroke="#b8b8b8" stroke-width="1" opacity="0.5"/>
<line x1="581.3" y1="494.2" x2="542.9" y2="500.5" stroke="#b8b8b8" stroke-width="1" opacity="0.5"/>
<line x1="581" y1="493.8" x2="541.6" y2="496.1" stroke="#b8b8b8" stroke-width="1" opacity="0.5"/>
<line x1="581" y1="493.3" x2="537.6" y2="491.5" stroke="#b8b8b8" stroke-width="1" opacity="0.5"/>
<line x1="581.2" y1="492.8" x2="541.9" y2="487.2" stroke="#b8b8b8" stroke-width="1" opacity="0.5"/>
<line x1="581.7" y1="492.4" x2="548.6" y2="483.6" stroke="#b8b8b8" stroke-width="1" opacity="0.5"/>
<line x1="582.3" y1="492" x2="550.7" y2="478.2" stroke="#b8b8b8" stroke-width="1" opacity="0.5"/>
<line x1="583.1" y1="491.7" x2="561.2" y2="475.7" stroke="#b8b8b8" stroke-width="1" opacity="0.5"/>
<line x1="584" y1="491.6" x2="573.9" y2="476.4" stroke="#b8b8b8" stroke-width="1" opacity="0.5"/>
<line x1="584.9" y1="491.5" x2="584" y2="473.9" stroke="#b8b8b8" stroke-width="1" opacity="0.5"/>
<line x1="585.9" y1="491.5" x2="595.2" y2="474.6" stroke="#b8b8b8" stroke-width="1" opacity="0.5"/>
<line x1="586.8" y1="491.7" x2="608" y2="474.4" stroke="#b8b8b8" stroke-width="1" opacity="0.5"/>
<line x1="587.6" y1="492" x2="617.1" y2="477.9" stroke="#b8b8b8" stroke-width="1" opacity="0.5"/>
<line x1="588.2" y1="492.3" x2="620.2" y2="483" stroke="#b8b8b8" stroke-width="1" opacity="0.5"/>
<line x1="588.7" y1="492.8" x2="634.2" y2="485.3" stroke="#b8b8b8" stroke-width="1" opacity="0.5"/>
<line x1="589" y1="493.2" x2="625.7" y2="491.1" stroke="#b8b8b8" stroke-width="1" opacity="0.5"/>
<polygon points="554.6,492.5 580,490.5 591,482 592,492.5 609,497.5 588,497.5 580,503.1 577,495.5" fill="#030303" opacity="0.9"/>
<line x1="554" y1="519.2" x2="595" y2="520.9" stroke="#b8b8b8" stroke-width="1" opacity="0.5"/>
<line x1="553.8" y1="519.7" x2="597.1" y2="525.9" stroke="#b8b8b8" stroke-width="1" opacity="0.5"/>
<line x1="553.3" y1="520.1" x2="584.7" y2="528.5" stroke="#b8b8b8" stroke-width="1" opacity="0.5"/>
<line x1="552.7" y1="520.5" x2="581.4" y2="533.1" stroke="#b8b8b8" stroke-width="1" opacity="0.5"/>
<line x1="551.9" y1="520.8" x2="569.3" y2="533.5" stroke="#b8b8b8" stroke-width="1" opacity="0.5"/>
<line x1="551" y1="520.9" x2="562.6" y2="538.5" stroke="#b8b8b8" stroke-width="1" opacity="0.5"/>
<line x1="550.1" y1="521" x2="551" y2="539.7" stroke="#b8b8b8" stroke-width="1" opacity="0.5"/>
<line x1="549.1" y1="521" x2="539.6" y2="538.1" stroke="#b8b8b8" stroke-width="1" opacity="0.5"/>
<line x1="548.2" y1="520.8" x2="527" y2="538.1" stroke="#b8b8b8" stroke-width="1" opacity="0.5"/>
<line x1="547.4" y1="520.5" x2="521.6" y2="532.8" stroke="#b8b8b8" stroke-width="1" opacity="0.5"/>
<line x1="546.8" y1="520.2" x2="510.2" y2="530.9" stroke="#b8b8b8" stroke-width="1" opacity="0.5"/>
<line x1="546.3" y1="519.7" x2="505.7" y2="526.4" stroke="#b8b8b8" stroke-width="1" opacity="0.5"/>
<line x1="546" y1="519.3" x2="503" y2="521.8" stroke="#b8b8b8" stroke-width="1" opacity="0.5"/>
<line x1="546" y1="518.8" x2="504.4" y2="517.1" stroke="#b8b8b8" stroke-width="1" opacity="0.5"/>
<line x1="546.2" y1="518.3" x2="501.8" y2="511.9" stroke="#b8b8b8" stroke-width="1" opacity="0.5"/>
<line x1="546.7" y1="517.9" x2="506.1" y2="507" stroke="#b8b8b8" stroke-width="1" opacity="0.5"/>
<line x1="547.3" y1="517.5" x2="518.8" y2="505" stroke="#b8b8b8" stroke-width="1" opacity="0.5"/>
<line x1="548.1" y1="517.2" x2="526.5" y2="501.4" stroke="#b8b8b8" stroke-width="1" opacity="0.5"/>
<line x1="549" y1="517.1" x2="539.5" y2="502.9" stroke="#b8b8b8" stroke-width="1" opacity="0.5"/>
<line x1="549.9" y1="517" x2="549" y2="498.6" stroke="#b8b8b8" stroke-width="1" opacity="0.5"/>
<line x1="550.9" y1="517" x2="560.6" y2="499.4" stroke="#b8b8b8" stroke-width="1" opacity="0.5"/>
<line x1="551.8" y1="517.2" x2="573.8" y2="499.3" stroke="#b8b8b8" stroke-width="1" opacity="0.5"/>
<line x1="552.6" y1="517.5" x2="582.9" y2="503" stroke="#b8b8b8" stroke-width="1" opacity="0.5"/>
<line x1="553.2" y1="517.8" x2="585.2" y2="508.5" stroke="#b8b8b8" stroke-width="1" opacity="0.5"/>
<line x1="553.7" y1="518.3" x2="591.6" y2="512.1" stroke="#b8b8b8" stroke-width="1" opacity="0.5"/>
<line x1="554" y1="518.7" x2="598.3" y2="516.2" stroke="#b8b8b8" stroke-width="1" opacity="0.5"/>
<polygon points="519.6,518 545,516 556,507.5 557,518 574,523 553,523 545,528.6 542,521" fill="#030303" opacity="0.9"/>
<g filter="url(#mblur1)"><polygon points="294,515 444,540.5 431,553 563,577 540,600 520,606 300,566 270,545" fill="#b3ada0" opacity="0.95"/>
</g>
<g filter="url(#mblur2)"><polygon points="300,540 420,560 440,590 300,565" fill="#c8b88c" opacity="0.7"/>
<polygon points="405,562 545,587 524,603 395,580" fill="#dccb95" opacity="0.85"/>
</g>
<line x1="438" y1="556" x2="418" y2="574" stroke="#2f2a20" stroke-width="1.4" opacity="0.72"/>
<line x1="440.7" y1="556.5" x2="420.8" y2="574.5" stroke="#2f2a20" stroke-width="1.4" opacity="0.72"/>
<line x1="443.5" y1="557" x2="423.6" y2="575" stroke="#2f2a20" stroke-width="1.4" opacity="0.72"/>
<line x1="446.2" y1="557.5" x2="426.4" y2="575.6" stroke="#2f2a20" stroke-width="1.4" opacity="0.72"/>
<line x1="449" y1="558" x2="429.2" y2="576.1" stroke="#2f2a20" stroke-width="1.4" opacity="0.72"/>
<line x1="451.7" y1="558.4" x2="432" y2="576.6" stroke="#2f2a20" stroke-width="1.4" opacity="0.72"/>
<line x1="454.5" y1="558.9" x2="434.7" y2="577.1" stroke="#2f2a20" stroke-width="1.4" opacity="0.72"/>
<line x1="457.2" y1="559.4" x2="437.5" y2="577.7" stroke="#2f2a20" stroke-width="1.4" opacity="0.72"/>
<line x1="460" y1="559.9" x2="440.3" y2="578.2" stroke="#2f2a20" stroke-width="1.4" opacity="0.72"/>
<line x1="462.7" y1="560.4" x2="443.1" y2="578.7" stroke="#2f2a20" stroke-width="1.4" opacity="0.72"/>
<line x1="465.4" y1="560.9" x2="445.9" y2="579.2" stroke="#2f2a20" stroke-width="1.4" opacity="0.72"/>
<line x1="468.2" y1="561.4" x2="448.7" y2="579.8" stroke="#2f2a20" stroke-width="1.4" opacity="0.72"/>
<line x1="470.9" y1="561.9" x2="451.5" y2="580.3" stroke="#2f2a20" stroke-width="1.4" opacity="0.72"/>
<line x1="473.7" y1="562.3" x2="454.3" y2="580.8" stroke="#2f2a20" stroke-width="1.4" opacity="0.72"/>
<line x1="476.4" y1="562.8" x2="457.1" y2="581.3" stroke="#2f2a20" stroke-width="1.4" opacity="0.72"/>
<line x1="479.2" y1="563.3" x2="459.9" y2="581.8" stroke="#2f2a20" stroke-width="1.4" opacity="0.72"/>
<line x1="481.9" y1="563.8" x2="462.7" y2="582.4" stroke="#2f2a20" stroke-width="1.4" opacity="0.72"/>
<line x1="484.7" y1="564.3" x2="465.4" y2="582.9" stroke="#2f2a20" stroke-width="1.4" opacity="0.72"/>
<line x1="487.4" y1="564.8" x2="468.2" y2="583.4" stroke="#2f2a20" stroke-width="1.4" opacity="0.72"/>
<line x1="490.1" y1="565.3" x2="471" y2="583.9" stroke="#2f2a20" stroke-width="1.4" opacity="0.72"/>
<line x1="492.9" y1="565.8" x2="473.8" y2="584.5" stroke="#2f2a20" stroke-width="1.4" opacity="0.72"/>
<line x1="495.6" y1="566.3" x2="476.6" y2="585" stroke="#2f2a20" stroke-width="1.4" opacity="0.72"/>
<line x1="498.4" y1="566.7" x2="479.4" y2="585.5" stroke="#2f2a20" stroke-width="1.4" opacity="0.72"/>
<line x1="501.1" y1="567.2" x2="482.2" y2="586" stroke="#2f2a20" stroke-width="1.4" opacity="0.72"/>
<line x1="503.9" y1="567.7" x2="485" y2="586.6" stroke="#2f2a20" stroke-width="1.4" opacity="0.72"/>
<line x1="506.6" y1="568.2" x2="487.8" y2="587.1" stroke="#2f2a20" stroke-width="1.4" opacity="0.72"/>
<line x1="509.3" y1="568.7" x2="490.6" y2="587.6" stroke="#2f2a20" stroke-width="1.4" opacity="0.72"/>
<line x1="512.1" y1="569.2" x2="493.3" y2="588.1" stroke="#2f2a20" stroke-width="1.4" opacity="0.72"/>
<line x1="514.8" y1="569.7" x2="496.1" y2="588.7" stroke="#2f2a20" stroke-width="1.4" opacity="0.72"/>
<line x1="517.6" y1="570.2" x2="498.9" y2="589.2" stroke="#2f2a20" stroke-width="1.4" opacity="0.72"/>
<line x1="520.3" y1="570.7" x2="501.7" y2="589.7" stroke="#2f2a20" stroke-width="1.4" opacity="0.72"/>
<line x1="523.1" y1="571.1" x2="504.5" y2="590.2" stroke="#2f2a20" stroke-width="1.4" opacity="0.72"/>
<line x1="525.8" y1="571.6" x2="507.3" y2="590.7" stroke="#2f2a20" stroke-width="1.4" opacity="0.72"/>
<line x1="528.6" y1="572.1" x2="510.1" y2="591.3" stroke="#2f2a20" stroke-width="1.4" opacity="0.72"/>
<line x1="531.3" y1="572.6" x2="512.9" y2="591.8" stroke="#2f2a20" stroke-width="1.4" opacity="0.72"/>
<line x1="534" y1="573.1" x2="515.7" y2="592.3" stroke="#2f2a20" stroke-width="1.4" opacity="0.72"/>
<line x1="536.8" y1="573.6" x2="518.5" y2="592.8" stroke="#2f2a20" stroke-width="1.4" opacity="0.72"/>
<line x1="539.5" y1="574.1" x2="521.3" y2="593.4" stroke="#2f2a20" stroke-width="1.4" opacity="0.72"/>
<line x1="542.3" y1="574.6" x2="524" y2="593.9" stroke="#2f2a20" stroke-width="1.4" opacity="0.72"/>
<line x1="545" y1="575" x2="526.8" y2="594.4" stroke="#2f2a20" stroke-width="1.4" opacity="0.72"/>
<line x1="547.8" y1="575.5" x2="529.6" y2="594.9" stroke="#2f2a20" stroke-width="1.4" opacity="0.72"/>
<line x1="550.5" y1="576" x2="532.4" y2="595.5" stroke="#2f2a20" stroke-width="1.4" opacity="0.72"/>
<line x1="553.3" y1="576.5" x2="535.2" y2="596" stroke="#2f2a20" stroke-width="1.4" opacity="0.72"/>
<line x1="556" y1="577" x2="538" y2="596.5" stroke="#2f2a20" stroke-width="1.4" opacity="0.72"/>
<line x1="452" y1="543" x2="440" y2="554" stroke="#1f1f1f" stroke-width="1.2" opacity="0.6"/>
<line x1="454.9" y1="543.5" x2="443" y2="554.6" stroke="#1f1f1f" stroke-width="1.2" opacity="0.6"/>
<line x1="457.8" y1="544.1" x2="446" y2="555.1" stroke="#1f1f1f" stroke-width="1.2" opacity="0.6"/>
<line x1="460.8" y1="544.6" x2="449" y2="555.7" stroke="#1f1f1f" stroke-width="1.2" opacity="0.6"/>
<line x1="463.7" y1="545.2" x2="452" y2="556.2" stroke="#1f1f1f" stroke-width="1.2" opacity="0.6"/>
<line x1="466.6" y1="545.7" x2="455" y2="556.8" stroke="#1f1f1f" stroke-width="1.2" opacity="0.6"/>
<line x1="469.5" y1="546.2" x2="458" y2="557.3" stroke="#1f1f1f" stroke-width="1.2" opacity="0.6"/>
<line x1="472.5" y1="546.8" x2="461" y2="557.9" stroke="#1f1f1f" stroke-width="1.2" opacity="0.6"/>
<line x1="475.4" y1="547.3" x2="464" y2="558.4" stroke="#1f1f1f" stroke-width="1.2" opacity="0.6"/>
<line x1="478.3" y1="547.8" x2="467" y2="559" stroke="#1f1f1f" stroke-width="1.2" opacity="0.6"/>
<line x1="481.2" y1="548.4" x2="470" y2="559.5" stroke="#1f1f1f" stroke-width="1.2" opacity="0.6"/>
<line x1="484.2" y1="548.9" x2="473" y2="560.1" stroke="#1f1f1f" stroke-width="1.2" opacity="0.6"/>
<line x1="487.1" y1="549.5" x2="476" y2="560.6" stroke="#1f1f1f" stroke-width="1.2" opacity="0.6"/>
<line x1="490" y1="550" x2="479" y2="561.2" stroke="#1f1f1f" stroke-width="1.2" opacity="0.6"/>
<line x1="492.9" y1="550.5" x2="482" y2="561.7" stroke="#1f1f1f" stroke-width="1.2" opacity="0.6"/>
<line x1="495.8" y1="551.1" x2="485" y2="562.3" stroke="#1f1f1f" stroke-width="1.2" opacity="0.6"/>
<line x1="498.8" y1="551.6" x2="488" y2="562.8" stroke="#1f1f1f" stroke-width="1.2" opacity="0.6"/>
<line x1="501.7" y1="552.2" x2="491" y2="563.4" stroke="#1f1f1f" stroke-width="1.2" opacity="0.6"/>
<line x1="504.6" y1="552.7" x2="494" y2="563.9" stroke="#1f1f1f" stroke-width="1.2" opacity="0.6"/>
<line x1="507.5" y1="553.2" x2="497" y2="564.5" stroke="#1f1f1f" stroke-width="1.2" opacity="0.6"/>
<line x1="510.5" y1="553.8" x2="500" y2="565" stroke="#1f1f1f" stroke-width="1.2" opacity="0.6"/>
<line x1="513.4" y1="554.3" x2="503" y2="565.6" stroke="#1f1f1f" stroke-width="1.2" opacity="0.6"/>
<line x1="516.3" y1="554.8" x2="506" y2="566.1" stroke="#1f1f1f" stroke-width="1.2" opacity="0.6"/>
<line x1="519.2" y1="555.4" x2="509" y2="566.7" stroke="#1f1f1f" stroke-width="1.2" opacity="0.6"/>
<line x1="522.2" y1="555.9" x2="512" y2="567.2" stroke="#1f1f1f" stroke-width="1.2" opacity="0.6"/>
<line x1="525.1" y1="556.5" x2="515" y2="567.8" stroke="#1f1f1f" stroke-width="1.2" opacity="0.6"/>
<line x1="528" y1="557" x2="518" y2="568.3" stroke="#1f1f1f" stroke-width="1.2" opacity="0.6"/>
<line x1="530.9" y1="557.5" x2="521" y2="568.9" stroke="#1f1f1f" stroke-width="1.2" opacity="0.6"/>
<line x1="533.8" y1="558.1" x2="524" y2="569.4" stroke="#1f1f1f" stroke-width="1.2" opacity="0.6"/>
<line x1="536.8" y1="558.6" x2="527" y2="570" stroke="#1f1f1f" stroke-width="1.2" opacity="0.6"/>
<line x1="539.7" y1="559.2" x2="530" y2="570.5" stroke="#1f1f1f" stroke-width="1.2" opacity="0.6"/>
<line x1="542.6" y1="559.7" x2="533" y2="571.1" stroke="#1f1f1f" stroke-width="1.2" opacity="0.6"/>
<line x1="545.5" y1="560.2" x2="536" y2="571.6" stroke="#1f1f1f" stroke-width="1.2" opacity="0.6"/>
<line x1="548.5" y1="560.8" x2="539" y2="572.2" stroke="#1f1f1f" stroke-width="1.2" opacity="0.6"/>
<line x1="551.4" y1="561.3" x2="542" y2="572.7" stroke="#1f1f1f" stroke-width="1.2" opacity="0.6"/>
<line x1="554.3" y1="561.8" x2="545" y2="573.3" stroke="#1f1f1f" stroke-width="1.2" opacity="0.6"/>
<line x1="557.2" y1="562.4" x2="548" y2="573.8" stroke="#1f1f1f" stroke-width="1.2" opacity="0.6"/>
<line x1="560.2" y1="562.9" x2="551" y2="574.4" stroke="#1f1f1f" stroke-width="1.2" opacity="0.6"/>
<line x1="563.1" y1="563.5" x2="554" y2="574.9" stroke="#1f1f1f" stroke-width="1.2" opacity="0.6"/>
<line x1="566" y1="564" x2="557" y2="575.5" stroke="#1f1f1f" stroke-width="1.2" opacity="0.6"/>
<line x1="431" y1="553" x2="563" y2="577" stroke="#222" stroke-width="1.8" opacity="0.6"/>
<line x1="444" y1="541" x2="570" y2="563.5" stroke="#222" stroke-width="1.5" opacity="0.5"/>
<line x1="296" y1="517" x2="262" y2="546" stroke="#5e5a50" stroke-width="0.9" opacity="0.4"/>
<line x1="300.4" y1="517.8" x2="266.7" y2="546.8" stroke="#5e5a50" stroke-width="0.9" opacity="0.4"/>
<line x1="304.8" y1="518.5" x2="271.5" y2="547.6" stroke="#5e5a50" stroke-width="0.9" opacity="0.4"/>
<line x1="309.3" y1="519.3" x2="276.2" y2="548.5" stroke="#5e5a50" stroke-width="0.9" opacity="0.4"/>
<line x1="313.7" y1="520" x2="280.9" y2="549.3" stroke="#5e5a50" stroke-width="0.9" opacity="0.4"/>
<line x1="318.1" y1="520.8" x2="285.6" y2="550.1" stroke="#5e5a50" stroke-width="0.9" opacity="0.4"/>
<line x1="322.5" y1="521.5" x2="290.4" y2="550.9" stroke="#5e5a50" stroke-width="0.9" opacity="0.4"/>
<line x1="327" y1="522.3" x2="295.1" y2="551.7" stroke="#5e5a50" stroke-width="0.9" opacity="0.4"/>
<line x1="331.4" y1="523.1" x2="299.8" y2="552.5" stroke="#5e5a50" stroke-width="0.9" opacity="0.4"/>
<line x1="335.8" y1="523.8" x2="304.5" y2="553.4" stroke="#5e5a50" stroke-width="0.9" opacity="0.4"/>
<line x1="340.2" y1="524.6" x2="309.3" y2="554.2" stroke="#5e5a50" stroke-width="0.9" opacity="0.4"/>
<line x1="344.7" y1="525.3" x2="314" y2="555" stroke="#5e5a50" stroke-width="0.9" opacity="0.4"/>
<line x1="349.1" y1="526.1" x2="318.7" y2="555.8" stroke="#5e5a50" stroke-width="0.9" opacity="0.4"/>
<line x1="353.5" y1="526.8" x2="323.5" y2="556.6" stroke="#5e5a50" stroke-width="0.9" opacity="0.4"/>
<line x1="357.9" y1="527.6" x2="328.2" y2="557.5" stroke="#5e5a50" stroke-width="0.9" opacity="0.4"/>
<line x1="362.4" y1="528.4" x2="332.9" y2="558.3" stroke="#5e5a50" stroke-width="0.9" opacity="0.4"/>
<line x1="366.8" y1="529.1" x2="337.6" y2="559.1" stroke="#5e5a50" stroke-width="0.9" opacity="0.4"/>
<line x1="371.2" y1="529.9" x2="342.4" y2="559.9" stroke="#5e5a50" stroke-width="0.9" opacity="0.4"/>
<line x1="375.6" y1="530.6" x2="347.1" y2="560.7" stroke="#5e5a50" stroke-width="0.9" opacity="0.4"/>
<line x1="380.1" y1="531.4" x2="351.8" y2="561.5" stroke="#5e5a50" stroke-width="0.9" opacity="0.4"/>
<line x1="384.5" y1="532.2" x2="356.5" y2="562.4" stroke="#5e5a50" stroke-width="0.9" opacity="0.4"/>
<line x1="388.9" y1="532.9" x2="361.3" y2="563.2" stroke="#5e5a50" stroke-width="0.9" opacity="0.4"/>
<line x1="393.3" y1="533.7" x2="366" y2="564" stroke="#5e5a50" stroke-width="0.9" opacity="0.4"/>
<line x1="397.8" y1="534.4" x2="370.7" y2="564.8" stroke="#5e5a50" stroke-width="0.9" opacity="0.4"/>
<line x1="402.2" y1="535.2" x2="375.5" y2="565.6" stroke="#5e5a50" stroke-width="0.9" opacity="0.4"/>
<line x1="406.6" y1="535.9" x2="380.2" y2="566.5" stroke="#5e5a50" stroke-width="0.9" opacity="0.4"/>
<line x1="411" y1="536.7" x2="384.9" y2="567.3" stroke="#5e5a50" stroke-width="0.9" opacity="0.4"/>
<line x1="415.5" y1="537.5" x2="389.6" y2="568.1" stroke="#5e5a50" stroke-width="0.9" opacity="0.4"/>
<line x1="419.9" y1="538.2" x2="394.4" y2="568.9" stroke="#5e5a50" stroke-width="0.9" opacity="0.4"/>
<line x1="424.3" y1="539" x2="399.1" y2="569.7" stroke="#5e5a50" stroke-width="0.9" opacity="0.4"/>
<line x1="428.7" y1="539.7" x2="403.8" y2="570.5" stroke="#5e5a50" stroke-width="0.9" opacity="0.4"/>
<line x1="433.2" y1="540.5" x2="408.5" y2="571.4" stroke="#5e5a50" stroke-width="0.9" opacity="0.4"/>
<line x1="437.6" y1="541.2" x2="413.3" y2="572.2" stroke="#5e5a50" stroke-width="0.9" opacity="0.4"/>
<line x1="442" y1="542" x2="418" y2="573" stroke="#5e5a50" stroke-width="0.9" opacity="0.4"/>
<line x1="296" y1="517" x2="442" y2="542" stroke="#5e5a50" stroke-width="0.9" opacity="0.4"/>
<line x1="291.8" y1="520.6" x2="439" y2="545.9" stroke="#5e5a50" stroke-width="0.9" opacity="0.4"/>
<line x1="287.5" y1="524.2" x2="436" y2="549.8" stroke="#5e5a50" stroke-width="0.9" opacity="0.4"/>
<line x1="283.2" y1="527.9" x2="433" y2="553.6" stroke="#5e5a50" stroke-width="0.9" opacity="0.4"/>
<line x1="279" y1="531.5" x2="430" y2="557.5" stroke="#5e5a50" stroke-width="0.9" opacity="0.4"/>
<line x1="274.8" y1="535.1" x2="427" y2="561.4" stroke="#5e5a50" stroke-width="0.9" opacity="0.4"/>
<line x1="270.5" y1="538.8" x2="424" y2="565.2" stroke="#5e5a50" stroke-width="0.9" opacity="0.4"/>
<line x1="266.2" y1="542.4" x2="421" y2="569.1" stroke="#5e5a50" stroke-width="0.9" opacity="0.4"/>
<line x1="262" y1="546" x2="418" y2="573" stroke="#5e5a50" stroke-width="0.9" opacity="0.4"/>
<g filter="url(#mblur05)"><polygon points="182,476.5 200,470.5 250,484 300,498 304,526 285,529.5 240,521 182,509.5" fill="#4e4a44" opacity="0.97"/>
<polygon points="200,517 284,530 300,527 296,540 270,547 232,541 205,531" fill="#c6ab6c" opacity="0.95"/>
</g>
<polyline points="200,471.5 225,477 250,485 275,491.5 299,499" fill="none" stroke="#b5b5b5" stroke-width="1.5" opacity="0.6" stroke-dasharray="3 2"/>
<rect x="0" y="315" width="770" height="300" fill="#000" filter="url(#mnoise)" opacity="0.32"/>
<rect x="0" y="315" width="770" height="300" fill="#fff" filter="url(#mnoisew)" opacity="0.28"/>
</g>
<line x1="47" y1="483.6" x2="282.4" y2="528.2" stroke="#050505" stroke-width="5.8" />
</g>
</g>
<g filter="url(#softa)">
<g id="chiptop">
<defs>
<clipPath id="subclip"><polygon points="165,258 180,243 299.3,138.9 316.5,126.3 349.8,91.8 360,86 401,46 865,91 661,338"/></clipPath>
<filter id="snoise" x="0" y="0" width="100%" height="100%"><feTurbulence type="fractalNoise" baseFrequency="0.9" numOctaves="2" seed="5"/><feColorMatrix type="matrix" values="0 0 0 0 0.35  0 0 0 0 0.25  0 0 0 0 0.12  1.4 0 0 0 -0.5"/></filter>
<filter id="snoisew" x="0" y="0" width="100%" height="100%"><feTurbulence type="fractalNoise" baseFrequency="0.8" numOctaves="2" seed="9"/><feColorMatrix type="matrix" values="0 0 0 0 0.95  0 0 0 0 0.85  0 0 0 0 0.65  1.4 0 0 0 -0.6"/></filter>
<linearGradient id="p1f" x1="0" x2="0" y1="0" y2="1"><stop offset="0" stop-color="#dcbd70"/><stop offset="0.3" stop-color="#cfa95a"/><stop offset="1" stop-color="#b99246"/></linearGradient>
<linearGradient id="fface" x1="0" x2="0" y1="0" y2="1"><stop offset="0" stop-color="#e8d28e"/><stop offset="0.3" stop-color="#dcc078"/><stop offset="1" stop-color="#d4b66b"/></linearGradient>
<filter id="tblur" x="-20%" y="-20%" width="140%" height="140%"><feGaussianBlur stdDeviation="1.5"/></filter>
<filter id="tblur2" x="-20%" y="-20%" width="140%" height="140%"><feGaussianBlur stdDeviation="0.7"/></filter>
</defs>
<polygon points="165,258 661,338 661,369.4 170.7,292.5" fill="#6f6e6d" />
<g filter="url(#tblur)"><polygon points="164,256.5 662,336.5 662,350.5 166.5,271" fill="#a5875f" />
</g>
<polygon points="661,338 865,91 866,119.4 661,369.4" fill="#5f5d5c" />
<g filter="url(#tblur)"><polygon points="661,336.5 866,89 866.5,101.5 661,350.5" fill="#8c7253" />
</g>
<polygon points="160,250 165,258 170.7,292.5 661,369.4 866,119.4 865,91 875,85 875,125 663,378 165,300 155,255" fill="#ffffff" />
<polygon points="165,258 180,243 299.3,138.9 316.5,126.3 349.8,91.8 360,86 401,46 865,91 661,338" fill="#b99e72" />
<g clip-path="url(#subclip)">
<rect x="160" y="30" width="710" height="312" fill="#000" filter="url(#snoise)" opacity="0.38"/>
<rect x="160" y="30" width="710" height="312" fill="#fff" filter="url(#snoisew)" opacity="0.35"/>
<g filter="url(#tblur)"><polyline points="186,238.5 339,254 343,283.5 372,285.5 378,287 502,300.5 513,300.5 615,190.5 749,206.5 772,181" fill="none" stroke="#5e4726" stroke-width="3.5" opacity="0.6"/>
<polyline points="668,138 692,111 724,69" fill="none" stroke="#5e4726" stroke-width="3.5" opacity="0.55"/>
<polyline points="355,87.5 441,99.5" fill="none" stroke="#5e4726" stroke-width="3" opacity="0.6"/>
<polyline points="317,127.5 390,136.8" fill="none" stroke="#5e4726" stroke-width="2.5" opacity="0.5"/>
</g>
</g>
<polygon points="182.4,213.3 233.2,167.7 260.7,170.3 264.8,156.1 279.7,140.1 379.6,149.3 390,152 390,135.5 316.5,126.3 315.3,107.9 331.4,95.3 437,107.9 441.2,98.2 355.1,86.1 353.4,64.1 397.3,22.4 553.1,37 572.1,23.2 591,25.8 596,45.5 602.9,44.2 654.7,47.4 685,15.8 706.5,18.3 710.3,48 708.4,55.6 719.1,56.2 722.9,68.2 691.3,109.9 667,137.5 771,149.5 772,151.6 771,180 749,205.3 617,189.2 614.1,189.6 512.5,299.8 502.2,299.8 378.2,286 371.3,284.3 342.9,282.6 339.1,252.9 185.8,237.4" fill="#dfc680" />
<polygon points="353.4,64.1 410.2,70.6 410.2,93.9 355.1,86.1" fill="url(#p1f)" />
<polygon points="410.2,70.6 442.9,77.5 441.2,98.2 410.2,93.9" fill="#a6823e" />
<polyline points="353.8,64.8 410.2,71.3 442.9,78.2" fill="none" stroke="#f2e0a2" stroke-width="1.5" opacity="0.75" stroke-linecap="round" stroke-linejoin="round"/>
<polygon points="591,25.8 596,45.5 560,86.5 534.2,80.9" fill="#c29d56" />
<polygon points="593.5,35 596,45.5 560,86.5 549,84" fill="#ba954c" />
<polyline points="553.4,37.4 509,81" fill="none" stroke="#f2e0a2" stroke-width="1.4" opacity="0.7" stroke-linecap="round" stroke-linejoin="round"/>
<polyline points="590.6,26.3 534.8,80.6" fill="none" stroke="#f2e0a2" stroke-width="1.5" opacity="0.85" stroke-linecap="round" stroke-linejoin="round"/>
<polyline points="572.3,23.6 590.8,26.2" fill="none" stroke="#f2e0a2" stroke-width="1.2" opacity="0.6" stroke-linecap="round" stroke-linejoin="round"/>
<polygon points="706.5,18.3 709.7,36.6 650.9,96 632,93.5" fill="#ba954c" />
<polygon points="709.7,36.6 710.3,48 668.6,99.8 650.9,96" fill="#c29d56" />
<polyline points="706.2,18.8 632.4,93.3" fill="none" stroke="#f2e0a2" stroke-width="1.6" opacity="0.9" stroke-linecap="round" stroke-linejoin="round"/>
<polyline points="709.6,37 651.2,96" fill="none" stroke="#f2e0a2" stroke-width="1" opacity="0.4" stroke-linecap="round" stroke-linejoin="round"/>
<polyline points="685.3,16.2 706.2,18.7" fill="none" stroke="#f2e0a2" stroke-width="1.2" opacity="0.6" stroke-linecap="round" stroke-linejoin="round"/>
<polygon points="710.3,48 708.9,55.5 666.2,103.7 652,120 668.6,99.8" fill="#ba954c" />
<polygon points="719.2,57.6 722.7,70 670.3,128.5 667,137.5 655,130 668.9,115.4" fill="#c29d56" />
<polygon points="708.9,55.5 719.2,57.6 668.9,115.4 655,130 640,126 666.2,103.7" fill="#e5cf8b" />
<polyline points="709.1,56 666.4,104" fill="none" stroke="#f2e0a2" stroke-width="1.6" opacity="0.9" stroke-linecap="round" stroke-linejoin="round"/>
<polyline points="719,58 669.1,115.6" fill="none" stroke="#f2e0a2" stroke-width="1" opacity="0.5" stroke-linecap="round" stroke-linejoin="round"/>
<polyline points="710.3,48.5 668.6,100.2" fill="none" stroke="#8e6f33" stroke-width="1.6" opacity="0.5" stroke-linecap="round" stroke-linejoin="round"/>
<polygon points="639,112 666,104 668.9,115.4 655,131 640,137" fill="#c29d56" />
<g filter="url(#tblur2)"><polygon points="648,118 667,112 668,118 655,132 646,134" fill="#b08c45" opacity="0.8"/>
</g>
<polygon points="315.3,107.9 414,119.4 414,135 390,135.5 316.5,126.3" fill="#d6ba70" />
<polyline points="315.6,108.5 414,120" fill="none" stroke="#f2e0a2" stroke-width="1.3" opacity="0.75" stroke-linecap="round" stroke-linejoin="round"/>
<polygon points="264.8,156.1 361.3,164.2 361.3,180 261.6,170.6" fill="#dfc27a" />
<polygon points="361.3,164.2 366,161.6 370.6,162.4 370.6,176.5 365.5,180.5 361.3,179" fill="#c29d56" />
<polygon points="361.3,164.2 366,161.6 370.6,162.4 366,165" fill="#e5cf8b" />
<polyline points="265.1,156.7 361.3,164.8" fill="none" stroke="#f2e0a2" stroke-width="1.3" opacity="0.75" stroke-linecap="round" stroke-linejoin="round"/>
<polygon points="182.4,213.3 345.1,233.1 339.1,242.6 339.1,252.9 185.8,237.4" fill="url(#fface)" />
<polyline points="182.8,213.9 345,233.6" fill="none" stroke="#f2e0a2" stroke-width="1.6" opacity="0.8" stroke-linecap="round" stroke-linejoin="round"/>
<polygon points="438.9,94.4 471.7,97 471.7,116 439.8,110" fill="#dbc077" />
<polygon points="441.5,85.8 445.8,80.7 478.5,84.1 472.5,94.4 471.7,97 438.9,94.4" fill="#e5cf8b" />
<polygon points="471.7,97 478.5,84.1 479.5,103.3 472.5,116" fill="#8a6a2e" />
<polygon points="475.5,90 478.5,84.1 479.5,103.3 476,110" fill="#6b4f1f" />
<path d="M479.5,90 Q484,83.5 488.9,84.1 Q494,86 496.6,92.7 L496.6,97 L480.3,110 Z" fill="#c29d56"/>
<polyline points="439.2,94.9 471.5,97.5" fill="none" stroke="#f2e0a2" stroke-width="1.2" opacity="0.7" stroke-linecap="round" stroke-linejoin="round"/>
<polygon points="390,135.5 423.2,138 423.2,160.7 391,158.4" fill="#dbc077" />
<polygon points="390,135.5 396,130.5 425.5,131 423.2,138" fill="#e5cf8b" />
<polygon points="423.2,138 425.5,131 429,135.5 429,158.4 424.4,160.7" fill="#8a6a2e" />
<polygon points="426,134 429,135.5 429,158.4 426.5,159.5" fill="#6b4f1f" />
<polygon points="430,135.5 436,131 448.5,136 448,143 430,157" fill="#c29d56" />
<polyline points="390.3,136 423,138.5" fill="none" stroke="#f2e0a2" stroke-width="1.2" opacity="0.7" stroke-linecap="round" stroke-linejoin="round"/>
<polygon points="494.7,122.2 505,111.9 505,123" fill="#6b4f1f" />
<polygon points="528.3,104.1 534.3,100.7 534.3,121.3 528.3,121.3" fill="#6b4f1f" />
<polygon points="550.7,102.4 563.6,95.5 562.7,129.9 549.8,128.2" fill="#8a6a2e" />
<polygon points="556,99.5 563.6,95.5 562.7,129.9 557,129" fill="#6b4f1f" />
<polygon points="583.4,112.7 591.1,108.4 591.1,128.2 584.3,127.4" fill="#6b4f1f" />
<polygon points="615.3,112.7 623.9,107.6 625.6,142 617,145.4" fill="#6b4f1f" />
<polygon points="505.9,110 528.3,112 528.3,123 505.9,121.5" fill="#d6ba70" />
<polygon points="534.3,112 550.7,113.5 549.8,128.2 534.3,126" fill="#d6ba70" />
<polygon points="563.6,110 583.4,112.7 584.3,127.4 562.9,126" fill="#d6ba70" />
<polygon points="591.1,112 615.3,115 616,131.7 591.1,128.2" fill="#d6ba70" />
<path d="M625.6,114.4 Q629,110 632.5,112.7 L639.4,124.8 L630.8,140 L626,142 Z" fill="#e5cf8b"/>
<polygon points="632.5,112.7 639.4,124.8 630.8,140 629,126" fill="#c29d56" />
<polygon points="401.7,234 421.3,236.1 533,123.4 504,127.6" fill="#e5cf8b" />
<polygon points="421.3,236.1 424.7,270.5 430.6,245.4 536.4,132.8 533,123.4" fill="#c29d56" />
<polygon points="430.6,245.4 453.4,247.5 562.2,134.1 536.4,132.8" fill="#e5cf8b" />
<polygon points="453.4,247.5 457.4,274.8 560.9,169.9 562.2,134.1" fill="#c29d56" />
<polygon points="379.1,268.8 503.9,285.5 602.2,172 560.9,169.9 457.4,274.8" fill="#dfc680" />
<polygon points="503.9,285.5 512.5,299.8 613.6,186.5 602.2,172" fill="#c29d56" />
<polygon points="379.3,268.9 501.8,284.7 510.6,299.9 499.2,299.9 377.4,283.5" fill="#dbc077" />
<polygon points="337.6,245.6 367.9,246.6 369.2,284.1 341.4,280.9" fill="#dbc077" />
<polygon points="366.6,247 371.7,237.5 374,265.8 376.5,284.3 369.2,284.1" fill="#8a6a2e" />
<polygon points="371,262 374,265.8 376.5,284.3 371.5,284.2" fill="#6b4f1f" />
<polygon points="371.7,236.7 393.1,238 398.2,263 396,265.8 373.6,265.8" fill="#dbc077" />
<polygon points="393.1,238 401.4,234.2 404.5,269.6 398,268.3 398.2,263" fill="#8a6a2e" />
<polygon points="396,250 401.9,250 404.5,269.6 398,268.3" fill="#6b4f1f" />
<polygon points="401.4,234.2 418.4,235.2 424.7,268 423,270.8 404.5,269.6" fill="#dbc077" />
<polygon points="418.4,236 431,245.6 431,272 424.7,270.8" fill="#8a6a2e" />
<polygon points="424,258 431,256 431,272 424.7,270.8" fill="#6b4f1f" />
<polygon points="431,245.6 453.1,246.8 456.3,273 454,275.9 431,273.4" fill="#dbc077" />
<polyline points="337.9,246.1 367.5,247.1" fill="none" stroke="#f2e0a2" stroke-width="1.3" opacity="0.7" stroke-linecap="round" stroke-linejoin="round"/>
<polyline points="371.9,237.2 393,238.4 398.2,233.6 500.5,127.4" fill="none" stroke="#f2e0a2" stroke-width="1.4" opacity="0.85" stroke-linecap="round" stroke-linejoin="round"/>
<polyline points="399.6,234.2 501.9,127.8" fill="none" stroke="#8a6c30" stroke-width="1.2" opacity="0.7" stroke-linecap="round" stroke-linejoin="round"/>
<polyline points="401.7,234.6 418.3,235.6 421.3,236.1 532.6,123.8" fill="none" stroke="#f2e0a2" stroke-width="1.4" opacity="0.85" stroke-linecap="round" stroke-linejoin="round"/>
<polyline points="431.2,246 453,247.2 561.8,134.5" fill="none" stroke="#f2e0a2" stroke-width="1.4" opacity="0.85" stroke-linecap="round" stroke-linejoin="round"/>
<polyline points="430.8,245.2 536.2,133" fill="none" stroke="#f2e0a2" stroke-width="1.1" opacity="0.6" stroke-linecap="round" stroke-linejoin="round"/>
<polyline points="379.5,269.4 501.6,285.1 602,172.4" fill="none" stroke="#f2e0a2" stroke-width="1.5" opacity="0.85" stroke-linecap="round" stroke-linejoin="round"/>
<polyline points="457.6,274.6 560.7,170.2" fill="none" stroke="#f2e0a2" stroke-width="1" opacity="0.45" stroke-linecap="round" stroke-linejoin="round"/>
<polyline points="339.3,242.9 380,200 451,141" fill="none" stroke="#f2e0a2" stroke-width="1.1" opacity="0.65" stroke-linecap="round" stroke-linejoin="round"/>
<polyline points="369,246 478,134" fill="none" stroke="#a08040" stroke-width="1" opacity="0.25" stroke-linecap="round" stroke-linejoin="round"/>
<polygon points="561.9,138.5 586.7,145.1 587.2,178.2 562.9,172" fill="#dbc077" />
<polyline points="562.4,147 586.9,153.4" fill="none" stroke="#c9a95f" stroke-width="2.2" opacity="0.6"/>
<polyline points="562.4,156 586.9,162.4" fill="none" stroke="#b79548" stroke-width="2" opacity="0.65"/>
<polyline points="562.4,161 586.9,167.4" fill="none" stroke="#ecd795" stroke-width="1.6" opacity="0.6"/>
<polyline points="562.4,167 586.9,173.4" fill="none" stroke="#c3a257" stroke-width="1.8" opacity="0.5"/>
<polygon points="586.7,145.1 604.3,137.9 605.3,163.7 587.8,178.2" fill="#c29d56" />
<polyline points="587,158 605,147" fill="none" stroke="#b08f48" stroke-width="1.5" opacity="0.5"/>
<polygon points="561.9,136.9 573.3,127.6 597,130.7 604.3,137.9 586.7,145.1" fill="#e5cf8b" />
<polyline points="562.2,137.4 586.7,145.6 604,138.4" fill="none" stroke="#f2e0a2" stroke-width="1.2" opacity="0.7" stroke-linecap="round" stroke-linejoin="round"/>
<g filter="url(#tblur2)"><polygon points="562.9,172 587.5,178.5 605,164.5 606,168.5 588,182.5 562,175.5" fill="#7d5f2a" opacity="0.7"/>
</g>
<polygon points="617,155.5 750,178.8 749,205.3 617,189.2" fill="url(#fface)" />
<polygon points="750,178.8 772,151.6 772.5,175 749,205.3" fill="#c29d56" />
<polyline points="617.4,156 749.8,179.3" fill="none" stroke="#f2e0a2" stroke-width="1.5" opacity="0.8" stroke-linecap="round" stroke-linejoin="round"/>
<polyline points="750.3,178.6 771.7,152" fill="none" stroke="#f2e0a2" stroke-width="1.2" opacity="0.6" stroke-linecap="round" stroke-linejoin="round"/>
<polygon points="604,139 612,137 620,150 618,188 606,165" fill="#d6ba70" />
<polyline points="605,163 617.5,189" fill="none" stroke="#8e6f33" stroke-width="1.5" opacity="0.5" stroke-linecap="round" stroke-linejoin="round"/>
<polyline points="416.4,125.1 410.6,71.2 665.3,102.2 668.3,147" fill="none" stroke="#50708a" stroke-width="2" stroke-linejoin="miter"/>
<line x1="201.8" y1="250.2" x2="257.9" y2="259.2" stroke="#070707" stroke-width="6.3" />
</g>
</g>
<text transform="translate(-0.8,37.6) scale(1.1,1)" x="0" y="0" font-size="31.5" font-weight="bold" stroke="#000" stroke-width="1.6" stroke-linejoin="round" fill="#000">a</text>
</g>
<g id="panelb">
<defs>
<clipPath id="plotclip"><rect x="1046" y="22" width="665.5" height="712.5"/></clipPath>
<clipPath id="insetclip"><rect x="1065.5" y="59.3" width="409.2" height="208.4"/></clipPath>
<linearGradient id="gl1" x1="0" x2="1" y1="0" y2="0"><stop offset="0" stop-color="#dcc8a6"/><stop offset="0.07" stop-color="#c09d6c"/><stop offset="0.48" stop-color="#be9963"/><stop offset="0.56" stop-color="#b88949"/><stop offset="0.86" stop-color="#b98b4d"/><stop offset="0.95" stop-color="#c5a676"/><stop offset="1" stop-color="#e6d3b4"/></linearGradient>
<pattern id="stri" x="0" y="0" width="10" height="3.4" patternUnits="userSpaceOnUse"><rect x="0" y="0" width="10" height="1.5" fill="#d9cdb9"/></pattern>
<pattern id="stri2" x="0" y="0" width="10" height="3.4" patternUnits="userSpaceOnUse"><rect x="0" y="0" width="10" height="1.5" fill="#a87a3c"/></pattern>
<linearGradient id="strifade" x1="0" x2="1" y1="0" y2="0"><stop offset="0" stop-color="#fff" stop-opacity="1"/><stop offset="1" stop-color="#fff" stop-opacity="0"/></linearGradient>
<mask id="strimask"><rect x="1174" y="22" width="12" height="713" fill="url(#strifade)"/></mask>
<linearGradient id="gl2" x1="0" x2="1" y1="0" y2="0"><stop offset="0" stop-color="#d6b98f"/><stop offset="0.15" stop-color="#c49c62"/><stop offset="0.8" stop-color="#c7a16a"/><stop offset="1" stop-color="#dcc5a3"/></linearGradient>
<linearGradient id="gl3" x1="0" x2="1" y1="0" y2="0"><stop offset="0" stop-color="#d9bf98"/><stop offset="0.15" stop-color="#c8a36f"/><stop offset="0.8" stop-color="#caa674"/><stop offset="1" stop-color="#dfcaab"/></linearGradient>
<linearGradient id="gl4" x1="0" x2="1" y1="0" y2="0"><stop offset="0" stop-color="#dcc6a4"/><stop offset="0.15" stop-color="#cdae82"/><stop offset="0.8" stop-color="#cfb186"/><stop offset="1" stop-color="#e2d0b5"/></linearGradient>
<linearGradient id="cbar" x1="0" x2="0" y1="0" y2="1"><stop offset="0" stop-color="#b07a38"/><stop offset="0.25" stop-color="#c49a63"/><stop offset="0.5" stop-color="#d8bc99"/><stop offset="0.75" stop-color="#ebddcb"/><stop offset="1" stop-color="#ffffff"/></linearGradient>
<linearGradient id="botfade" x1="0" x2="0" y1="0" y2="1"><stop offset="0" stop-color="#eee5d9" stop-opacity="0"/><stop offset="1" stop-color="#eee5d9" stop-opacity="0.85"/></linearGradient>
<radialGradient id="glow" cx="0.5" cy="0.5" r="0.5"><stop offset="0" stop-color="#c98a2c" stop-opacity="0.9"/><stop offset="0.4" stop-color="#b07626" stop-opacity="0.6"/><stop offset="1" stop-color="#a06a20" stop-opacity="0"/></radialGradient>
<radialGradient id="ball" cx="0.4" cy="0.32" r="0.7"><stop offset="0" stop-color="#f3dc98"/><stop offset="0.35" stop-color="#d2ae5a"/><stop offset="0.75" stop-color="#a07a30"/><stop offset="1" stop-color="#6e501c"/></radialGradient>
<linearGradient id="oxg" x1="0" x2="0" y1="0" y2="1"><stop offset="0" stop-color="#c9c9c9"/><stop offset="0.22" stop-color="#dedede"/><stop offset="0.5" stop-color="#f4f4f4"/><stop offset="1" stop-color="#ffffff"/></linearGradient>
<filter id="blur05" x="-20%" y="-20%" width="140%" height="140%"><feGaussianBlur stdDeviation="0.6"/></filter>
<filter id="blur1" x="-20%" y="-20%" width="140%" height="140%"><feGaussianBlur stdDeviation="1"/></filter>
<filter id="blur2" x="-20%" y="-20%" width="140%" height="140%"><feGaussianBlur stdDeviation="2"/></filter>
<filter id="blur3" x="-30%" y="-30%" width="160%" height="160%"><feGaussianBlur stdDeviation="3.5"/></filter>
<filter id="blurx" x="-50%" y="-5%" width="200%" height="110%"><feGaussianBlur stdDeviation="1.2 0"/></filter>
</defs>
<g clip-path="url(#plotclip)">
<rect x="1046" y="22" width="665.5" height="712.5" fill="#eee5d9"/>
<rect x="1046" y="22" width="29" height="713" fill="#f1e9de" opacity="0.8"/>
<rect x="1057" y="22" width="10" height="713" fill="#f8f3ec" opacity="0.75" filter="url(#blurx)"/>
<rect x="1076" y="22" width="5" height="713" fill="#e9dfd1" opacity="0.5" filter="url(#blurx)"/>
<rect x="1131" y="600" width="11" height="140" fill="#f8f3ec" opacity="0.75" filter="url(#blur3)"/>
<polygon points="1136,615 1139,615 1142,745 1133,745" fill="#fdfbf8" opacity="0.9" filter="url(#blur2)"/>
<rect x="1148" y="650" width="6" height="90" fill="#f6f0e8" opacity="0.6" filter="url(#blur3)"/>
<rect x="1200" y="22" width="40" height="713" fill="#f2eadf" opacity="0.25" filter="url(#blur3)"/>
<rect x="1370" y="22" width="30" height="713" fill="#f2eadf" opacity="0.2" filter="url(#blur3)"/>
<rect x="1500" y="22" width="50" height="713" fill="#f2eadf" opacity="0.2" filter="url(#blur3)"/>
<rect x="1650" y="22" width="40" height="713" fill="#f2eadf" opacity="0.25" filter="url(#blur3)"/>
<line x1="1046" y1="377" x2="1711" y2="703" stroke="#e3d6c4" stroke-width="3" opacity="0.6" filter="url(#blur1)"/>
<line x1="1046" y1="310" x2="1160" y2="366" stroke="#e6dac9" stroke-width="2" opacity="0.25" filter="url(#blur1)"/>
<line x1="1600" y1="650" x2="1711" y2="710" stroke="#e0d2be" stroke-width="2.5" opacity="0.6" filter="url(#blur1)"/>
<g filter="url(#blur2)" opacity="0.85">
<polygon points="1305,22 1322,22 1327,60 1306,60" fill="#dfc9a4" />
<polygon points="1424,22 1438,22 1446,60 1428,60" fill="#e2cfb0" />
</g>
<polygon points="1158.2,22 1158.6,60 1160.2,268 1160.4,500 1161,590 1162,640 1163.5,700 1164,735 1169.5,735 1170.5,700 1172.5,640 1175,590 1175.2,500 1174.6,268 1172.6,60 1172.2,22" fill="url(#gl1)" />
<rect x="1167.6" y="22" width="5.2" height="600" fill="url(#stri2)" opacity="0.45"/>
<rect x="1174.8" y="22" width="2.6" height="590" fill="#f8ead2" opacity="0.85" filter="url(#blurx)"/>
<rect x="1176" y="22" width="10" height="640" fill="url(#stri)" opacity="0.55" mask="url(#strimask)"/>
<polygon points="1307.8,268 1306,350 1303,436 1300.6,500 1298.4,600 1296.2,735 1309.6,735 1312.5,600 1315,500 1316.5,436 1320,350 1321.8,268" fill="url(#gl2)" />
<polygon points="1441,268 1439.6,350 1437.6,436 1436.2,500 1434.8,600 1433.4,735 1446.5,735 1448,600 1449.4,500 1450.8,436 1453,350 1454.2,268" fill="url(#gl3)" />
<polygon points="1562,22 1566.4,60 1570.4,98.8 1574.6,140 1578.4,182.6 1581,225 1582.8,266.5 1584.2,310 1585,350 1584.6,430 1584.2,500 1584.6,600 1585.4,660 1586,700 1586.4,735 1592.8,735 1594,700 1595.4,660 1596.6,600 1597,500 1597.4,430 1597.8,350 1597,310 1595.8,266.5 1594,225 1591.4,182.6 1587.8,140 1583.8,98.8 1579.8,60 1575.6,22" fill="url(#gl4)" />
<rect x="1597" y="640" width="8" height="96" fill="#e6d8c2" opacity="0.7" filter="url(#blur2)"/>
</g>
<g clip-path="url(#insetclip)">
<rect x="1065.5" y="59.3" width="409.2" height="208.4" fill="#ffffff"/>
<rect x="1065.5" y="120.5" width="18" height="7" fill="#d2d2d2"/>
<rect x="1065.5" y="127.5" width="18" height="14" fill="#f0f0f0"/>
<rect x="1065.5" y="142" width="16" height="8.5" fill="#cfcfcf"/>
<rect x="1065.5" y="150.5" width="16" height="22" fill="#f2f2f2"/>
<rect x="1065.5" y="172" width="14" height="2" fill="#c8c8c8"/>
<clipPath id="oxca"><path d="M1079.5,178 C1079.6,171.4 1080.2,138.3 1080.5,128.4 C1080.8,118.5 1080.9,108.3 1081.6,104 C1082.3,99.7 1084.3,97.8 1086,96 C1087.7,94.2 1091,91 1094.2,90.2 C1097.4,89.4 1102.6,89.9 1110,89.9 C1117.4,89.9 1143.7,89.6 1149.8,89.9 C1155.9,90.2 1154.8,91.6 1156,92 C1157.2,92.4 1158,93.5 1158.6,93 C1159.2,92.5 1159.7,89.5 1160.5,88.5 C1161.3,87.5 1163.5,85.6 1164.6,85.5 C1165.7,85.4 1167.9,87.1 1169,88 C1170.1,88.9 1172,91.2 1173,92.5 C1174,93.8 1175.7,96 1176.6,97.5 C1177.5,99 1178.8,101.9 1179.5,103.5 C1180.2,105.1 1181.5,108.4 1181.8,109.2 L1181.8,200 L1079.5,200 Z"/></clipPath>
<g clip-path="url(#oxca)">
<path d="M1079.5,178 C1079.6,171.4 1080.2,138.3 1080.5,128.4 C1080.8,118.5 1080.9,108.3 1081.6,104 C1082.3,99.7 1084.3,97.8 1086,96 C1087.7,94.2 1091,91 1094.2,90.2 C1097.4,89.4 1102.6,89.9 1110,89.9 C1117.4,89.9 1143.7,89.6 1149.8,89.9 C1155.9,90.2 1154.8,91.6 1156,92 C1157.2,92.4 1158,93.5 1158.6,93 C1159.2,92.5 1159.7,89.5 1160.5,88.5 C1161.3,87.5 1163.5,85.6 1164.6,85.5 C1165.7,85.4 1167.9,87.1 1169,88 C1170.1,88.9 1172,91.2 1173,92.5 C1174,93.8 1175.7,96 1176.6,97.5 C1177.5,99 1178.8,101.9 1179.5,103.5 C1180.2,105.1 1181.5,108.4 1181.8,109.2" fill="none" stroke="#dcdcdc" stroke-width="30" stroke-linejoin="round" filter="url(#blur2)" opacity="0.7"/>
<path d="M1079.5,178 C1079.6,171.4 1080.2,138.3 1080.5,128.4 C1080.8,118.5 1080.9,108.3 1081.6,104 C1082.3,99.7 1084.3,97.8 1086,96 C1087.7,94.2 1091,91 1094.2,90.2 C1097.4,89.4 1102.6,89.9 1110,89.9 C1117.4,89.9 1143.7,89.6 1149.8,89.9 C1155.9,90.2 1154.8,91.6 1156,92 C1157.2,92.4 1158,93.5 1158.6,93 C1159.2,92.5 1159.7,89.5 1160.5,88.5 C1161.3,87.5 1163.5,85.6 1164.6,85.5 C1165.7,85.4 1167.9,87.1 1169,88 C1170.1,88.9 1172,91.2 1173,92.5 C1174,93.8 1175.7,96 1176.6,97.5 C1177.5,99 1178.8,101.9 1179.5,103.5 C1180.2,105.1 1181.5,108.4 1181.8,109.2" fill="none" stroke="#c6c6c6" stroke-width="17" stroke-linejoin="round" filter="url(#blur1)" opacity="0.85"/>
<path d="M1079.5,178 C1079.6,171.4 1080.2,138.3 1080.5,128.4 C1080.8,118.5 1080.9,108.3 1081.6,104 C1082.3,99.7 1084.3,97.8 1086,96 C1087.7,94.2 1091,91 1094.2,90.2 C1097.4,89.4 1102.6,89.9 1110,89.9 C1117.4,89.9 1143.7,89.6 1149.8,89.9 C1155.9,90.2 1154.8,91.6 1156,92 C1157.2,92.4 1158,93.5 1158.6,93 C1159.2,92.5 1159.7,89.5 1160.5,88.5 C1161.3,87.5 1163.5,85.6 1164.6,85.5 C1165.7,85.4 1167.9,87.1 1169,88 C1170.1,88.9 1172,91.2 1173,92.5 C1174,93.8 1175.7,96 1176.6,97.5 C1177.5,99 1178.8,101.9 1179.5,103.5 C1180.2,105.1 1181.5,108.4 1181.8,109.2" fill="none" stroke="#aaaaaa" stroke-width="5" stroke-linejoin="round" filter="url(#blur1)" opacity="0.7"/>
</g>
<clipPath id="oxcb"><path d="M1212.5,116.5 C1212.9,115.6 1214.6,111.3 1215.5,109.5 C1216.4,107.7 1218,104.9 1219.2,103.1 C1220.4,101.3 1222.7,97.7 1224.5,96 C1226.3,94.3 1230.9,91.3 1233,90.5 C1235.1,89.7 1236.1,90 1240,89.9 C1243.9,89.8 1258.3,89.6 1262,89.9 C1265.7,90.2 1266.7,91.6 1268,92.5 C1269.3,93.4 1270.8,95.7 1271.5,96.5 C1272.2,97.3 1272.9,99 1273.3,98.3 C1273.7,97.6 1273.8,93.3 1274.4,91.5 C1275,89.7 1276.4,86 1277.5,84.5 C1278.6,83 1281,80.7 1282.7,80.1 C1284.4,79.5 1286.5,79.8 1290,79.8 C1293.5,79.8 1306.2,79.4 1309.3,79.8 C1312.4,80.2 1312.7,81.9 1313.6,82.8 C1314.5,83.7 1315.7,85.4 1316.2,86.7 C1316.7,88 1317.3,90.9 1317.6,92.5 C1317.9,94.1 1318.2,98.4 1318.7,98.9 C1319.2,99.4 1320.5,97.1 1321.5,96.2 C1322.5,95.3 1325.1,92.8 1326.5,92 C1327.9,91.2 1327.4,90.2 1332,89.9 C1336.6,89.6 1356.3,89.5 1361,89.9 C1365.7,90.3 1366,91.9 1367.5,92.8 C1369,93.7 1371.6,96.1 1372.4,96.8 C1373.2,97.5 1373.5,99 1373.8,98.4 C1374.1,97.8 1374.1,94.1 1374.6,92.5 C1375.1,90.9 1376.2,87.9 1377.5,86.2 C1378.8,84.5 1382.5,81 1384.4,80.1 C1386.3,79.2 1386.5,79.8 1392,79.8 C1397.5,79.8 1420.3,79.4 1425.4,79.8 C1430.5,80.2 1429,81.7 1430,82.6 C1431,83.5 1432.4,85.4 1433,86.7 C1433.6,88 1433.9,90.8 1434.2,92.5 C1434.5,94.2 1434.3,99.3 1434.9,99.6 C1435.5,99.9 1437.4,96 1438.5,95 C1439.6,94 1441.9,92.5 1443.1,92.4 C1444.3,92.3 1446.3,93.4 1447.6,94.4 C1448.9,95.4 1451.2,98.1 1452.5,99.6 C1453.8,101.1 1455.8,103.9 1457,105.7 C1458.2,107.5 1460.4,110.9 1461.5,112.8 C1462.6,114.7 1464.3,119 1465.2,120.2 C1466.1,121.4 1467.6,121.6 1468,121.8 L1468,200 L1212.5,200 Z"/></clipPath>
<g clip-path="url(#oxcb)">
<path d="M1212.5,116.5 C1212.9,115.6 1214.6,111.3 1215.5,109.5 C1216.4,107.7 1218,104.9 1219.2,103.1 C1220.4,101.3 1222.7,97.7 1224.5,96 C1226.3,94.3 1230.9,91.3 1233,90.5 C1235.1,89.7 1236.1,90 1240,89.9 C1243.9,89.8 1258.3,89.6 1262,89.9 C1265.7,90.2 1266.7,91.6 1268,92.5 C1269.3,93.4 1270.8,95.7 1271.5,96.5 C1272.2,97.3 1272.9,99 1273.3,98.3 C1273.7,97.6 1273.8,93.3 1274.4,91.5 C1275,89.7 1276.4,86 1277.5,84.5 C1278.6,83 1281,80.7 1282.7,80.1 C1284.4,79.5 1286.5,79.8 1290,79.8 C1293.5,79.8 1306.2,79.4 1309.3,79.8 C1312.4,80.2 1312.7,81.9 1313.6,82.8 C1314.5,83.7 1315.7,85.4 1316.2,86.7 C1316.7,88 1317.3,90.9 1317.6,92.5 C1317.9,94.1 1318.2,98.4 1318.7,98.9 C1319.2,99.4 1320.5,97.1 1321.5,96.2 C1322.5,95.3 1325.1,92.8 1326.5,92 C1327.9,91.2 1327.4,90.2 1332,89.9 C1336.6,89.6 1356.3,89.5 1361,89.9 C1365.7,90.3 1366,91.9 1367.5,92.8 C1369,93.7 1371.6,96.1 1372.4,96.8 C1373.2,97.5 1373.5,99 1373.8,98.4 C1374.1,97.8 1374.1,94.1 1374.6,92.5 C1375.1,90.9 1376.2,87.9 1377.5,86.2 C1378.8,84.5 1382.5,81 1384.4,80.1 C1386.3,79.2 1386.5,79.8 1392,79.8 C1397.5,79.8 1420.3,79.4 1425.4,79.8 C1430.5,80.2 1429,81.7 1430,82.6 C1431,83.5 1432.4,85.4 1433,86.7 C1433.6,88 1433.9,90.8 1434.2,92.5 C1434.5,94.2 1434.3,99.3 1434.9,99.6 C1435.5,99.9 1437.4,96 1438.5,95 C1439.6,94 1441.9,92.5 1443.1,92.4 C1444.3,92.3 1446.3,93.4 1447.6,94.4 C1448.9,95.4 1451.2,98.1 1452.5,99.6 C1453.8,101.1 1455.8,103.9 1457,105.7 C1458.2,107.5 1460.4,110.9 1461.5,112.8 C1462.6,114.7 1464.3,119 1465.2,120.2 C1466.1,121.4 1467.6,121.6 1468,121.8" fill="none" stroke="#dcdcdc" stroke-width="30" stroke-linejoin="round" filter="url(#blur2)" opacity="0.7"/>
<path d="M1212.5,116.5 C1212.9,115.6 1214.6,111.3 1215.5,109.5 C1216.4,107.7 1218,104.9 1219.2,103.1 C1220.4,101.3 1222.7,97.7 1224.5,96 C1226.3,94.3 1230.9,91.3 1233,90.5 C1235.1,89.7 1236.1,90 1240,89.9 C1243.9,89.8 1258.3,89.6 1262,89.9 C1265.7,90.2 1266.7,91.6 1268,92.5 C1269.3,93.4 1270.8,95.7 1271.5,96.5 C1272.2,97.3 1272.9,99 1273.3,98.3 C1273.7,97.6 1273.8,93.3 1274.4,91.5 C1275,89.7 1276.4,86 1277.5,84.5 C1278.6,83 1281,80.7 1282.7,80.1 C1284.4,79.5 1286.5,79.8 1290,79.8 C1293.5,79.8 1306.2,79.4 1309.3,79.8 C1312.4,80.2 1312.7,81.9 1313.6,82.8 C1314.5,83.7 1315.7,85.4 1316.2,86.7 C1316.7,88 1317.3,90.9 1317.6,92.5 C1317.9,94.1 1318.2,98.4 1318.7,98.9 C1319.2,99.4 1320.5,97.1 1321.5,96.2 C1322.5,95.3 1325.1,92.8 1326.5,92 C1327.9,91.2 1327.4,90.2 1332,89.9 C1336.6,89.6 1356.3,89.5 1361,89.9 C1365.7,90.3 1366,91.9 1367.5,92.8 C1369,93.7 1371.6,96.1 1372.4,96.8 C1373.2,97.5 1373.5,99 1373.8,98.4 C1374.1,97.8 1374.1,94.1 1374.6,92.5 C1375.1,90.9 1376.2,87.9 1377.5,86.2 C1378.8,84.5 1382.5,81 1384.4,80.1 C1386.3,79.2 1386.5,79.8 1392,79.8 C1397.5,79.8 1420.3,79.4 1425.4,79.8 C1430.5,80.2 1429,81.7 1430,82.6 C1431,83.5 1432.4,85.4 1433,86.7 C1433.6,88 1433.9,90.8 1434.2,92.5 C1434.5,94.2 1434.3,99.3 1434.9,99.6 C1435.5,99.9 1437.4,96 1438.5,95 C1439.6,94 1441.9,92.5 1443.1,92.4 C1444.3,92.3 1446.3,93.4 1447.6,94.4 C1448.9,95.4 1451.2,98.1 1452.5,99.6 C1453.8,101.1 1455.8,103.9 1457,105.7 C1458.2,107.5 1460.4,110.9 1461.5,112.8 C1462.6,114.7 1464.3,119 1465.2,120.2 C1466.1,121.4 1467.6,121.6 1468,121.8" fill="none" stroke="#c6c6c6" stroke-width="17" stroke-linejoin="round" filter="url(#blur1)" opacity="0.85"/>
<path d="M1212.5,116.5 C1212.9,115.6 1214.6,111.3 1215.5,109.5 C1216.4,107.7 1218,104.9 1219.2,103.1 C1220.4,101.3 1222.7,97.7 1224.5,96 C1226.3,94.3 1230.9,91.3 1233,90.5 C1235.1,89.7 1236.1,90 1240,89.9 C1243.9,89.8 1258.3,89.6 1262,89.9 C1265.7,90.2 1266.7,91.6 1268,92.5 C1269.3,93.4 1270.8,95.7 1271.5,96.5 C1272.2,97.3 1272.9,99 1273.3,98.3 C1273.7,97.6 1273.8,93.3 1274.4,91.5 C1275,89.7 1276.4,86 1277.5,84.5 C1278.6,83 1281,80.7 1282.7,80.1 C1284.4,79.5 1286.5,79.8 1290,79.8 C1293.5,79.8 1306.2,79.4 1309.3,79.8 C1312.4,80.2 1312.7,81.9 1313.6,82.8 C1314.5,83.7 1315.7,85.4 1316.2,86.7 C1316.7,88 1317.3,90.9 1317.6,92.5 C1317.9,94.1 1318.2,98.4 1318.7,98.9 C1319.2,99.4 1320.5,97.1 1321.5,96.2 C1322.5,95.3 1325.1,92.8 1326.5,92 C1327.9,91.2 1327.4,90.2 1332,89.9 C1336.6,89.6 1356.3,89.5 1361,89.9 C1365.7,90.3 1366,91.9 1367.5,92.8 C1369,93.7 1371.6,96.1 1372.4,96.8 C1373.2,97.5 1373.5,99 1373.8,98.4 C1374.1,97.8 1374.1,94.1 1374.6,92.5 C1375.1,90.9 1376.2,87.9 1377.5,86.2 C1378.8,84.5 1382.5,81 1384.4,80.1 C1386.3,79.2 1386.5,79.8 1392,79.8 C1397.5,79.8 1420.3,79.4 1425.4,79.8 C1430.5,80.2 1429,81.7 1430,82.6 C1431,83.5 1432.4,85.4 1433,86.7 C1433.6,88 1433.9,90.8 1434.2,92.5 C1434.5,94.2 1434.3,99.3 1434.9,99.6 C1435.5,99.9 1437.4,96 1438.5,95 C1439.6,94 1441.9,92.5 1443.1,92.4 C1444.3,92.3 1446.3,93.4 1447.6,94.4 C1448.9,95.4 1451.2,98.1 1452.5,99.6 C1453.8,101.1 1455.8,103.9 1457,105.7 C1458.2,107.5 1460.4,110.9 1461.5,112.8 C1462.6,114.7 1464.3,119 1465.2,120.2 C1466.1,121.4 1467.6,121.6 1468,121.8" fill="none" stroke="#aaaaaa" stroke-width="5" stroke-linejoin="round" filter="url(#blur1)" opacity="0.7"/>
</g>
<g filter="url(#blur1)">
<rect x="1082.5" y="124" width="79.5" height="76" rx="9" fill="#ffffff"/>
<rect x="1156" y="107.5" width="64.5" height="87.5" rx="9" fill="#ffffff"/>
<rect x="1217.5" y="122" width="54.5" height="78" rx="9" fill="#ffffff"/>
<rect x="1270" y="98" width="50.5" height="96" rx="9" fill="#ffffff"/>
<rect x="1318.5" y="122" width="54.5" height="78" rx="9" fill="#ffffff"/>
<rect x="1371.5" y="98" width="64" height="96" rx="9" fill="#ffffff"/>
<rect x="1431.5" y="122" width="55" height="78" rx="9" fill="#ffffff"/>
</g>
<path d="M1081,178 L1081.5,138 Q1083,125.5 1094,124.5 L1150,124.5 Q1156,124 1158.5,118" fill="none" stroke="#c4c4c4" stroke-width="1.3" opacity="0.9"/>
<path d="M1079.5,178 C1079.6,171.4 1080.2,138.3 1080.5,128.4 C1080.8,118.5 1080.9,108.3 1081.6,104 C1082.3,99.7 1084.3,97.8 1086,96 C1087.7,94.2 1091,91 1094.2,90.2 C1097.4,89.4 1102.6,89.9 1110,89.9 C1117.4,89.9 1143.7,89.6 1149.8,89.9 C1155.9,90.2 1154.8,91.6 1156,92 C1157.2,92.4 1158,93.5 1158.6,93 C1159.2,92.5 1159.7,89.5 1160.5,88.5 C1161.3,87.5 1163.5,85.6 1164.6,85.5 C1165.7,85.4 1167.9,87.1 1169,88 C1170.1,88.9 1172,91.2 1173,92.5 C1174,93.8 1175.7,96 1176.6,97.5 C1177.5,99 1178.8,101.9 1179.5,103.5 C1180.2,105.1 1181.5,108.4 1181.8,109.2" fill="none" stroke="#747474" stroke-width="1.9" stroke-linejoin="round" stroke-linecap="round"/>
<path d="M1212.5,116.5 C1212.9,115.6 1214.6,111.3 1215.5,109.5 C1216.4,107.7 1218,104.9 1219.2,103.1 C1220.4,101.3 1222.7,97.7 1224.5,96 C1226.3,94.3 1230.9,91.3 1233,90.5 C1235.1,89.7 1236.1,90 1240,89.9 C1243.9,89.8 1258.3,89.6 1262,89.9 C1265.7,90.2 1266.7,91.6 1268,92.5 C1269.3,93.4 1270.8,95.7 1271.5,96.5 C1272.2,97.3 1272.9,99 1273.3,98.3 C1273.7,97.6 1273.8,93.3 1274.4,91.5 C1275,89.7 1276.4,86 1277.5,84.5 C1278.6,83 1281,80.7 1282.7,80.1 C1284.4,79.5 1286.5,79.8 1290,79.8 C1293.5,79.8 1306.2,79.4 1309.3,79.8 C1312.4,80.2 1312.7,81.9 1313.6,82.8 C1314.5,83.7 1315.7,85.4 1316.2,86.7 C1316.7,88 1317.3,90.9 1317.6,92.5 C1317.9,94.1 1318.2,98.4 1318.7,98.9 C1319.2,99.4 1320.5,97.1 1321.5,96.2 C1322.5,95.3 1325.1,92.8 1326.5,92 C1327.9,91.2 1327.4,90.2 1332,89.9 C1336.6,89.6 1356.3,89.5 1361,89.9 C1365.7,90.3 1366,91.9 1367.5,92.8 C1369,93.7 1371.6,96.1 1372.4,96.8 C1373.2,97.5 1373.5,99 1373.8,98.4 C1374.1,97.8 1374.1,94.1 1374.6,92.5 C1375.1,90.9 1376.2,87.9 1377.5,86.2 C1378.8,84.5 1382.5,81 1384.4,80.1 C1386.3,79.2 1386.5,79.8 1392,79.8 C1397.5,79.8 1420.3,79.4 1425.4,79.8 C1430.5,80.2 1429,81.7 1430,82.6 C1431,83.5 1432.4,85.4 1433,86.7 C1433.6,88 1433.9,90.8 1434.2,92.5 C1434.5,94.2 1434.3,99.3 1434.9,99.6 C1435.5,99.9 1437.4,96 1438.5,95 C1439.6,94 1441.9,92.5 1443.1,92.4 C1444.3,92.3 1446.3,93.4 1447.6,94.4 C1448.9,95.4 1451.2,98.1 1452.5,99.6 C1453.8,101.1 1455.8,103.9 1457,105.7 C1458.2,107.5 1460.4,110.9 1461.5,112.8 C1462.6,114.7 1464.3,119 1465.2,120.2 C1466.1,121.4 1467.6,121.6 1468,121.8" fill="none" stroke="#747474" stroke-width="1.9" stroke-linejoin="round" stroke-linecap="round"/>
<g filter="url(#blur05)"><polygon points="1270.7,96.8 1275.9,96.8 1274,113 1272.6,113" fill="#8f8f8f" opacity="0.85"/>
<polygon points="1316.1,97.4 1321.3,97.4 1319.4,114 1318,114" fill="#8f8f8f" opacity="0.85"/>
<polygon points="1371.2,96.9 1376.4,96.9 1374.5,112 1373.1,112" fill="#8f8f8f" opacity="0.85"/>
<polygon points="1432.3,98.1 1437.5,98.1 1435.6,108 1434.2,108" fill="#8f8f8f" opacity="0.85"/>
<polygon points="1156.2,91.5 1161.4,91.5 1159.5,101 1158.1,101" fill="#8f8f8f" opacity="0.85"/>
</g>
<path d="M1157.5,119 L1160,113.5 M1213,115.5 L1215,110.5" stroke="#6f8fa0" stroke-width="1.5" fill="none"/>
<path d="M1090.2,136.5 Q1090.2,132.5 1094.2,132.5 L1150.3,132.5 Q1154.3,132.5 1154.3,136.5 L1154.6,155.4 Q1154.9,160.6 1155.2,164.1 L1155.5,180.5 Q1155.5,183.5 1152.5,183.5 L1092,183.5 Q1089,183.5 1089,180.5 L1089.3,168.2 Q1089.5,163.1 1090.2,158 Z" fill="#be9b70" stroke="#f3d9b0" stroke-width="1" stroke-opacity="0.35"/>
<path d="M1164.5,120 Q1164.5,116 1168.5,116 L1208,116 Q1212,116 1212,120 L1212.3,144.1 Q1212.6,150.4 1213.7,154.8 L1214,175.5 Q1214,178.5 1211,178.5 L1165.5,178.5 Q1162.5,178.5 1162.5,175.5 L1162.8,159.8 Q1163,153.5 1164.5,147.2 Z" fill="#b97f36" stroke="#f3d9b0" stroke-width="1" stroke-opacity="0.35"/>
<path d="M1225.2,134.5 Q1225.2,130.5 1229.2,130.5 L1260.3,130.5 Q1264.3,130.5 1264.3,134.5 L1264.6,154.3 Q1264.9,159.7 1265.2,163.4 L1265.5,180.5 Q1265.5,183.5 1262.5,183.5 L1227,183.5 Q1224,183.5 1224,180.5 L1224.3,167.6 Q1224.5,162.3 1225.2,157 Z" fill="#be9b70" stroke="#f3d9b0" stroke-width="1" stroke-opacity="0.35"/>
<path d="M1278.5,110.5 Q1278.5,106.5 1282.5,106.5 L1308,106.5 Q1312,106.5 1312,110.5 L1312.3,138.4 Q1312.6,145.6 1313.7,150.5 L1314,174.5 Q1314,177.5 1311,177.5 L1279.5,177.5 Q1276.5,177.5 1276.5,174.5 L1276.8,156.2 Q1277,149.1 1278.5,142 Z" fill="#b97f36" stroke="#f3d9b0" stroke-width="1" stroke-opacity="0.35"/>
<path d="M1326.2,134.5 Q1326.2,130.5 1330.2,130.5 L1361.3,130.5 Q1365.3,130.5 1365.3,134.5 L1365.6,154.3 Q1365.9,159.7 1366.2,163.4 L1366.5,180.5 Q1366.5,183.5 1363.5,183.5 L1328,183.5 Q1325,183.5 1325,180.5 L1325.3,167.6 Q1325.5,162.3 1326.2,157 Z" fill="#be9b70" stroke="#f3d9b0" stroke-width="1" stroke-opacity="0.35"/>
<path d="M1380,110.5 Q1380,106.5 1384,106.5 L1423,106.5 Q1427,106.5 1427,110.5 L1427.3,138.4 Q1427.6,145.6 1428.7,150.5 L1429,174.5 Q1429,177.5 1426,177.5 L1381,177.5 Q1378,177.5 1378,174.5 L1378.3,156.2 Q1378.5,149.1 1380,142 Z" fill="#b97f36" stroke="#f3d9b0" stroke-width="1" stroke-opacity="0.35"/>
<path d="M1439.2,134.5 Q1439.2,130.5 1443.2,130.5 L1474.8,130.5 Q1478.8,130.5 1478.8,134.5 L1479.1,154.3 Q1479.4,159.7 1479.7,163.4 L1480,180.5 Q1480,183.5 1477,183.5 L1441,183.5 Q1438,183.5 1438,180.5 L1438.3,167.6 Q1438.5,162.3 1439.2,157 Z" fill="#be9b70" stroke="#f3d9b0" stroke-width="1" stroke-opacity="0.35"/>
<line x1="1065.5" y1="189" x2="1474.7" y2="189" stroke="#d6d6d6" stroke-width="1.6" />
<rect x="1065.5" y="209.4" width="409.2" height="58.3" fill="#555354"/>
<rect x="1065.5" y="209" width="409.2" height="1.5" fill="#4a4848"/>
<ellipse cx="1230" cy="243" rx="34" ry="36" fill="url(#glow)"/>
<ellipse cx="1359" cy="241" rx="29" ry="32" fill="url(#glow)"/>
<path d="M1193.5,185.8 C1194.5,189.7 1196.9,200.1 1199.4,209.1 C1201.9,218.1 1205.1,231.2 1208.3,239.6 C1211.5,248 1214.8,255.1 1218.7,259.7 C1222.6,264.3 1227.6,266.3 1231.6,267.4 C1235.6,268.5 1238.2,268.3 1242.8,266.1 C1247.3,263.9 1254.4,257.6 1258.9,254.1 C1263.4,250.6 1266.6,247.9 1270,245.3 C1273.4,242.8 1274.8,240.7 1279.3,238.8 C1283.8,236.9 1290.8,234 1297,234 C1303.2,234 1310.3,236 1316.2,238.8 C1322.1,241.6 1326.7,246.8 1332.3,250.9 C1337.9,255.1 1344.9,260.9 1350,263.7 C1355.1,266.4 1358.5,267.4 1362.8,267.4 C1367.1,267.4 1371.7,267.5 1375.7,263.7 C1379.7,259.9 1383.8,252.8 1387,244.5 C1390.2,236.2 1392.5,223.7 1395,213.9 C1397.5,204.1 1401,190.5 1402.2,185.8" fill="none" stroke="#0a0a0a" stroke-width="1.6" stroke-linecap="round"/>
<circle cx="1219.5" cy="230.8" r="7.2" fill="url(#ball)"/>
<circle cx="1240.7" cy="238.3" r="6.6" fill="url(#ball)"/>
<circle cx="1226.8" cy="254.4" r="7.2" fill="url(#ball)"/>
<circle cx="1358.8" cy="240.9" r="7" fill="url(#ball)"/>
</g>
<text x="1243.8" y="172.9" font-size="24" text-anchor="middle" >P1</text>
<text x="1294" y="143.6" font-size="24" text-anchor="middle" >J</text>
<text x="1346" y="172.9" font-size="24" text-anchor="middle" >P2</text>
<rect x="1046" y="22" width="665.5" height="712.5" fill="none" stroke="#2b2622" stroke-width="1.6"/>
<line x1="1034.5" y1="731" x2="1046" y2="731" stroke="#1a1a1a" stroke-width="1.5" />
<text x="1023.6" y="739.5" font-size="24" text-anchor="end" >0.85</text>
<line x1="1034.5" y1="638.1" x2="1046" y2="638.1" stroke="#1a1a1a" stroke-width="1.5" />
<text x="1023.6" y="646.6" font-size="24" text-anchor="end" >0.90</text>
<line x1="1034.5" y1="545.3" x2="1046" y2="545.3" stroke="#1a1a1a" stroke-width="1.5" />
<text x="1023.6" y="553.8" font-size="24" text-anchor="end" >0.95</text>
<line x1="1034.5" y1="452.4" x2="1046" y2="452.4" stroke="#1a1a1a" stroke-width="1.5" />
<text x="1023.6" y="460.9" font-size="24" text-anchor="end" >1.00</text>
<line x1="1034.5" y1="359.6" x2="1046" y2="359.6" stroke="#1a1a1a" stroke-width="1.5" />
<text x="1023.6" y="368.1" font-size="24" text-anchor="end" >1.05</text>
<line x1="1034.5" y1="266.7" x2="1046" y2="266.7" stroke="#1a1a1a" stroke-width="1.5" />
<text x="1023.6" y="275.2" font-size="24" text-anchor="end" >1.10</text>
<line x1="1034.5" y1="173.9" x2="1046" y2="173.9" stroke="#1a1a1a" stroke-width="1.5" />
<text x="1023.6" y="182.4" font-size="24" text-anchor="end" >1.15</text>
<line x1="1034.5" y1="81" x2="1046" y2="81" stroke="#1a1a1a" stroke-width="1.5" />
<text x="1023.6" y="89.5" font-size="24" text-anchor="end" >1.20</text>
<line x1="1080.4" y1="734.5" x2="1080.4" y2="746" stroke="#1a1a1a" stroke-width="1.5" />
<text x="1080.4" y="778.2" font-size="24" text-anchor="middle" >–300</text>
<line x1="1253.6" y1="734.5" x2="1253.6" y2="746" stroke="#1a1a1a" stroke-width="1.5" />
<text x="1253.6" y="778.2" font-size="24" text-anchor="middle" >–200</text>
<line x1="1426.8" y1="734.5" x2="1426.8" y2="746" stroke="#1a1a1a" stroke-width="1.5" />
<text x="1426.8" y="778.2" font-size="24" text-anchor="middle" >–100</text>
<line x1="1600" y1="734.5" x2="1600" y2="746" stroke="#1a1a1a" stroke-width="1.5" />
<text x="1600" y="778.2" font-size="24" text-anchor="middle" >0</text>
<text x="1378.7" y="816" font-size="24" text-anchor="middle">Δ<tspan font-style="italic">V</tspan><tspan font-size="19" dy="6.9">P</tspan><tspan dy="-6.9"> (mV)</tspan></text>
<text transform="translate(947.5,378.2) rotate(-90)" font-size="24" text-anchor="middle"><tspan font-style="italic">V</tspan><tspan font-size="19" dy="6.9">J</tspan><tspan dy="-6.9"> (V)</tspan></text>
<rect x="1752.6" y="22" width="36" height="712.5" fill="url(#cbar)" stroke="#1f1a16" stroke-width="1.4"/>
<text transform="translate(1808.3,378.6) rotate(90)" font-size="24" text-anchor="middle">SET signal (a.u.)</text>
<text transform="translate(925.2,37.3) scale(1.14,1)" x="0" y="0" font-size="29.5" font-weight="bold" stroke="#000" stroke-width="1.7" stroke-linejoin="round" fill="#000">b</text>
<polygon points="1517.6,53.4 1537.5,53.4 1527.5,72.2" fill="#0b0b0b" stroke="#0b0b0b" stroke-width="3" stroke-linejoin="round"/>
<text x="1545.2" y="71.7" font-size="24"><tspan font-style="italic">J</tspan><tspan font-size="19" dy="7.5" dx="0.5">on</tspan></text>
<polygon points="1593.3,366.4 1596.8,374.7 1605.9,375.5 1599,381.5 1601.1,390.3 1593.3,385.6 1585.5,390.3 1587.6,381.5 1580.7,375.5 1589.8,374.7" fill="#0b0b0b" stroke="#0b0b0b" stroke-width="2" stroke-linejoin="round"/>
<text x="1612.2" y="388" font-size="24"><tspan font-style="italic">V</tspan><tspan font-size="19" dy="7.4" dx="-1">read</tspan></text>
<polygon points="1517.7,486.9 1537.4,486.9 1527.5,467.4" fill="#0b0b0b" stroke="#0b0b0b" stroke-width="3" stroke-linejoin="round"/>
<text x="1543.4" y="483.7" font-size="24"><tspan font-style="italic">J</tspan><tspan font-size="19" dy="8.9" dx="0.5">off</tspan></text>
<text x="1099.2" y="695.8" font-size="24" text-anchor="middle" >(0,4)</text>
<text x="1232.8" y="695.8" font-size="24" text-anchor="middle" >(1,3)</text>
<text x="1366.2" y="695.8" font-size="24" text-anchor="middle" >(2,2)</text>
<text x="1518.8" y="695.8" font-size="24" text-anchor="middle" >(3,1)</text>
<text x="1656" y="695.8" font-size="24" text-anchor="middle" >(4,0)</text>
</g>
</svg>
</body></html>
